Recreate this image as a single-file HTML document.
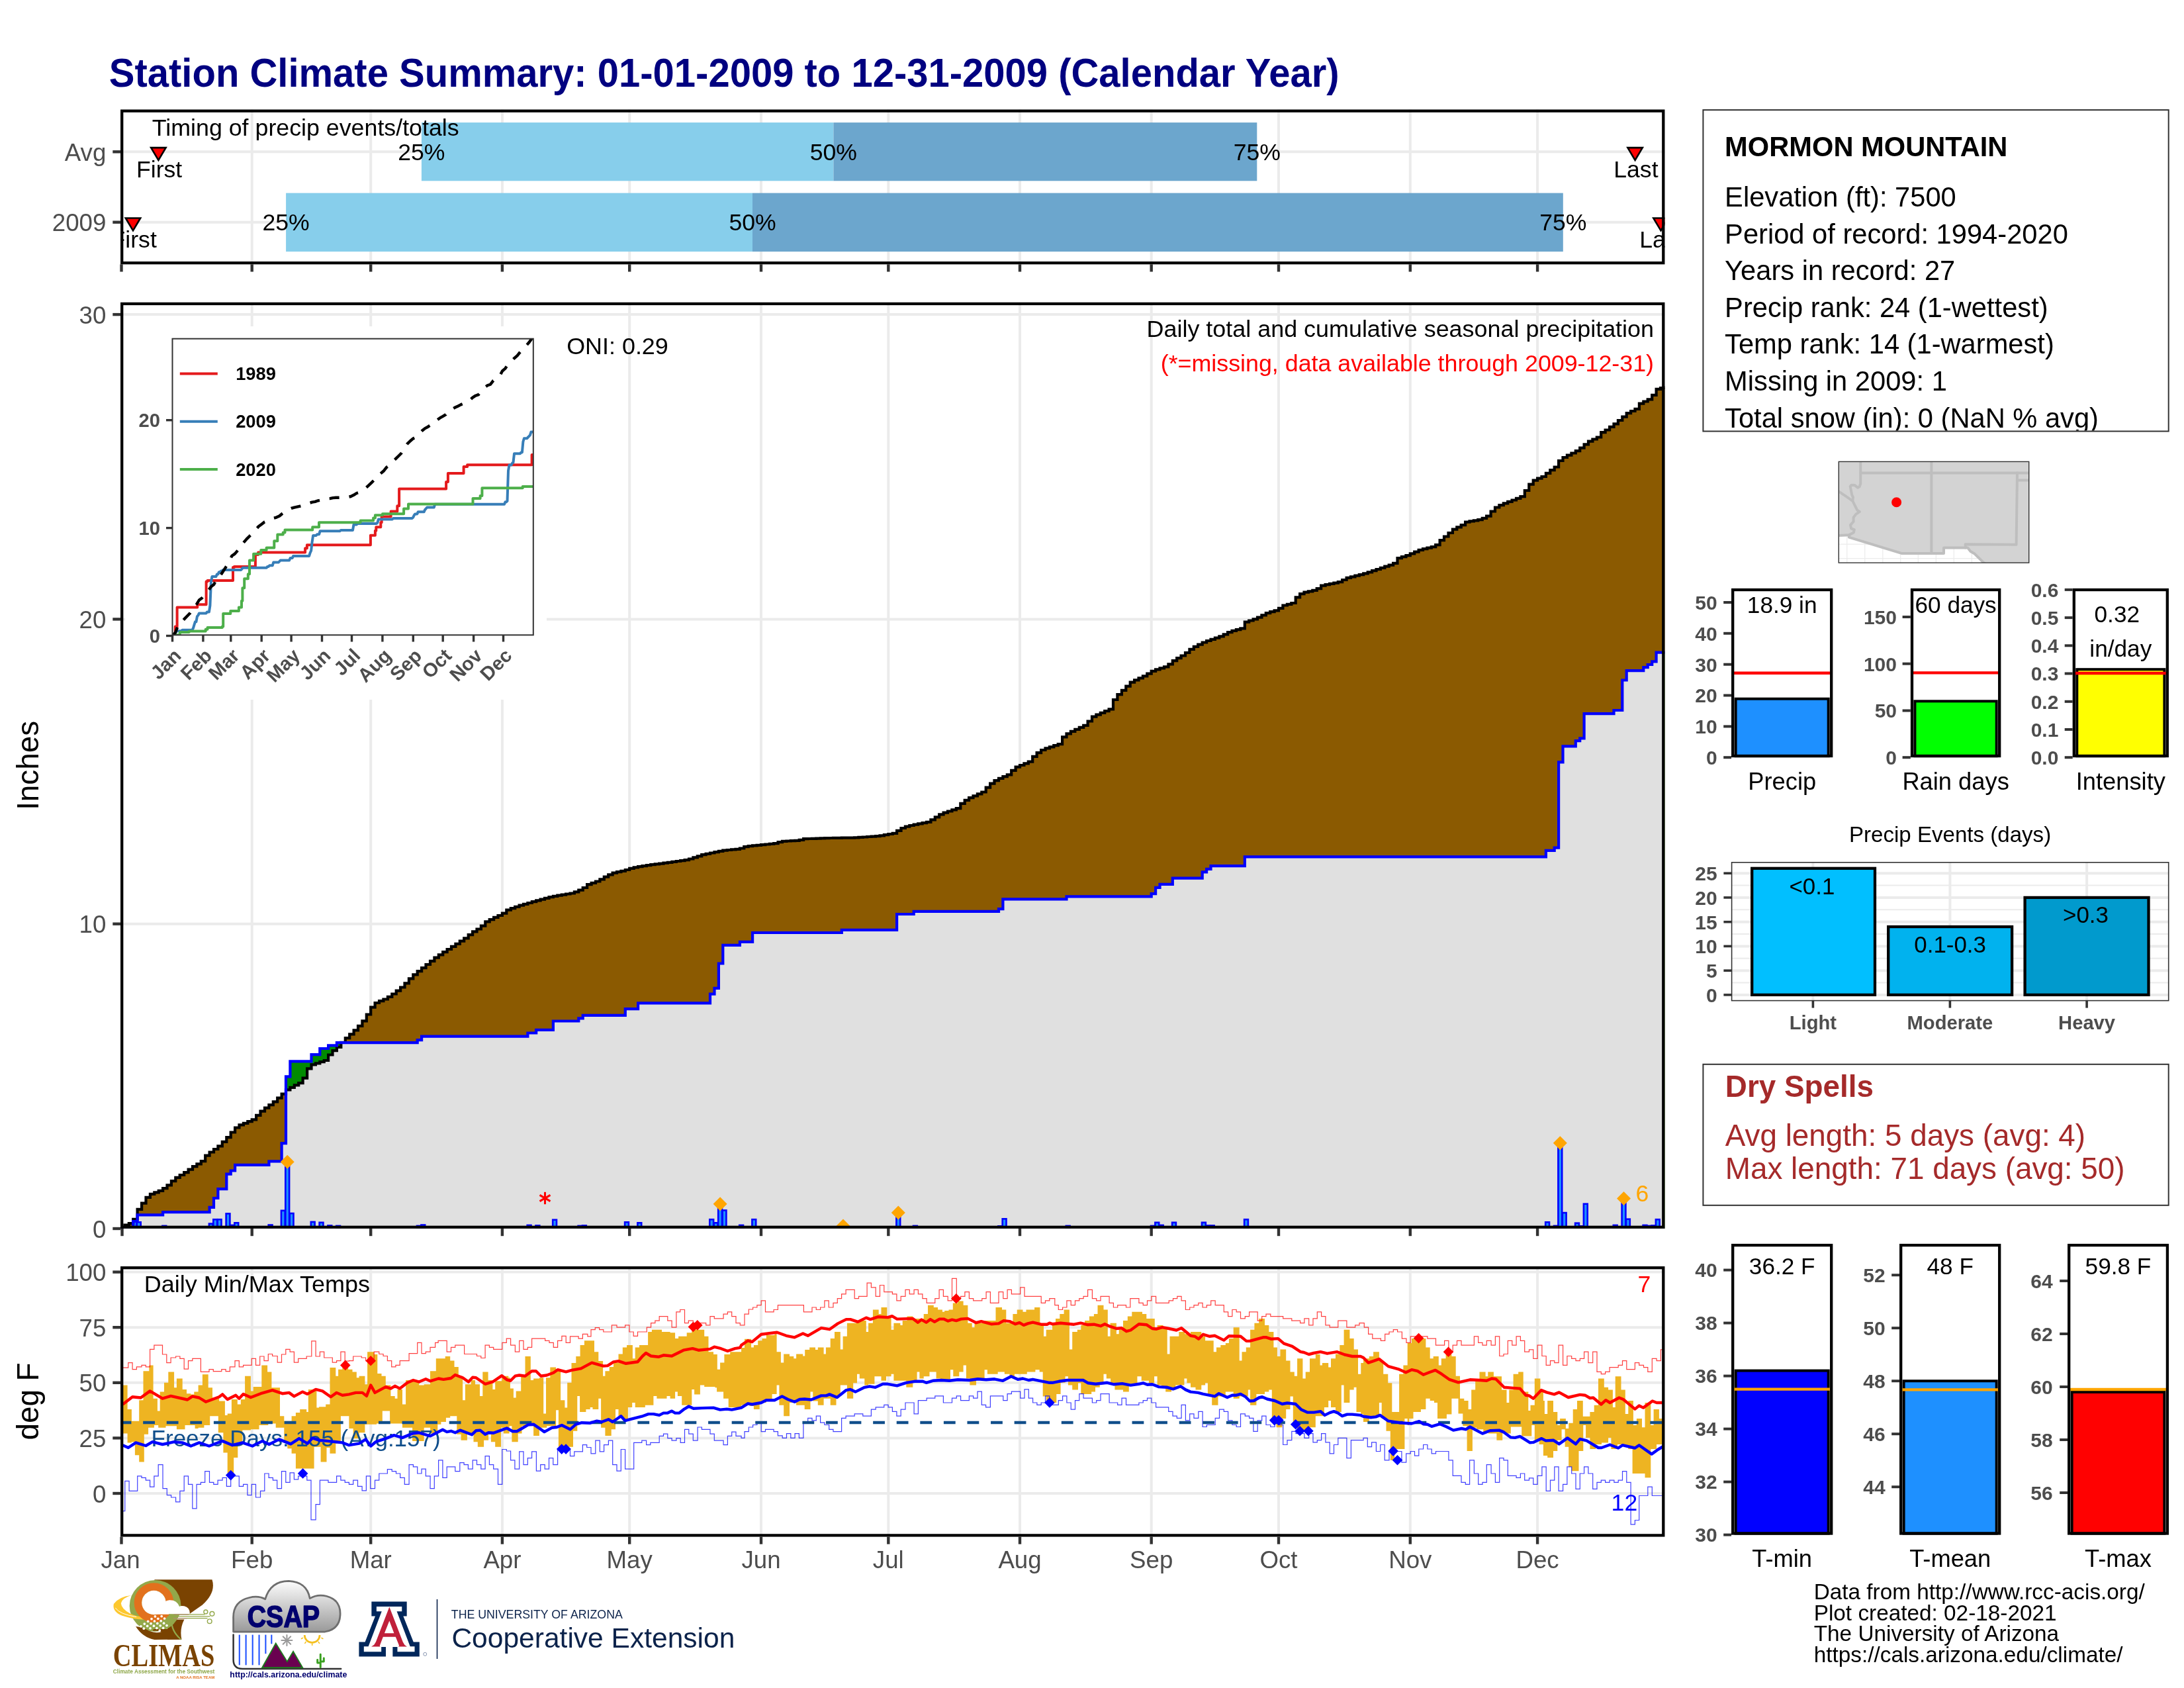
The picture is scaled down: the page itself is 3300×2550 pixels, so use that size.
<!DOCTYPE html><html><head><meta charset="utf-8"><title>Station Climate Summary</title>
<style>html,body{margin:0;padding:0;background:#fff}svg{display:block;will-change:transform;opacity:.999}text{font-family:"Liberation Sans",sans-serif}</style></head><body>
<svg width="3300" height="2550" viewBox="0 0 3300 2550">
<rect width="3300" height="2550" fill="#fff"/>
<text transform="translate(164.8 131.3) scale(1.0035 1.065)" x="0" y="0" font-size="57.8" font-weight="bold" fill="#000080">Station Climate Summary: 01-01-2009 to 12-31-2009 (Calendar Year)</text>
<g>
<line x1="380.7" y1="165.4" x2="380.7" y2="399.3" stroke="#EBEBEB" stroke-width="4" />
<line x1="560.2" y1="165.4" x2="560.2" y2="399.3" stroke="#EBEBEB" stroke-width="4" />
<line x1="758.9" y1="165.4" x2="758.9" y2="399.3" stroke="#EBEBEB" stroke-width="4" />
<line x1="951.2" y1="165.4" x2="951.2" y2="399.3" stroke="#EBEBEB" stroke-width="4" />
<line x1="1150" y1="165.4" x2="1150" y2="399.3" stroke="#EBEBEB" stroke-width="4" />
<line x1="1342.3" y1="165.4" x2="1342.3" y2="399.3" stroke="#EBEBEB" stroke-width="4" />
<line x1="1541" y1="165.4" x2="1541" y2="399.3" stroke="#EBEBEB" stroke-width="4" />
<line x1="1739.7" y1="165.4" x2="1739.7" y2="399.3" stroke="#EBEBEB" stroke-width="4" />
<line x1="1932" y1="165.4" x2="1932" y2="399.3" stroke="#EBEBEB" stroke-width="4" />
<line x1="2130.8" y1="165.4" x2="2130.8" y2="399.3" stroke="#EBEBEB" stroke-width="4" />
<line x1="2323.1" y1="165.4" x2="2323.1" y2="399.3" stroke="#EBEBEB" stroke-width="4" />
<line x1="182" y1="229.3" x2="2515.4" y2="229.3" stroke="#EBEBEB" stroke-width="4" />
<line x1="182" y1="335.7" x2="2515.4" y2="335.7" stroke="#EBEBEB" stroke-width="4" />
<rect x="636.9" y="185.1" width="622.5" height="88.2" fill="#87CEEB" stroke="none" stroke-width="0" />
<rect x="1259.4" y="185.1" width="639.9" height="88.2" fill="#6CA6CD" stroke="none" stroke-width="0" />
<rect x="432.1" y="291.6" width="704.9" height="88.5" fill="#87CEEB" stroke="none" stroke-width="0" />
<rect x="1137" y="291.6" width="1224.8" height="88.5" fill="#6CA6CD" stroke="none" stroke-width="0" />
</g>
<defs>
<clipPath id="cTop"><rect x="182" y="165.4" width="2333.4" height="233.9"/></clipPath>
<clipPath id="cMain"><rect x="182" y="456.8" width="2333.4" height="1399.2"/></clipPath>
<clipPath id="cTemp"><rect x="182" y="1913" width="2333.4" height="408.5"/></clipPath>
<clipPath id="cIns"><rect x="260.5" y="511.7" width="545.3" height="447.6"/></clipPath>
<linearGradient id="gCloud" x1="0" y1="0" x2="0" y2="1"><stop offset="0" stop-color="#fdfdfd"/><stop offset="1" stop-color="#9a9a9a"/></linearGradient>
</defs>
<g clip-path="url(#cTop)">
<text x="229.8" y="204.6" font-size="35.77" text-anchor="start" fill="#000" >Timing of precip events/totals</text>
<text x="636.9" y="241.8" font-size="35.6" text-anchor="middle" fill="#000" >25%</text>
<text x="1259.4" y="241.8" font-size="35.6" text-anchor="middle" fill="#000" >50%</text>
<text x="1899.3" y="241.8" font-size="35.6" text-anchor="middle" fill="#000" >75%</text>
<text x="432.1" y="348.4" font-size="35.6" text-anchor="middle" fill="#000" >25%</text>
<text x="1137" y="348.4" font-size="35.6" text-anchor="middle" fill="#000" >50%</text>
<text x="2361.8" y="348.4" font-size="35.6" text-anchor="middle" fill="#000" >75%</text>
<text x="240.6" y="267.7" font-size="35.6" text-anchor="middle" fill="#000" >First</text>
<text x="2471.9" y="267.7" font-size="35.6" text-anchor="middle" fill="#000" >Last</text>
<text x="202.2" y="374.1" font-size="35.6" text-anchor="middle" fill="#000" >First</text>
<text x="2510.8" y="374.1" font-size="35.6" text-anchor="middle" fill="#000" >Last</text>
<path d="M228.2 223.1 L250.6 223.1 L239.4 241.9 Z" fill="#FF0000" stroke="#000" stroke-width="2.6" stroke-linejoin="miter"/>
<path d="M2459.4 223.1 L2481.8 223.1 L2470.6 241.9 Z" fill="#FF0000" stroke="#000" stroke-width="2.6" stroke-linejoin="miter"/>
<path d="M189.8 329.5 L212.2 329.5 L201 348.3 Z" fill="#FF0000" stroke="#000" stroke-width="2.6" stroke-linejoin="miter"/>
<path d="M2498.3 329.5 L2520.7 329.5 L2509.5 348.3 Z" fill="#FF0000" stroke="#000" stroke-width="2.6" stroke-linejoin="miter"/>
</g>
<rect x="184.2" y="167.6" width="2329.1" height="229.6" fill="none" stroke="#000" stroke-width="4.3" />
<line x1="170.3" y1="229.3" x2="182" y2="229.3" stroke="#333333" stroke-width="4.4" />
<text x="160.3" y="242.7" font-size="36.67" text-anchor="end" fill="#4D4D4D" >Avg</text>
<line x1="170.3" y1="335.7" x2="182" y2="335.7" stroke="#333333" stroke-width="4.4" />
<text x="160.3" y="349.1" font-size="36.67" text-anchor="end" fill="#4D4D4D" >2009</text>
<line x1="183.5" y1="399.3" x2="183.5" y2="410.5" stroke="#333333" stroke-width="4.4" />
<line x1="380.7" y1="399.3" x2="380.7" y2="410.5" stroke="#333333" stroke-width="4.4" />
<line x1="560.2" y1="399.3" x2="560.2" y2="410.5" stroke="#333333" stroke-width="4.4" />
<line x1="758.9" y1="399.3" x2="758.9" y2="410.5" stroke="#333333" stroke-width="4.4" />
<line x1="951.2" y1="399.3" x2="951.2" y2="410.5" stroke="#333333" stroke-width="4.4" />
<line x1="1150" y1="399.3" x2="1150" y2="410.5" stroke="#333333" stroke-width="4.4" />
<line x1="1342.3" y1="399.3" x2="1342.3" y2="410.5" stroke="#333333" stroke-width="4.4" />
<line x1="1541" y1="399.3" x2="1541" y2="410.5" stroke="#333333" stroke-width="4.4" />
<line x1="1739.7" y1="399.3" x2="1739.7" y2="410.5" stroke="#333333" stroke-width="4.4" />
<line x1="1932" y1="399.3" x2="1932" y2="410.5" stroke="#333333" stroke-width="4.4" />
<line x1="2130.8" y1="399.3" x2="2130.8" y2="410.5" stroke="#333333" stroke-width="4.4" />
<line x1="2323.1" y1="399.3" x2="2323.1" y2="410.5" stroke="#333333" stroke-width="4.4" />
<g clip-path="url(#cMain)">
<line x1="380.7" y1="456.8" x2="380.7" y2="1856" stroke="#EBEBEB" stroke-width="4" />
<line x1="560.2" y1="456.8" x2="560.2" y2="1856" stroke="#EBEBEB" stroke-width="4" />
<line x1="758.9" y1="456.8" x2="758.9" y2="1856" stroke="#EBEBEB" stroke-width="4" />
<line x1="951.2" y1="456.8" x2="951.2" y2="1856" stroke="#EBEBEB" stroke-width="4" />
<line x1="1150" y1="456.8" x2="1150" y2="1856" stroke="#EBEBEB" stroke-width="4" />
<line x1="1342.3" y1="456.8" x2="1342.3" y2="1856" stroke="#EBEBEB" stroke-width="4" />
<line x1="1541" y1="456.8" x2="1541" y2="1856" stroke="#EBEBEB" stroke-width="4" />
<line x1="1739.7" y1="456.8" x2="1739.7" y2="1856" stroke="#EBEBEB" stroke-width="4" />
<line x1="1932" y1="456.8" x2="1932" y2="1856" stroke="#EBEBEB" stroke-width="4" />
<line x1="2130.8" y1="456.8" x2="2130.8" y2="1856" stroke="#EBEBEB" stroke-width="4" />
<line x1="2323.1" y1="456.8" x2="2323.1" y2="1856" stroke="#EBEBEB" stroke-width="4" />
<line x1="182" y1="1395.7" x2="2515.4" y2="1395.7" stroke="#EBEBEB" stroke-width="4" />
<line x1="182" y1="935.4" x2="2515.4" y2="935.4" stroke="#EBEBEB" stroke-width="4" />
<line x1="182" y1="475.1" x2="2515.4" y2="475.1" stroke="#EBEBEB" stroke-width="4" />
<path d="M182 1856 L182 1856 L188.4 1856 L188.4 1850.5 L194.8 1850.5 L194.8 1848.1 L201.2 1848.1 L201.2 1841.8 L207.6 1841.8 L207.6 1826.8 L214.1 1826.8 L214.1 1817.7 L220.5 1817.7 L220.5 1808.8 L226.9 1808.8 L226.9 1803.8 L233.3 1803.8 L233.3 1801.3 L239.7 1801.3 L239.7 1798.9 L246.1 1798.9 L246.1 1795.2 L252.5 1795.2 L252.5 1790.4 L258.9 1790.4 L258.9 1784.2 L265.3 1784.2 L265.3 1778.9 L271.7 1778.9 L271.7 1775 L278.2 1775 L278.2 1771.2 L284.6 1771.2 L284.6 1766.7 L291 1766.7 L291 1762.2 L297.4 1762.2 L297.4 1758.4 L303.8 1758.4 L303.8 1754.2 L310.2 1754.2 L310.2 1745.6 L316.6 1745.6 L316.6 1740.5 L323 1740.5 L323 1736 L329.4 1736 L329.4 1731.3 L335.8 1731.3 L335.8 1724.9 L342.3 1724.9 L342.3 1718.2 L348.7 1718.2 L348.7 1710.5 L355.1 1710.5 L355.1 1703.5 L361.5 1703.5 L361.5 1699.3 L367.9 1699.3 L367.9 1696.8 L374.3 1696.8 L374.3 1694.2 L380.7 1694.2 L380.7 1691.3 L387.1 1691.3 L387.1 1684.9 L393.5 1684.9 L393.5 1678.6 L400 1678.6 L400 1673.6 L406.4 1673.6 L406.4 1669.1 L412.8 1669.1 L412.8 1664.4 L419.2 1664.4 L419.2 1658.6 L425.6 1658.6 L425.6 1652.7 L432 1652.7 L432 1646.4 L438.4 1646.4 L438.4 1642.8 L444.8 1642.8 L444.8 1639.4 L451.2 1639.4 L451.2 1636.2 L457.6 1636.2 L457.6 1628.6 L464.1 1628.6 L464.1 1614.3 L470.5 1614.3 L470.5 1608.4 L476.9 1608.4 L476.9 1606.3 L483.3 1606.3 L483.3 1604.2 L489.7 1604.2 L489.7 1602 L496.1 1602 L496.1 1593.5 L502.5 1593.5 L502.5 1587.2 L508.9 1587.2 L508.9 1581.8 L515.3 1581.8 L515.3 1574.8 L521.8 1574.8 L521.8 1568.1 L528.2 1568.1 L528.2 1562.3 L534.6 1562.3 L534.6 1556.4 L541 1556.4 L541 1549.9 L547.4 1549.9 L547.4 1542.4 L553.8 1542.4 L553.8 1532.5 L560.2 1532.5 L560.2 1521.7 L566.6 1521.7 L566.6 1515 L573 1515 L573 1512.2 L579.4 1512.2 L579.4 1509.5 L585.9 1509.5 L585.9 1505.9 L592.3 1505.9 L592.3 1501.5 L598.7 1501.5 L598.7 1496.7 L605.1 1496.7 L605.1 1491.5 L611.5 1491.5 L611.5 1485.4 L617.9 1485.4 L617.9 1478.3 L624.3 1478.3 L624.3 1472.4 L630.7 1472.4 L630.7 1467.2 L637.1 1467.2 L637.1 1462.1 L643.5 1462.1 L643.5 1457 L650 1457 L650 1451.9 L656.4 1451.9 L656.4 1446.7 L662.8 1446.7 L662.8 1442.3 L669.2 1442.3 L669.2 1438.2 L675.6 1438.2 L675.6 1434 L682 1434 L682 1429.9 L688.4 1429.9 L688.4 1425.8 L694.8 1425.8 L694.8 1421.7 L701.2 1421.7 L701.2 1417.4 L707.7 1417.4 L707.7 1412.2 L714.1 1412.2 L714.1 1407.4 L720.5 1407.4 L720.5 1403.5 L726.9 1403.5 L726.9 1398.7 L733.3 1398.7 L733.3 1392.3 L739.7 1392.3 L739.7 1389.1 L746.1 1389.1 L746.1 1385.9 L752.5 1385.9 L752.5 1383 L758.9 1383 L758.9 1379.6 L765.3 1379.6 L765.3 1374.6 L771.8 1374.6 L771.8 1372.2 L778.2 1372.2 L778.2 1369.8 L784.6 1369.8 L784.6 1367.6 L791 1367.6 L791 1365.8 L797.4 1365.8 L797.4 1364 L803.8 1364 L803.8 1362.2 L810.2 1362.2 L810.2 1360.4 L816.6 1360.4 L816.6 1358.7 L823 1358.7 L823 1356.9 L829.5 1356.9 L829.5 1355.2 L835.9 1355.2 L835.9 1353.9 L842.3 1353.9 L842.3 1352.7 L848.7 1352.7 L848.7 1351.6 L855.1 1351.6 L855.1 1350.5 L861.5 1350.5 L861.5 1349.5 L867.9 1349.5 L867.9 1347.3 L874.3 1347.3 L874.3 1344.7 L880.7 1344.7 L880.7 1341 L887.1 1341 L887.1 1336.2 L893.6 1336.2 L893.6 1333.9 L900 1333.9 L900 1331.5 L906.4 1331.5 L906.4 1328.3 L912.8 1328.3 L912.8 1324.7 L919.2 1324.7 L919.2 1321.3 L925.6 1321.3 L925.6 1318.6 L932 1318.6 L932 1317.2 L938.4 1317.2 L938.4 1315.8 L944.8 1315.8 L944.8 1314 L951.2 1314 L951.2 1311.9 L957.7 1311.9 L957.7 1310.3 L964.1 1310.3 L964.1 1309.2 L970.5 1309.2 L970.5 1308.1 L976.9 1308.1 L976.9 1307.1 L983.3 1307.1 L983.3 1306.2 L989.7 1306.2 L989.7 1305.4 L996.1 1305.4 L996.1 1304.6 L1002.5 1304.6 L1002.5 1303.7 L1008.9 1303.7 L1008.9 1302.8 L1015.4 1302.8 L1015.4 1301.9 L1021.8 1301.9 L1021.8 1301 L1028.2 1301 L1028.2 1300.1 L1034.6 1300.1 L1034.6 1299.1 L1041 1299.1 L1041 1297.5 L1047.4 1297.5 L1047.4 1295.4 L1053.8 1295.4 L1053.8 1293.3 L1060.2 1293.3 L1060.2 1291.2 L1066.6 1291.2 L1066.6 1289.8 L1073 1289.8 L1073 1288.5 L1079.5 1288.5 L1079.5 1287.1 L1085.9 1287.1 L1085.9 1285.8 L1092.3 1285.8 L1092.3 1284.7 L1098.7 1284.7 L1098.7 1284 L1105.1 1284 L1105.1 1283.4 L1111.5 1283.4 L1111.5 1282.8 L1117.9 1282.8 L1117.9 1281.5 L1124.3 1281.5 L1124.3 1279.1 L1130.7 1279.1 L1130.7 1278.1 L1137.1 1278.1 L1137.1 1277.4 L1143.6 1277.4 L1143.6 1276.8 L1150 1276.8 L1150 1276.1 L1156.4 1276.1 L1156.4 1275.5 L1162.8 1275.5 L1162.8 1274.9 L1169.2 1274.9 L1169.2 1274.2 L1175.6 1274.2 L1175.6 1272.2 L1182 1272.2 L1182 1270.8 L1188.4 1270.8 L1188.4 1270.5 L1194.8 1270.5 L1194.8 1270.2 L1201.3 1270.2 L1201.3 1269.9 L1207.7 1269.9 L1207.7 1268.8 L1214.1 1268.8 L1214.1 1267.2 L1220.5 1267.2 L1220.5 1267 L1226.9 1267 L1226.9 1266.8 L1233.3 1266.8 L1233.3 1266.6 L1239.7 1266.6 L1239.7 1266.3 L1246.1 1266.3 L1246.1 1266.1 L1252.5 1266.1 L1252.5 1266 L1258.9 1266 L1258.9 1265.9 L1265.4 1265.9 L1265.4 1265.8 L1271.8 1265.8 L1271.8 1265.7 L1278.2 1265.7 L1278.2 1265.7 L1284.6 1265.7 L1284.6 1265.6 L1291 1265.6 L1291 1265.3 L1297.4 1265.3 L1297.4 1264.9 L1303.8 1264.9 L1303.8 1264.5 L1310.2 1264.5 L1310.2 1264 L1316.6 1264 L1316.6 1263.6 L1323.1 1263.6 L1323.1 1263.2 L1329.5 1263.2 L1329.5 1262.3 L1335.9 1262.3 L1335.9 1261.2 L1342.3 1261.2 L1342.3 1260 L1348.7 1260 L1348.7 1258.9 L1355.1 1258.9 L1355.1 1254.9 L1361.5 1254.9 L1361.5 1251 L1367.9 1251 L1367.9 1248.7 L1374.3 1248.7 L1374.3 1247 L1380.7 1247 L1380.7 1245.7 L1387.2 1245.7 L1387.2 1244.4 L1393.6 1244.4 L1393.6 1243.1 L1400 1243.1 L1400 1241.8 L1406.4 1241.8 L1406.4 1238.3 L1412.8 1238.3 L1412.8 1234.3 L1419.2 1234.3 L1419.2 1230.3 L1425.6 1230.3 L1425.6 1227.6 L1432 1227.6 L1432 1225.5 L1438.4 1225.5 L1438.4 1223.4 L1444.8 1223.4 L1444.8 1221.2 L1451.3 1221.2 L1451.3 1213.9 L1457.7 1213.9 L1457.7 1208.9 L1464.1 1208.9 L1464.1 1205.2 L1470.5 1205.2 L1470.5 1202.3 L1476.9 1202.3 L1476.9 1199.4 L1483.3 1199.4 L1483.3 1196.5 L1489.7 1196.5 L1489.7 1189.6 L1496.1 1189.6 L1496.1 1183.7 L1502.5 1183.7 L1502.5 1179.2 L1509 1179.2 L1509 1175.9 L1515.4 1175.9 L1515.4 1173.1 L1521.8 1173.1 L1521.8 1170.3 L1528.2 1170.3 L1528.2 1163.9 L1534.6 1163.9 L1534.6 1158.7 L1541 1158.7 L1541 1156 L1547.4 1156 L1547.4 1153.3 L1553.8 1153.3 L1553.8 1150.6 L1560.2 1150.6 L1560.2 1142.8 L1566.6 1142.8 L1566.6 1137.2 L1573.1 1137.2 L1573.1 1133 L1579.5 1133 L1579.5 1130.3 L1585.9 1130.3 L1585.9 1128.3 L1592.3 1128.3 L1592.3 1126.2 L1598.7 1126.2 L1598.7 1124.2 L1605.1 1124.2 L1605.1 1113.3 L1611.5 1113.3 L1611.5 1108.3 L1617.9 1108.3 L1617.9 1104.9 L1624.3 1104.9 L1624.3 1101.9 L1630.8 1101.9 L1630.8 1098.9 L1637.2 1098.9 L1637.2 1095.9 L1643.6 1095.9 L1643.6 1089.5 L1650 1089.5 L1650 1082.7 L1656.4 1082.7 L1656.4 1079.6 L1662.8 1079.6 L1662.8 1076.9 L1669.2 1076.9 L1669.2 1074.1 L1675.6 1074.1 L1675.6 1071.3 L1682 1071.3 L1682 1057 L1688.4 1057 L1688.4 1049.2 L1694.9 1049.2 L1694.9 1042.8 L1701.3 1042.8 L1701.3 1036.7 L1707.7 1036.7 L1707.7 1030.7 L1714.1 1030.7 L1714.1 1027.4 L1720.5 1027.4 L1720.5 1024.3 L1726.9 1024.3 L1726.9 1021.3 L1733.3 1021.3 L1733.3 1017.6 L1739.7 1017.6 L1739.7 1013.8 L1746.1 1013.8 L1746.1 1011.4 L1752.5 1011.4 L1752.5 1009.4 L1759 1009.4 L1759 1007.4 L1765.4 1007.4 L1765.4 1003.3 L1771.8 1003.3 L1771.8 998.2 L1778.2 998.2 L1778.2 994.1 L1784.6 994.1 L1784.6 990.5 L1791 990.5 L1791 986 L1797.4 986 L1797.4 980.9 L1803.8 980.9 L1803.8 976.9 L1810.2 976.9 L1810.2 973.7 L1816.7 973.7 L1816.7 970.5 L1823.1 970.5 L1823.1 968 L1829.5 968 L1829.5 965.8 L1835.9 965.8 L1835.9 963.6 L1842.3 963.6 L1842.3 961.3 L1848.7 961.3 L1848.7 958.3 L1855.1 958.3 L1855.1 955.1 L1861.5 955.1 L1861.5 952.9 L1867.9 952.9 L1867.9 951.1 L1874.3 951.1 L1874.3 949.3 L1880.8 949.3 L1880.8 939.7 L1887.2 939.7 L1887.2 937.5 L1893.6 937.5 L1893.6 935.4 L1900 935.4 L1900 932.6 L1906.4 932.6 L1906.4 929.4 L1912.8 929.4 L1912.8 926.2 L1919.2 926.2 L1919.2 924.2 L1925.6 924.2 L1925.6 922.4 L1932 922.4 L1932 918.9 L1938.4 918.9 L1938.4 914.5 L1944.9 914.5 L1944.9 912.8 L1951.3 912.8 L1951.3 911 L1957.7 911 L1957.7 902.4 L1964.1 902.4 L1964.1 897.1 L1970.5 897.1 L1970.5 894.7 L1976.9 894.7 L1976.9 893.3 L1983.3 893.3 L1983.3 891.8 L1989.7 891.8 L1989.7 889.1 L1996.1 889.1 L1996.1 884.6 L2002.6 884.6 L2002.6 883.2 L2009 883.2 L2009 881.9 L2015.4 881.9 L2015.4 880.6 L2021.8 880.6 L2021.8 879.2 L2028.2 879.2 L2028.2 876 L2034.6 876 L2034.6 872.9 L2041 872.9 L2041 871.3 L2047.4 871.3 L2047.4 869.7 L2053.8 869.7 L2053.8 868.1 L2060.2 868.1 L2060.2 866.4 L2066.7 866.4 L2066.7 864.3 L2073.1 864.3 L2073.1 862.1 L2079.5 862.1 L2079.5 860 L2085.9 860 L2085.9 857.9 L2092.3 857.9 L2092.3 855.7 L2098.7 855.7 L2098.7 853.6 L2105.1 853.6 L2105.1 850.8 L2111.5 850.8 L2111.5 843.2 L2117.9 843.2 L2117.9 841.2 L2124.4 841.2 L2124.4 839.2 L2130.8 839.2 L2130.8 836.4 L2137.2 836.4 L2137.2 833.6 L2143.6 833.6 L2143.6 830.8 L2150 830.8 L2150 829.1 L2156.4 829.1 L2156.4 827.6 L2162.8 827.6 L2162.8 826.2 L2169.2 826.2 L2169.2 823.2 L2175.6 823.2 L2175.6 816.1 L2182 816.1 L2182 810.5 L2188.5 810.5 L2188.5 805 L2194.9 805 L2194.9 799.6 L2201.3 799.6 L2201.3 796.3 L2207.7 796.3 L2207.7 793.1 L2214.1 793.1 L2214.1 788.7 L2220.5 788.7 L2220.5 787.3 L2226.9 787.3 L2226.9 786.3 L2233.3 786.3 L2233.3 785.1 L2239.7 785.1 L2239.7 782.8 L2246.1 782.8 L2246.1 779.7 L2252.6 779.7 L2252.6 772.5 L2259 772.5 L2259 766.5 L2265.4 766.5 L2265.4 763.1 L2271.8 763.1 L2271.8 760.3 L2278.2 760.3 L2278.2 757.9 L2284.6 757.9 L2284.6 755.5 L2291 755.5 L2291 752.8 L2297.4 752.8 L2297.4 750.1 L2303.8 750.1 L2303.8 741 L2310.3 741 L2310.3 731.7 L2316.7 731.7 L2316.7 725.7 L2323.1 725.7 L2323.1 722.7 L2329.5 722.7 L2329.5 720 L2335.9 720 L2335.9 714.8 L2342.3 714.8 L2342.3 710.1 L2348.7 710.1 L2348.7 705.5 L2355.1 705.5 L2355.1 696 L2361.5 696 L2361.5 691 L2367.9 691 L2367.9 687.7 L2374.4 687.7 L2374.4 684.5 L2380.8 684.5 L2380.8 681.2 L2387.2 681.2 L2387.2 676.7 L2393.6 676.7 L2393.6 671.3 L2400 671.3 L2400 666.6 L2406.4 666.6 L2406.4 663.5 L2412.8 663.5 L2412.8 660.5 L2419.2 660.5 L2419.2 653.2 L2425.6 653.2 L2425.6 649.5 L2432.1 649.5 L2432.1 644.9 L2438.5 644.9 L2438.5 640.3 L2444.9 640.3 L2444.9 635 L2451.3 635 L2451.3 629.6 L2457.7 629.6 L2457.7 624.1 L2464.1 624.1 L2464.1 621 L2470.5 621 L2470.5 617.8 L2476.9 617.8 L2476.9 609.7 L2483.3 609.7 L2483.3 606.5 L2489.7 606.5 L2489.7 603.3 L2496.2 603.3 L2496.2 596.9 L2502.6 596.9 L2502.6 587.9 L2509 587.9 L2509 586 L2515.4 586 L2515.4 585.4 L2521.8 585.4 L2521.8 1856Z" fill="#8B5A00"/>
<path d="M182 1856 L182 1856 L188.4 1856 L188.4 1856 L194.8 1856 L194.8 1856 L201.2 1856 L201.2 1845 L207.6 1845 L207.6 1835.3 L214.1 1835.3 L214.1 1835.3 L220.5 1835.3 L220.5 1835.3 L226.9 1835.3 L226.9 1835.3 L233.3 1835.3 L233.3 1835.3 L239.7 1835.3 L239.7 1835.3 L246.1 1835.3 L246.1 1831.1 L252.5 1831.1 L252.5 1831.1 L258.9 1831.1 L258.9 1831.1 L265.3 1831.1 L265.3 1831.1 L271.7 1831.1 L271.7 1831.1 L278.2 1831.1 L278.2 1831.1 L284.6 1831.1 L284.6 1831.1 L291 1831.1 L291 1831.1 L297.4 1831.1 L297.4 1831.1 L303.8 1831.1 L303.8 1831.1 L310.2 1831.1 L310.2 1831.1 L316.6 1831.1 L316.6 1823.8 L323 1823.8 L323 1810 L329.4 1810 L329.4 1796.2 L335.8 1796.2 L335.8 1796.2 L342.3 1796.2 L342.3 1773.6 L348.7 1773.6 L348.7 1768.5 L355.1 1768.5 L355.1 1759.8 L361.5 1759.8 L361.5 1759.8 L367.9 1759.8 L367.9 1759.8 L374.3 1759.8 L374.3 1759.8 L380.7 1759.8 L380.7 1759.8 L387.1 1759.8 L387.1 1759.8 L393.5 1759.8 L393.5 1759.8 L400 1759.8 L400 1759.8 L406.4 1759.8 L406.4 1754.3 L412.8 1754.3 L412.8 1754.3 L419.2 1754.3 L419.2 1754.3 L425.6 1754.3 L425.6 1727.1 L432 1727.1 L432 1626.3 L438.4 1626.3 L438.4 1603.3 L444.8 1603.3 L444.8 1603.3 L451.2 1603.3 L451.2 1603.3 L457.6 1603.3 L457.6 1603.3 L464.1 1603.3 L464.1 1603.3 L470.5 1603.3 L470.5 1593.2 L476.9 1593.2 L476.9 1593.2 L483.3 1593.2 L483.3 1584 L489.7 1584 L489.7 1584 L496.1 1584 L496.1 1579.4 L502.5 1579.4 L502.5 1579.4 L508.9 1579.4 L508.9 1575.2 L515.3 1575.2 L515.3 1575.2 L521.8 1575.2 L521.8 1575.2 L528.2 1575.2 L528.2 1575.2 L534.6 1575.2 L534.6 1575.2 L541 1575.2 L541 1575.2 L547.4 1575.2 L547.4 1575.2 L553.8 1575.2 L553.8 1575.2 L560.2 1575.2 L560.2 1575.2 L566.6 1575.2 L566.6 1575.2 L573 1575.2 L573 1575.2 L579.4 1575.2 L579.4 1575.2 L585.9 1575.2 L585.9 1575.2 L592.3 1575.2 L592.3 1575.2 L598.7 1575.2 L598.7 1575.2 L605.1 1575.2 L605.1 1575.2 L611.5 1575.2 L611.5 1575.2 L617.9 1575.2 L617.9 1575.2 L624.3 1575.2 L624.3 1575.2 L630.7 1575.2 L630.7 1571.1 L637.1 1571.1 L637.1 1565.6 L643.5 1565.6 L643.5 1565.6 L650 1565.6 L650 1565.6 L656.4 1565.6 L656.4 1565.6 L662.8 1565.6 L662.8 1565.6 L669.2 1565.6 L669.2 1565.6 L675.6 1565.6 L675.6 1565.6 L682 1565.6 L682 1565.6 L688.4 1565.6 L688.4 1565.6 L694.8 1565.6 L694.8 1565.6 L701.2 1565.6 L701.2 1565.6 L707.7 1565.6 L707.7 1565.6 L714.1 1565.6 L714.1 1565.6 L720.5 1565.6 L720.5 1565.6 L726.9 1565.6 L726.9 1565.6 L733.3 1565.6 L733.3 1565.6 L739.7 1565.6 L739.7 1565.6 L746.1 1565.6 L746.1 1565.6 L752.5 1565.6 L752.5 1565.6 L758.9 1565.6 L758.9 1565.6 L765.3 1565.6 L765.3 1565.6 L771.8 1565.6 L771.8 1565.6 L778.2 1565.6 L778.2 1565.6 L784.6 1565.6 L784.6 1565.6 L791 1565.6 L791 1565.6 L797.4 1565.6 L797.4 1560.5 L803.8 1560.5 L803.8 1560.5 L810.2 1560.5 L810.2 1555.9 L816.6 1555.9 L816.6 1555.9 L823 1555.9 L823 1555.9 L829.5 1555.9 L829.5 1555.9 L835.9 1555.9 L835.9 1542.5 L842.3 1542.5 L842.3 1542.5 L848.7 1542.5 L848.7 1542.5 L855.1 1542.5 L855.1 1542.5 L861.5 1542.5 L861.5 1542.5 L867.9 1542.5 L867.9 1542.5 L874.3 1542.5 L874.3 1538.4 L880.7 1538.4 L880.7 1533.8 L887.1 1533.8 L887.1 1533.8 L893.6 1533.8 L893.6 1533.8 L900 1533.8 L900 1533.8 L906.4 1533.8 L906.4 1533.8 L912.8 1533.8 L912.8 1533.8 L919.2 1533.8 L919.2 1533.8 L925.6 1533.8 L925.6 1533.8 L932 1533.8 L932 1533.8 L938.4 1533.8 L938.4 1533.8 L944.8 1533.8 L944.8 1524.1 L951.2 1524.1 L951.2 1524.1 L957.7 1524.1 L957.7 1524.1 L964.1 1524.1 L964.1 1515.4 L970.5 1515.4 L970.5 1515.4 L976.9 1515.4 L976.9 1515.4 L983.3 1515.4 L983.3 1515.4 L989.7 1515.4 L989.7 1515.4 L996.1 1515.4 L996.1 1515.4 L1002.5 1515.4 L1002.5 1515.4 L1008.9 1515.4 L1008.9 1515.4 L1015.4 1515.4 L1015.4 1515.4 L1021.8 1515.4 L1021.8 1515.4 L1028.2 1515.4 L1028.2 1515.4 L1034.6 1515.4 L1034.6 1515.4 L1041 1515.4 L1041 1515.4 L1047.4 1515.4 L1047.4 1515.4 L1053.8 1515.4 L1053.8 1515.4 L1060.2 1515.4 L1060.2 1515.4 L1066.6 1515.4 L1066.6 1515.4 L1073 1515.4 L1073 1501.6 L1079.5 1501.6 L1079.5 1492.8 L1085.9 1492.8 L1085.9 1455.5 L1092.3 1455.5 L1092.3 1427.9 L1098.7 1427.9 L1098.7 1427.9 L1105.1 1427.9 L1105.1 1427.9 L1111.5 1427.9 L1111.5 1427.9 L1117.9 1427.9 L1117.9 1422.9 L1124.3 1422.9 L1124.3 1422.9 L1130.7 1422.9 L1130.7 1422.9 L1137.1 1422.9 L1137.1 1409 L1143.6 1409 L1143.6 1409 L1150 1409 L1150 1409 L1156.4 1409 L1156.4 1409 L1162.8 1409 L1162.8 1409 L1169.2 1409 L1169.2 1409 L1175.6 1409 L1175.6 1409 L1182 1409 L1182 1409 L1188.4 1409 L1188.4 1409 L1194.8 1409 L1194.8 1409 L1201.3 1409 L1201.3 1409 L1207.7 1409 L1207.7 1409 L1214.1 1409 L1214.1 1409 L1220.5 1409 L1220.5 1409 L1226.9 1409 L1226.9 1409 L1233.3 1409 L1233.3 1409 L1239.7 1409 L1239.7 1409 L1246.1 1409 L1246.1 1409 L1252.5 1409 L1252.5 1409 L1258.9 1409 L1258.9 1409 L1265.4 1409 L1265.4 1409 L1271.8 1409 L1271.8 1404.9 L1278.2 1404.9 L1278.2 1404.9 L1284.6 1404.9 L1284.6 1404.9 L1291 1404.9 L1291 1404.9 L1297.4 1404.9 L1297.4 1404.9 L1303.8 1404.9 L1303.8 1404.9 L1310.2 1404.9 L1310.2 1404.9 L1316.6 1404.9 L1316.6 1404.9 L1323.1 1404.9 L1323.1 1404.9 L1329.5 1404.9 L1329.5 1404.9 L1335.9 1404.9 L1335.9 1404.9 L1342.3 1404.9 L1342.3 1404.9 L1348.7 1404.9 L1348.7 1404.9 L1355.1 1404.9 L1355.1 1381 L1361.5 1381 L1361.5 1381 L1367.9 1381 L1367.9 1381 L1374.3 1381 L1374.3 1381 L1380.7 1381 L1380.7 1376.8 L1387.2 1376.8 L1387.2 1376.8 L1393.6 1376.8 L1393.6 1376.8 L1400 1376.8 L1400 1376.8 L1406.4 1376.8 L1406.4 1376.8 L1412.8 1376.8 L1412.8 1376.8 L1419.2 1376.8 L1419.2 1376.8 L1425.6 1376.8 L1425.6 1376.8 L1432 1376.8 L1432 1376.8 L1438.4 1376.8 L1438.4 1376.8 L1444.8 1376.8 L1444.8 1376.8 L1451.3 1376.8 L1451.3 1376.8 L1457.7 1376.8 L1457.7 1376.8 L1464.1 1376.8 L1464.1 1376.8 L1470.5 1376.8 L1470.5 1376.8 L1476.9 1376.8 L1476.9 1376.8 L1483.3 1376.8 L1483.3 1376.8 L1489.7 1376.8 L1489.7 1376.8 L1496.1 1376.8 L1496.1 1376.8 L1502.5 1376.8 L1502.5 1376.8 L1509 1376.8 L1509 1373.1 L1515.4 1373.1 L1515.4 1358.4 L1521.8 1358.4 L1521.8 1358.4 L1528.2 1358.4 L1528.2 1358.4 L1534.6 1358.4 L1534.6 1358.4 L1541 1358.4 L1541 1358.4 L1547.4 1358.4 L1547.4 1358.4 L1553.8 1358.4 L1553.8 1358.4 L1560.2 1358.4 L1560.2 1358.4 L1566.6 1358.4 L1566.6 1358.4 L1573.1 1358.4 L1573.1 1358.4 L1579.5 1358.4 L1579.5 1358.4 L1585.9 1358.4 L1585.9 1358.4 L1592.3 1358.4 L1592.3 1358.4 L1598.7 1358.4 L1598.7 1358.4 L1605.1 1358.4 L1605.1 1358.4 L1611.5 1358.4 L1611.5 1354.3 L1617.9 1354.3 L1617.9 1354.3 L1624.3 1354.3 L1624.3 1354.3 L1630.8 1354.3 L1630.8 1354.3 L1637.2 1354.3 L1637.2 1354.3 L1643.6 1354.3 L1643.6 1354.3 L1650 1354.3 L1650 1354.3 L1656.4 1354.3 L1656.4 1354.3 L1662.8 1354.3 L1662.8 1354.3 L1669.2 1354.3 L1669.2 1354.3 L1675.6 1354.3 L1675.6 1354.3 L1682 1354.3 L1682 1354.3 L1688.4 1354.3 L1688.4 1354.3 L1694.9 1354.3 L1694.9 1354.3 L1701.3 1354.3 L1701.3 1354.3 L1707.7 1354.3 L1707.7 1354.3 L1714.1 1354.3 L1714.1 1354.3 L1720.5 1354.3 L1720.5 1354.3 L1726.9 1354.3 L1726.9 1354.3 L1733.3 1354.3 L1733.3 1354.3 L1739.7 1354.3 L1739.7 1350.1 L1746.1 1350.1 L1746.1 1340.9 L1752.5 1340.9 L1752.5 1335.9 L1759 1335.9 L1759 1335.9 L1765.4 1335.9 L1765.4 1335.9 L1771.8 1335.9 L1771.8 1326.7 L1778.2 1326.7 L1778.2 1326.7 L1784.6 1326.7 L1784.6 1326.7 L1791 1326.7 L1791 1326.7 L1797.4 1326.7 L1797.4 1326.7 L1803.8 1326.7 L1803.8 1326.7 L1810.2 1326.7 L1810.2 1326.7 L1816.7 1326.7 L1816.7 1317.4 L1823.1 1317.4 L1823.1 1312.8 L1829.5 1312.8 L1829.5 1308.2 L1835.9 1308.2 L1835.9 1308.2 L1842.3 1308.2 L1842.3 1308.2 L1848.7 1308.2 L1848.7 1308.2 L1855.1 1308.2 L1855.1 1308.2 L1861.5 1308.2 L1861.5 1308.2 L1867.9 1308.2 L1867.9 1308.2 L1874.3 1308.2 L1874.3 1308.2 L1880.8 1308.2 L1880.8 1294.4 L1887.2 1294.4 L1887.2 1294.4 L1893.6 1294.4 L1893.6 1294.4 L1900 1294.4 L1900 1294.4 L1906.4 1294.4 L1906.4 1294.4 L1912.8 1294.4 L1912.8 1294.4 L1919.2 1294.4 L1919.2 1294.4 L1925.6 1294.4 L1925.6 1294.4 L1932 1294.4 L1932 1294.4 L1938.4 1294.4 L1938.4 1294.4 L1944.9 1294.4 L1944.9 1294.4 L1951.3 1294.4 L1951.3 1294.4 L1957.7 1294.4 L1957.7 1294.4 L1964.1 1294.4 L1964.1 1294.4 L1970.5 1294.4 L1970.5 1294.4 L1976.9 1294.4 L1976.9 1294.4 L1983.3 1294.4 L1983.3 1294.4 L1989.7 1294.4 L1989.7 1294.4 L1996.1 1294.4 L1996.1 1294.4 L2002.6 1294.4 L2002.6 1294.4 L2009 1294.4 L2009 1294.4 L2015.4 1294.4 L2015.4 1294.4 L2021.8 1294.4 L2021.8 1294.4 L2028.2 1294.4 L2028.2 1294.4 L2034.6 1294.4 L2034.6 1294.4 L2041 1294.4 L2041 1294.4 L2047.4 1294.4 L2047.4 1294.4 L2053.8 1294.4 L2053.8 1294.4 L2060.2 1294.4 L2060.2 1294.4 L2066.7 1294.4 L2066.7 1294.4 L2073.1 1294.4 L2073.1 1294.4 L2079.5 1294.4 L2079.5 1294.4 L2085.9 1294.4 L2085.9 1294.4 L2092.3 1294.4 L2092.3 1294.4 L2098.7 1294.4 L2098.7 1294.4 L2105.1 1294.4 L2105.1 1294.4 L2111.5 1294.4 L2111.5 1294.4 L2117.9 1294.4 L2117.9 1294.4 L2124.4 1294.4 L2124.4 1294.4 L2130.8 1294.4 L2130.8 1294.4 L2137.2 1294.4 L2137.2 1294.4 L2143.6 1294.4 L2143.6 1294.4 L2150 1294.4 L2150 1294.4 L2156.4 1294.4 L2156.4 1294.4 L2162.8 1294.4 L2162.8 1294.4 L2169.2 1294.4 L2169.2 1294.4 L2175.6 1294.4 L2175.6 1294.4 L2182 1294.4 L2182 1294.4 L2188.5 1294.4 L2188.5 1294.4 L2194.9 1294.4 L2194.9 1294.4 L2201.3 1294.4 L2201.3 1294.4 L2207.7 1294.4 L2207.7 1294.4 L2214.1 1294.4 L2214.1 1294.4 L2220.5 1294.4 L2220.5 1294.4 L2226.9 1294.4 L2226.9 1294.4 L2233.3 1294.4 L2233.3 1294.4 L2239.7 1294.4 L2239.7 1294.4 L2246.1 1294.4 L2246.1 1294.4 L2252.6 1294.4 L2252.6 1294.4 L2259 1294.4 L2259 1294.4 L2265.4 1294.4 L2265.4 1294.4 L2271.8 1294.4 L2271.8 1294.4 L2278.2 1294.4 L2278.2 1294.4 L2284.6 1294.4 L2284.6 1294.4 L2291 1294.4 L2291 1294.4 L2297.4 1294.4 L2297.4 1294.4 L2303.8 1294.4 L2303.8 1294.4 L2310.3 1294.4 L2310.3 1294.4 L2316.7 1294.4 L2316.7 1294.4 L2323.1 1294.4 L2323.1 1294.4 L2329.5 1294.4 L2329.5 1294.4 L2335.9 1294.4 L2335.9 1284.8 L2342.3 1284.8 L2342.3 1284.8 L2348.7 1284.8 L2348.7 1280.6 L2355.1 1280.6 L2355.1 1151.3 L2361.5 1151.3 L2361.5 1127.3 L2367.9 1127.3 L2367.9 1127.3 L2374.4 1127.3 L2374.4 1127.3 L2380.8 1127.3 L2380.8 1119.1 L2387.2 1119.1 L2387.2 1115.4 L2393.6 1115.4 L2393.6 1078.1 L2400 1078.1 L2400 1078.1 L2406.4 1078.1 L2406.4 1078.1 L2412.8 1078.1 L2412.8 1078.1 L2419.2 1078.1 L2419.2 1078.1 L2425.6 1078.1 L2425.6 1078.1 L2432.1 1078.1 L2432.1 1078.1 L2438.5 1078.1 L2438.5 1073 L2444.9 1073 L2444.9 1073 L2451.3 1073 L2451.3 1027.5 L2457.7 1027.5 L2457.7 1013.2 L2464.1 1013.2 L2464.1 1013.2 L2470.5 1013.2 L2470.5 1013.2 L2476.9 1013.2 L2476.9 1013.2 L2483.3 1013.2 L2483.3 1008.1 L2489.7 1008.1 L2489.7 1004 L2496.2 1004 L2496.2 999.4 L2502.6 999.4 L2502.6 985.6 L2509 985.6 L2509 985.6 L2515.4 985.6 L2515.4 985.6 L2521.8 985.6 L2521.8 1856Z" fill="#008B00"/>
<path d="M182 1856 L182 1856 L188.4 1856 L188.4 1856 L194.8 1856 L194.8 1856 L201.2 1856 L201.2 1845 L207.6 1845 L207.6 1835.3 L214.1 1835.3 L214.1 1835.3 L220.5 1835.3 L220.5 1835.3 L226.9 1835.3 L226.9 1835.3 L233.3 1835.3 L233.3 1835.3 L239.7 1835.3 L239.7 1835.3 L246.1 1835.3 L246.1 1831.1 L252.5 1831.1 L252.5 1831.1 L258.9 1831.1 L258.9 1831.1 L265.3 1831.1 L265.3 1831.1 L271.7 1831.1 L271.7 1831.1 L278.2 1831.1 L278.2 1831.1 L284.6 1831.1 L284.6 1831.1 L291 1831.1 L291 1831.1 L297.4 1831.1 L297.4 1831.1 L303.8 1831.1 L303.8 1831.1 L310.2 1831.1 L310.2 1831.1 L316.6 1831.1 L316.6 1823.8 L323 1823.8 L323 1810 L329.4 1810 L329.4 1796.2 L335.8 1796.2 L335.8 1796.2 L342.3 1796.2 L342.3 1773.6 L348.7 1773.6 L348.7 1768.5 L355.1 1768.5 L355.1 1759.8 L361.5 1759.8 L361.5 1759.8 L367.9 1759.8 L367.9 1759.8 L374.3 1759.8 L374.3 1759.8 L380.7 1759.8 L380.7 1759.8 L387.1 1759.8 L387.1 1759.8 L393.5 1759.8 L393.5 1759.8 L400 1759.8 L400 1759.8 L406.4 1759.8 L406.4 1754.3 L412.8 1754.3 L412.8 1754.3 L419.2 1754.3 L419.2 1754.3 L425.6 1754.3 L425.6 1727.1 L432 1727.1 L432 1646.4 L438.4 1646.4 L438.4 1642.8 L444.8 1642.8 L444.8 1639.4 L451.2 1639.4 L451.2 1636.2 L457.6 1636.2 L457.6 1628.6 L464.1 1628.6 L464.1 1614.3 L470.5 1614.3 L470.5 1608.4 L476.9 1608.4 L476.9 1606.3 L483.3 1606.3 L483.3 1604.2 L489.7 1604.2 L489.7 1602 L496.1 1602 L496.1 1593.5 L502.5 1593.5 L502.5 1587.2 L508.9 1587.2 L508.9 1581.8 L515.3 1581.8 L515.3 1575.2 L521.8 1575.2 L521.8 1575.2 L528.2 1575.2 L528.2 1575.2 L534.6 1575.2 L534.6 1575.2 L541 1575.2 L541 1575.2 L547.4 1575.2 L547.4 1575.2 L553.8 1575.2 L553.8 1575.2 L560.2 1575.2 L560.2 1575.2 L566.6 1575.2 L566.6 1575.2 L573 1575.2 L573 1575.2 L579.4 1575.2 L579.4 1575.2 L585.9 1575.2 L585.9 1575.2 L592.3 1575.2 L592.3 1575.2 L598.7 1575.2 L598.7 1575.2 L605.1 1575.2 L605.1 1575.2 L611.5 1575.2 L611.5 1575.2 L617.9 1575.2 L617.9 1575.2 L624.3 1575.2 L624.3 1575.2 L630.7 1575.2 L630.7 1571.1 L637.1 1571.1 L637.1 1565.6 L643.5 1565.6 L643.5 1565.6 L650 1565.6 L650 1565.6 L656.4 1565.6 L656.4 1565.6 L662.8 1565.6 L662.8 1565.6 L669.2 1565.6 L669.2 1565.6 L675.6 1565.6 L675.6 1565.6 L682 1565.6 L682 1565.6 L688.4 1565.6 L688.4 1565.6 L694.8 1565.6 L694.8 1565.6 L701.2 1565.6 L701.2 1565.6 L707.7 1565.6 L707.7 1565.6 L714.1 1565.6 L714.1 1565.6 L720.5 1565.6 L720.5 1565.6 L726.9 1565.6 L726.9 1565.6 L733.3 1565.6 L733.3 1565.6 L739.7 1565.6 L739.7 1565.6 L746.1 1565.6 L746.1 1565.6 L752.5 1565.6 L752.5 1565.6 L758.9 1565.6 L758.9 1565.6 L765.3 1565.6 L765.3 1565.6 L771.8 1565.6 L771.8 1565.6 L778.2 1565.6 L778.2 1565.6 L784.6 1565.6 L784.6 1565.6 L791 1565.6 L791 1565.6 L797.4 1565.6 L797.4 1560.5 L803.8 1560.5 L803.8 1560.5 L810.2 1560.5 L810.2 1555.9 L816.6 1555.9 L816.6 1555.9 L823 1555.9 L823 1555.9 L829.5 1555.9 L829.5 1555.9 L835.9 1555.9 L835.9 1542.5 L842.3 1542.5 L842.3 1542.5 L848.7 1542.5 L848.7 1542.5 L855.1 1542.5 L855.1 1542.5 L861.5 1542.5 L861.5 1542.5 L867.9 1542.5 L867.9 1542.5 L874.3 1542.5 L874.3 1538.4 L880.7 1538.4 L880.7 1533.8 L887.1 1533.8 L887.1 1533.8 L893.6 1533.8 L893.6 1533.8 L900 1533.8 L900 1533.8 L906.4 1533.8 L906.4 1533.8 L912.8 1533.8 L912.8 1533.8 L919.2 1533.8 L919.2 1533.8 L925.6 1533.8 L925.6 1533.8 L932 1533.8 L932 1533.8 L938.4 1533.8 L938.4 1533.8 L944.8 1533.8 L944.8 1524.1 L951.2 1524.1 L951.2 1524.1 L957.7 1524.1 L957.7 1524.1 L964.1 1524.1 L964.1 1515.4 L970.5 1515.4 L970.5 1515.4 L976.9 1515.4 L976.9 1515.4 L983.3 1515.4 L983.3 1515.4 L989.7 1515.4 L989.7 1515.4 L996.1 1515.4 L996.1 1515.4 L1002.5 1515.4 L1002.5 1515.4 L1008.9 1515.4 L1008.9 1515.4 L1015.4 1515.4 L1015.4 1515.4 L1021.8 1515.4 L1021.8 1515.4 L1028.2 1515.4 L1028.2 1515.4 L1034.6 1515.4 L1034.6 1515.4 L1041 1515.4 L1041 1515.4 L1047.4 1515.4 L1047.4 1515.4 L1053.8 1515.4 L1053.8 1515.4 L1060.2 1515.4 L1060.2 1515.4 L1066.6 1515.4 L1066.6 1515.4 L1073 1515.4 L1073 1501.6 L1079.5 1501.6 L1079.5 1492.8 L1085.9 1492.8 L1085.9 1455.5 L1092.3 1455.5 L1092.3 1427.9 L1098.7 1427.9 L1098.7 1427.9 L1105.1 1427.9 L1105.1 1427.9 L1111.5 1427.9 L1111.5 1427.9 L1117.9 1427.9 L1117.9 1422.9 L1124.3 1422.9 L1124.3 1422.9 L1130.7 1422.9 L1130.7 1422.9 L1137.1 1422.9 L1137.1 1409 L1143.6 1409 L1143.6 1409 L1150 1409 L1150 1409 L1156.4 1409 L1156.4 1409 L1162.8 1409 L1162.8 1409 L1169.2 1409 L1169.2 1409 L1175.6 1409 L1175.6 1409 L1182 1409 L1182 1409 L1188.4 1409 L1188.4 1409 L1194.8 1409 L1194.8 1409 L1201.3 1409 L1201.3 1409 L1207.7 1409 L1207.7 1409 L1214.1 1409 L1214.1 1409 L1220.5 1409 L1220.5 1409 L1226.9 1409 L1226.9 1409 L1233.3 1409 L1233.3 1409 L1239.7 1409 L1239.7 1409 L1246.1 1409 L1246.1 1409 L1252.5 1409 L1252.5 1409 L1258.9 1409 L1258.9 1409 L1265.4 1409 L1265.4 1409 L1271.8 1409 L1271.8 1404.9 L1278.2 1404.9 L1278.2 1404.9 L1284.6 1404.9 L1284.6 1404.9 L1291 1404.9 L1291 1404.9 L1297.4 1404.9 L1297.4 1404.9 L1303.8 1404.9 L1303.8 1404.9 L1310.2 1404.9 L1310.2 1404.9 L1316.6 1404.9 L1316.6 1404.9 L1323.1 1404.9 L1323.1 1404.9 L1329.5 1404.9 L1329.5 1404.9 L1335.9 1404.9 L1335.9 1404.9 L1342.3 1404.9 L1342.3 1404.9 L1348.7 1404.9 L1348.7 1404.9 L1355.1 1404.9 L1355.1 1381 L1361.5 1381 L1361.5 1381 L1367.9 1381 L1367.9 1381 L1374.3 1381 L1374.3 1381 L1380.7 1381 L1380.7 1376.8 L1387.2 1376.8 L1387.2 1376.8 L1393.6 1376.8 L1393.6 1376.8 L1400 1376.8 L1400 1376.8 L1406.4 1376.8 L1406.4 1376.8 L1412.8 1376.8 L1412.8 1376.8 L1419.2 1376.8 L1419.2 1376.8 L1425.6 1376.8 L1425.6 1376.8 L1432 1376.8 L1432 1376.8 L1438.4 1376.8 L1438.4 1376.8 L1444.8 1376.8 L1444.8 1376.8 L1451.3 1376.8 L1451.3 1376.8 L1457.7 1376.8 L1457.7 1376.8 L1464.1 1376.8 L1464.1 1376.8 L1470.5 1376.8 L1470.5 1376.8 L1476.9 1376.8 L1476.9 1376.8 L1483.3 1376.8 L1483.3 1376.8 L1489.7 1376.8 L1489.7 1376.8 L1496.1 1376.8 L1496.1 1376.8 L1502.5 1376.8 L1502.5 1376.8 L1509 1376.8 L1509 1373.1 L1515.4 1373.1 L1515.4 1358.4 L1521.8 1358.4 L1521.8 1358.4 L1528.2 1358.4 L1528.2 1358.4 L1534.6 1358.4 L1534.6 1358.4 L1541 1358.4 L1541 1358.4 L1547.4 1358.4 L1547.4 1358.4 L1553.8 1358.4 L1553.8 1358.4 L1560.2 1358.4 L1560.2 1358.4 L1566.6 1358.4 L1566.6 1358.4 L1573.1 1358.4 L1573.1 1358.4 L1579.5 1358.4 L1579.5 1358.4 L1585.9 1358.4 L1585.9 1358.4 L1592.3 1358.4 L1592.3 1358.4 L1598.7 1358.4 L1598.7 1358.4 L1605.1 1358.4 L1605.1 1358.4 L1611.5 1358.4 L1611.5 1354.3 L1617.9 1354.3 L1617.9 1354.3 L1624.3 1354.3 L1624.3 1354.3 L1630.8 1354.3 L1630.8 1354.3 L1637.2 1354.3 L1637.2 1354.3 L1643.6 1354.3 L1643.6 1354.3 L1650 1354.3 L1650 1354.3 L1656.4 1354.3 L1656.4 1354.3 L1662.8 1354.3 L1662.8 1354.3 L1669.2 1354.3 L1669.2 1354.3 L1675.6 1354.3 L1675.6 1354.3 L1682 1354.3 L1682 1354.3 L1688.4 1354.3 L1688.4 1354.3 L1694.9 1354.3 L1694.9 1354.3 L1701.3 1354.3 L1701.3 1354.3 L1707.7 1354.3 L1707.7 1354.3 L1714.1 1354.3 L1714.1 1354.3 L1720.5 1354.3 L1720.5 1354.3 L1726.9 1354.3 L1726.9 1354.3 L1733.3 1354.3 L1733.3 1354.3 L1739.7 1354.3 L1739.7 1350.1 L1746.1 1350.1 L1746.1 1340.9 L1752.5 1340.9 L1752.5 1335.9 L1759 1335.9 L1759 1335.9 L1765.4 1335.9 L1765.4 1335.9 L1771.8 1335.9 L1771.8 1326.7 L1778.2 1326.7 L1778.2 1326.7 L1784.6 1326.7 L1784.6 1326.7 L1791 1326.7 L1791 1326.7 L1797.4 1326.7 L1797.4 1326.7 L1803.8 1326.7 L1803.8 1326.7 L1810.2 1326.7 L1810.2 1326.7 L1816.7 1326.7 L1816.7 1317.4 L1823.1 1317.4 L1823.1 1312.8 L1829.5 1312.8 L1829.5 1308.2 L1835.9 1308.2 L1835.9 1308.2 L1842.3 1308.2 L1842.3 1308.2 L1848.7 1308.2 L1848.7 1308.2 L1855.1 1308.2 L1855.1 1308.2 L1861.5 1308.2 L1861.5 1308.2 L1867.9 1308.2 L1867.9 1308.2 L1874.3 1308.2 L1874.3 1308.2 L1880.8 1308.2 L1880.8 1294.4 L1887.2 1294.4 L1887.2 1294.4 L1893.6 1294.4 L1893.6 1294.4 L1900 1294.4 L1900 1294.4 L1906.4 1294.4 L1906.4 1294.4 L1912.8 1294.4 L1912.8 1294.4 L1919.2 1294.4 L1919.2 1294.4 L1925.6 1294.4 L1925.6 1294.4 L1932 1294.4 L1932 1294.4 L1938.4 1294.4 L1938.4 1294.4 L1944.9 1294.4 L1944.9 1294.4 L1951.3 1294.4 L1951.3 1294.4 L1957.7 1294.4 L1957.7 1294.4 L1964.1 1294.4 L1964.1 1294.4 L1970.5 1294.4 L1970.5 1294.4 L1976.9 1294.4 L1976.9 1294.4 L1983.3 1294.4 L1983.3 1294.4 L1989.7 1294.4 L1989.7 1294.4 L1996.1 1294.4 L1996.1 1294.4 L2002.6 1294.4 L2002.6 1294.4 L2009 1294.4 L2009 1294.4 L2015.4 1294.4 L2015.4 1294.4 L2021.8 1294.4 L2021.8 1294.4 L2028.2 1294.4 L2028.2 1294.4 L2034.6 1294.4 L2034.6 1294.4 L2041 1294.4 L2041 1294.4 L2047.4 1294.4 L2047.4 1294.4 L2053.8 1294.4 L2053.8 1294.4 L2060.2 1294.4 L2060.2 1294.4 L2066.7 1294.4 L2066.7 1294.4 L2073.1 1294.4 L2073.1 1294.4 L2079.5 1294.4 L2079.5 1294.4 L2085.9 1294.4 L2085.9 1294.4 L2092.3 1294.4 L2092.3 1294.4 L2098.7 1294.4 L2098.7 1294.4 L2105.1 1294.4 L2105.1 1294.4 L2111.5 1294.4 L2111.5 1294.4 L2117.9 1294.4 L2117.9 1294.4 L2124.4 1294.4 L2124.4 1294.4 L2130.8 1294.4 L2130.8 1294.4 L2137.2 1294.4 L2137.2 1294.4 L2143.6 1294.4 L2143.6 1294.4 L2150 1294.4 L2150 1294.4 L2156.4 1294.4 L2156.4 1294.4 L2162.8 1294.4 L2162.8 1294.4 L2169.2 1294.4 L2169.2 1294.4 L2175.6 1294.4 L2175.6 1294.4 L2182 1294.4 L2182 1294.4 L2188.5 1294.4 L2188.5 1294.4 L2194.9 1294.4 L2194.9 1294.4 L2201.3 1294.4 L2201.3 1294.4 L2207.7 1294.4 L2207.7 1294.4 L2214.1 1294.4 L2214.1 1294.4 L2220.5 1294.4 L2220.5 1294.4 L2226.9 1294.4 L2226.9 1294.4 L2233.3 1294.4 L2233.3 1294.4 L2239.7 1294.4 L2239.7 1294.4 L2246.1 1294.4 L2246.1 1294.4 L2252.6 1294.4 L2252.6 1294.4 L2259 1294.4 L2259 1294.4 L2265.4 1294.4 L2265.4 1294.4 L2271.8 1294.4 L2271.8 1294.4 L2278.2 1294.4 L2278.2 1294.4 L2284.6 1294.4 L2284.6 1294.4 L2291 1294.4 L2291 1294.4 L2297.4 1294.4 L2297.4 1294.4 L2303.8 1294.4 L2303.8 1294.4 L2310.3 1294.4 L2310.3 1294.4 L2316.7 1294.4 L2316.7 1294.4 L2323.1 1294.4 L2323.1 1294.4 L2329.5 1294.4 L2329.5 1294.4 L2335.9 1294.4 L2335.9 1284.8 L2342.3 1284.8 L2342.3 1284.8 L2348.7 1284.8 L2348.7 1280.6 L2355.1 1280.6 L2355.1 1151.3 L2361.5 1151.3 L2361.5 1127.3 L2367.9 1127.3 L2367.9 1127.3 L2374.4 1127.3 L2374.4 1127.3 L2380.8 1127.3 L2380.8 1119.1 L2387.2 1119.1 L2387.2 1115.4 L2393.6 1115.4 L2393.6 1078.1 L2400 1078.1 L2400 1078.1 L2406.4 1078.1 L2406.4 1078.1 L2412.8 1078.1 L2412.8 1078.1 L2419.2 1078.1 L2419.2 1078.1 L2425.6 1078.1 L2425.6 1078.1 L2432.1 1078.1 L2432.1 1078.1 L2438.5 1078.1 L2438.5 1073 L2444.9 1073 L2444.9 1073 L2451.3 1073 L2451.3 1027.5 L2457.7 1027.5 L2457.7 1013.2 L2464.1 1013.2 L2464.1 1013.2 L2470.5 1013.2 L2470.5 1013.2 L2476.9 1013.2 L2476.9 1013.2 L2483.3 1013.2 L2483.3 1008.1 L2489.7 1008.1 L2489.7 1004 L2496.2 1004 L2496.2 999.4 L2502.6 999.4 L2502.6 985.6 L2509 985.6 L2509 985.6 L2515.4 985.6 L2515.4 985.6 L2521.8 985.6 L2521.8 1856Z" fill="#E0E0E0"/>
<rect x="200.5" y="1845" width="5.8" height="11" fill="#1E90FF" stroke="#0000FF" stroke-width="2.6" />
<rect x="206.9" y="1846.3" width="5.8" height="9.7" fill="#1E90FF" stroke="#0000FF" stroke-width="2.6" />
<rect x="245.4" y="1851.9" width="5.8" height="4.1" fill="#1E90FF" stroke="#0000FF" stroke-width="2.6" />
<rect x="315.9" y="1848.6" width="5.8" height="7.4" fill="#1E90FF" stroke="#0000FF" stroke-width="2.6" />
<rect x="322.3" y="1842.2" width="5.8" height="13.8" fill="#1E90FF" stroke="#0000FF" stroke-width="2.6" />
<rect x="328.7" y="1842.2" width="5.8" height="13.8" fill="#1E90FF" stroke="#0000FF" stroke-width="2.6" />
<rect x="341.6" y="1833.4" width="5.8" height="22.6" fill="#1E90FF" stroke="#0000FF" stroke-width="2.6" />
<rect x="348" y="1850.9" width="5.8" height="5.1" fill="#1E90FF" stroke="#0000FF" stroke-width="2.6" />
<rect x="354.4" y="1847.3" width="5.8" height="8.7" fill="#1E90FF" stroke="#0000FF" stroke-width="2.6" />
<rect x="405.7" y="1850.5" width="5.8" height="5.5" fill="#1E90FF" stroke="#0000FF" stroke-width="2.6" />
<rect x="424.9" y="1828.8" width="5.8" height="27.2" fill="#1E90FF" stroke="#0000FF" stroke-width="2.6" />
<rect x="431.3" y="1755.2" width="5.8" height="100.8" fill="#1E90FF" stroke="#0000FF" stroke-width="2.6" />
<rect x="437.7" y="1833" width="5.8" height="23" fill="#1E90FF" stroke="#0000FF" stroke-width="2.6" />
<rect x="469.8" y="1845.9" width="5.8" height="10.1" fill="#1E90FF" stroke="#0000FF" stroke-width="2.6" />
<rect x="482.6" y="1846.8" width="5.8" height="9.2" fill="#1E90FF" stroke="#0000FF" stroke-width="2.6" />
<rect x="495.4" y="1851.4" width="5.8" height="4.6" fill="#1E90FF" stroke="#0000FF" stroke-width="2.6" />
<rect x="508.2" y="1851.9" width="5.8" height="4.1" fill="#1E90FF" stroke="#0000FF" stroke-width="2.6" />
<rect x="630" y="1851.9" width="5.8" height="4.1" fill="#1E90FF" stroke="#0000FF" stroke-width="2.6" />
<rect x="636.4" y="1850.5" width="5.8" height="5.5" fill="#1E90FF" stroke="#0000FF" stroke-width="2.6" />
<rect x="796.7" y="1850.9" width="5.8" height="5.1" fill="#1E90FF" stroke="#0000FF" stroke-width="2.6" />
<rect x="809.5" y="1851.4" width="5.8" height="4.6" fill="#1E90FF" stroke="#0000FF" stroke-width="2.6" />
<rect x="835.2" y="1842.7" width="5.8" height="13.3" fill="#1E90FF" stroke="#0000FF" stroke-width="2.6" />
<rect x="873.6" y="1851.9" width="5.8" height="4.1" fill="#1E90FF" stroke="#0000FF" stroke-width="2.6" />
<rect x="880" y="1851.4" width="5.8" height="4.6" fill="#1E90FF" stroke="#0000FF" stroke-width="2.6" />
<rect x="944.1" y="1846.3" width="5.8" height="9.7" fill="#1E90FF" stroke="#0000FF" stroke-width="2.6" />
<rect x="963.4" y="1847.3" width="5.8" height="8.7" fill="#1E90FF" stroke="#0000FF" stroke-width="2.6" />
<rect x="1072.3" y="1842.2" width="5.8" height="13.8" fill="#1E90FF" stroke="#0000FF" stroke-width="2.6" />
<rect x="1078.8" y="1847.3" width="5.8" height="8.7" fill="#1E90FF" stroke="#0000FF" stroke-width="2.6" />
<rect x="1085.2" y="1818.7" width="5.8" height="37.3" fill="#1E90FF" stroke="#0000FF" stroke-width="2.6" />
<rect x="1091.6" y="1828.4" width="5.8" height="27.6" fill="#1E90FF" stroke="#0000FF" stroke-width="2.6" />
<rect x="1117.2" y="1850.9" width="5.8" height="5.1" fill="#1E90FF" stroke="#0000FF" stroke-width="2.6" />
<rect x="1136.4" y="1842.2" width="5.8" height="13.8" fill="#1E90FF" stroke="#0000FF" stroke-width="2.6" />
<rect x="1271.1" y="1851.9" width="5.8" height="4.1" fill="#1E90FF" stroke="#0000FF" stroke-width="2.6" />
<rect x="1354.4" y="1832.1" width="5.8" height="23.9" fill="#1E90FF" stroke="#0000FF" stroke-width="2.6" />
<rect x="1380" y="1851.9" width="5.8" height="4.1" fill="#1E90FF" stroke="#0000FF" stroke-width="2.6" />
<rect x="1508.3" y="1852.3" width="5.8" height="3.7" fill="#1E90FF" stroke="#0000FF" stroke-width="2.6" />
<rect x="1514.7" y="1841.3" width="5.8" height="14.7" fill="#1E90FF" stroke="#0000FF" stroke-width="2.6" />
<rect x="1610.8" y="1851.9" width="5.8" height="4.1" fill="#1E90FF" stroke="#0000FF" stroke-width="2.6" />
<rect x="1739" y="1851.9" width="5.8" height="4.1" fill="#1E90FF" stroke="#0000FF" stroke-width="2.6" />
<rect x="1745.4" y="1846.8" width="5.8" height="9.2" fill="#1E90FF" stroke="#0000FF" stroke-width="2.6" />
<rect x="1751.8" y="1850.9" width="5.8" height="5.1" fill="#1E90FF" stroke="#0000FF" stroke-width="2.6" />
<rect x="1771.1" y="1846.8" width="5.8" height="9.2" fill="#1E90FF" stroke="#0000FF" stroke-width="2.6" />
<rect x="1816" y="1846.8" width="5.8" height="9.2" fill="#1E90FF" stroke="#0000FF" stroke-width="2.6" />
<rect x="1822.4" y="1851.4" width="5.8" height="4.6" fill="#1E90FF" stroke="#0000FF" stroke-width="2.6" />
<rect x="1828.8" y="1851.4" width="5.8" height="4.6" fill="#1E90FF" stroke="#0000FF" stroke-width="2.6" />
<rect x="1880.1" y="1842.2" width="5.8" height="13.8" fill="#1E90FF" stroke="#0000FF" stroke-width="2.6" />
<rect x="2335.2" y="1846.3" width="5.8" height="9.7" fill="#1E90FF" stroke="#0000FF" stroke-width="2.6" />
<rect x="2348" y="1851.9" width="5.8" height="4.1" fill="#1E90FF" stroke="#0000FF" stroke-width="2.6" />
<rect x="2354.4" y="1726.7" width="5.8" height="129.3" fill="#1E90FF" stroke="#0000FF" stroke-width="2.6" />
<rect x="2360.8" y="1832.1" width="5.8" height="23.9" fill="#1E90FF" stroke="#0000FF" stroke-width="2.6" />
<rect x="2380.1" y="1847.7" width="5.8" height="8.3" fill="#1E90FF" stroke="#0000FF" stroke-width="2.6" />
<rect x="2386.5" y="1852.3" width="5.8" height="3.7" fill="#1E90FF" stroke="#0000FF" stroke-width="2.6" />
<rect x="2392.9" y="1818.7" width="5.8" height="37.3" fill="#1E90FF" stroke="#0000FF" stroke-width="2.6" />
<rect x="2437.8" y="1850.9" width="5.8" height="5.1" fill="#1E90FF" stroke="#0000FF" stroke-width="2.6" />
<rect x="2450.6" y="1810.4" width="5.8" height="45.6" fill="#1E90FF" stroke="#0000FF" stroke-width="2.6" />
<rect x="2457" y="1841.7" width="5.8" height="14.3" fill="#1E90FF" stroke="#0000FF" stroke-width="2.6" />
<rect x="2482.6" y="1850.9" width="5.8" height="5.1" fill="#1E90FF" stroke="#0000FF" stroke-width="2.6" />
<rect x="2489" y="1851.9" width="5.8" height="4.1" fill="#1E90FF" stroke="#0000FF" stroke-width="2.6" />
<rect x="2495.5" y="1851.4" width="5.8" height="4.6" fill="#1E90FF" stroke="#0000FF" stroke-width="2.6" />
<rect x="2501.9" y="1842.2" width="5.8" height="13.8" fill="#1E90FF" stroke="#0000FF" stroke-width="2.6" />
<path d="M182 1856 L188.4 1856 L188.4 1850.5 L194.8 1850.5 L194.8 1848.1 L201.2 1848.1 L201.2 1841.8 L207.6 1841.8 L207.6 1826.8 L214.1 1826.8 L214.1 1817.7 L220.5 1817.7 L220.5 1808.8 L226.9 1808.8 L226.9 1803.8 L233.3 1803.8 L233.3 1801.3 L239.7 1801.3 L239.7 1798.9 L246.1 1798.9 L246.1 1795.2 L252.5 1795.2 L252.5 1790.4 L258.9 1790.4 L258.9 1784.2 L265.3 1784.2 L265.3 1778.9 L271.7 1778.9 L271.7 1775 L278.2 1775 L278.2 1771.2 L284.6 1771.2 L284.6 1766.7 L291 1766.7 L291 1762.2 L297.4 1762.2 L297.4 1758.4 L303.8 1758.4 L303.8 1754.2 L310.2 1754.2 L310.2 1745.6 L316.6 1745.6 L316.6 1740.5 L323 1740.5 L323 1736 L329.4 1736 L329.4 1731.3 L335.8 1731.3 L335.8 1724.9 L342.3 1724.9 L342.3 1718.2 L348.7 1718.2 L348.7 1710.5 L355.1 1710.5 L355.1 1703.5 L361.5 1703.5 L361.5 1699.3 L367.9 1699.3 L367.9 1696.8 L374.3 1696.8 L374.3 1694.2 L380.7 1694.2 L380.7 1691.3 L387.1 1691.3 L387.1 1684.9 L393.5 1684.9 L393.5 1678.6 L400 1678.6 L400 1673.6 L406.4 1673.6 L406.4 1669.1 L412.8 1669.1 L412.8 1664.4 L419.2 1664.4 L419.2 1658.6 L425.6 1658.6 L425.6 1652.7 L432 1652.7 L432 1646.4 L438.4 1646.4 L438.4 1642.8 L444.8 1642.8 L444.8 1639.4 L451.2 1639.4 L451.2 1636.2 L457.6 1636.2 L457.6 1628.6 L464.1 1628.6 L464.1 1614.3 L470.5 1614.3 L470.5 1608.4 L476.9 1608.4 L476.9 1606.3 L483.3 1606.3 L483.3 1604.2 L489.7 1604.2 L489.7 1602 L496.1 1602 L496.1 1593.5 L502.5 1593.5 L502.5 1587.2 L508.9 1587.2 L508.9 1581.8 L515.3 1581.8 L515.3 1574.8 L521.8 1574.8 L521.8 1568.1 L528.2 1568.1 L528.2 1562.3 L534.6 1562.3 L534.6 1556.4 L541 1556.4 L541 1549.9 L547.4 1549.9 L547.4 1542.4 L553.8 1542.4 L553.8 1532.5 L560.2 1532.5 L560.2 1521.7 L566.6 1521.7 L566.6 1515 L573 1515 L573 1512.2 L579.4 1512.2 L579.4 1509.5 L585.9 1509.5 L585.9 1505.9 L592.3 1505.9 L592.3 1501.5 L598.7 1501.5 L598.7 1496.7 L605.1 1496.7 L605.1 1491.5 L611.5 1491.5 L611.5 1485.4 L617.9 1485.4 L617.9 1478.3 L624.3 1478.3 L624.3 1472.4 L630.7 1472.4 L630.7 1467.2 L637.1 1467.2 L637.1 1462.1 L643.5 1462.1 L643.5 1457 L650 1457 L650 1451.9 L656.4 1451.9 L656.4 1446.7 L662.8 1446.7 L662.8 1442.3 L669.2 1442.3 L669.2 1438.2 L675.6 1438.2 L675.6 1434 L682 1434 L682 1429.9 L688.4 1429.9 L688.4 1425.8 L694.8 1425.8 L694.8 1421.7 L701.2 1421.7 L701.2 1417.4 L707.7 1417.4 L707.7 1412.2 L714.1 1412.2 L714.1 1407.4 L720.5 1407.4 L720.5 1403.5 L726.9 1403.5 L726.9 1398.7 L733.3 1398.7 L733.3 1392.3 L739.7 1392.3 L739.7 1389.1 L746.1 1389.1 L746.1 1385.9 L752.5 1385.9 L752.5 1383 L758.9 1383 L758.9 1379.6 L765.3 1379.6 L765.3 1374.6 L771.8 1374.6 L771.8 1372.2 L778.2 1372.2 L778.2 1369.8 L784.6 1369.8 L784.6 1367.6 L791 1367.6 L791 1365.8 L797.4 1365.8 L797.4 1364 L803.8 1364 L803.8 1362.2 L810.2 1362.2 L810.2 1360.4 L816.6 1360.4 L816.6 1358.7 L823 1358.7 L823 1356.9 L829.5 1356.9 L829.5 1355.2 L835.9 1355.2 L835.9 1353.9 L842.3 1353.9 L842.3 1352.7 L848.7 1352.7 L848.7 1351.6 L855.1 1351.6 L855.1 1350.5 L861.5 1350.5 L861.5 1349.5 L867.9 1349.5 L867.9 1347.3 L874.3 1347.3 L874.3 1344.7 L880.7 1344.7 L880.7 1341 L887.1 1341 L887.1 1336.2 L893.6 1336.2 L893.6 1333.9 L900 1333.9 L900 1331.5 L906.4 1331.5 L906.4 1328.3 L912.8 1328.3 L912.8 1324.7 L919.2 1324.7 L919.2 1321.3 L925.6 1321.3 L925.6 1318.6 L932 1318.6 L932 1317.2 L938.4 1317.2 L938.4 1315.8 L944.8 1315.8 L944.8 1314 L951.2 1314 L951.2 1311.9 L957.7 1311.9 L957.7 1310.3 L964.1 1310.3 L964.1 1309.2 L970.5 1309.2 L970.5 1308.1 L976.9 1308.1 L976.9 1307.1 L983.3 1307.1 L983.3 1306.2 L989.7 1306.2 L989.7 1305.4 L996.1 1305.4 L996.1 1304.6 L1002.5 1304.6 L1002.5 1303.7 L1008.9 1303.7 L1008.9 1302.8 L1015.4 1302.8 L1015.4 1301.9 L1021.8 1301.9 L1021.8 1301 L1028.2 1301 L1028.2 1300.1 L1034.6 1300.1 L1034.6 1299.1 L1041 1299.1 L1041 1297.5 L1047.4 1297.5 L1047.4 1295.4 L1053.8 1295.4 L1053.8 1293.3 L1060.2 1293.3 L1060.2 1291.2 L1066.6 1291.2 L1066.6 1289.8 L1073 1289.8 L1073 1288.5 L1079.5 1288.5 L1079.5 1287.1 L1085.9 1287.1 L1085.9 1285.8 L1092.3 1285.8 L1092.3 1284.7 L1098.7 1284.7 L1098.7 1284 L1105.1 1284 L1105.1 1283.4 L1111.5 1283.4 L1111.5 1282.8 L1117.9 1282.8 L1117.9 1281.5 L1124.3 1281.5 L1124.3 1279.1 L1130.7 1279.1 L1130.7 1278.1 L1137.1 1278.1 L1137.1 1277.4 L1143.6 1277.4 L1143.6 1276.8 L1150 1276.8 L1150 1276.1 L1156.4 1276.1 L1156.4 1275.5 L1162.8 1275.5 L1162.8 1274.9 L1169.2 1274.9 L1169.2 1274.2 L1175.6 1274.2 L1175.6 1272.2 L1182 1272.2 L1182 1270.8 L1188.4 1270.8 L1188.4 1270.5 L1194.8 1270.5 L1194.8 1270.2 L1201.3 1270.2 L1201.3 1269.9 L1207.7 1269.9 L1207.7 1268.8 L1214.1 1268.8 L1214.1 1267.2 L1220.5 1267.2 L1220.5 1267 L1226.9 1267 L1226.9 1266.8 L1233.3 1266.8 L1233.3 1266.6 L1239.7 1266.6 L1239.7 1266.3 L1246.1 1266.3 L1246.1 1266.1 L1252.5 1266.1 L1252.5 1266 L1258.9 1266 L1258.9 1265.9 L1265.4 1265.9 L1265.4 1265.8 L1271.8 1265.8 L1271.8 1265.7 L1278.2 1265.7 L1278.2 1265.7 L1284.6 1265.7 L1284.6 1265.6 L1291 1265.6 L1291 1265.3 L1297.4 1265.3 L1297.4 1264.9 L1303.8 1264.9 L1303.8 1264.5 L1310.2 1264.5 L1310.2 1264 L1316.6 1264 L1316.6 1263.6 L1323.1 1263.6 L1323.1 1263.2 L1329.5 1263.2 L1329.5 1262.3 L1335.9 1262.3 L1335.9 1261.2 L1342.3 1261.2 L1342.3 1260 L1348.7 1260 L1348.7 1258.9 L1355.1 1258.9 L1355.1 1254.9 L1361.5 1254.9 L1361.5 1251 L1367.9 1251 L1367.9 1248.7 L1374.3 1248.7 L1374.3 1247 L1380.7 1247 L1380.7 1245.7 L1387.2 1245.7 L1387.2 1244.4 L1393.6 1244.4 L1393.6 1243.1 L1400 1243.1 L1400 1241.8 L1406.4 1241.8 L1406.4 1238.3 L1412.8 1238.3 L1412.8 1234.3 L1419.2 1234.3 L1419.2 1230.3 L1425.6 1230.3 L1425.6 1227.6 L1432 1227.6 L1432 1225.5 L1438.4 1225.5 L1438.4 1223.4 L1444.8 1223.4 L1444.8 1221.2 L1451.3 1221.2 L1451.3 1213.9 L1457.7 1213.9 L1457.7 1208.9 L1464.1 1208.9 L1464.1 1205.2 L1470.5 1205.2 L1470.5 1202.3 L1476.9 1202.3 L1476.9 1199.4 L1483.3 1199.4 L1483.3 1196.5 L1489.7 1196.5 L1489.7 1189.6 L1496.1 1189.6 L1496.1 1183.7 L1502.5 1183.7 L1502.5 1179.2 L1509 1179.2 L1509 1175.9 L1515.4 1175.9 L1515.4 1173.1 L1521.8 1173.1 L1521.8 1170.3 L1528.2 1170.3 L1528.2 1163.9 L1534.6 1163.9 L1534.6 1158.7 L1541 1158.7 L1541 1156 L1547.4 1156 L1547.4 1153.3 L1553.8 1153.3 L1553.8 1150.6 L1560.2 1150.6 L1560.2 1142.8 L1566.6 1142.8 L1566.6 1137.2 L1573.1 1137.2 L1573.1 1133 L1579.5 1133 L1579.5 1130.3 L1585.9 1130.3 L1585.9 1128.3 L1592.3 1128.3 L1592.3 1126.2 L1598.7 1126.2 L1598.7 1124.2 L1605.1 1124.2 L1605.1 1113.3 L1611.5 1113.3 L1611.5 1108.3 L1617.9 1108.3 L1617.9 1104.9 L1624.3 1104.9 L1624.3 1101.9 L1630.8 1101.9 L1630.8 1098.9 L1637.2 1098.9 L1637.2 1095.9 L1643.6 1095.9 L1643.6 1089.5 L1650 1089.5 L1650 1082.7 L1656.4 1082.7 L1656.4 1079.6 L1662.8 1079.6 L1662.8 1076.9 L1669.2 1076.9 L1669.2 1074.1 L1675.6 1074.1 L1675.6 1071.3 L1682 1071.3 L1682 1057 L1688.4 1057 L1688.4 1049.2 L1694.9 1049.2 L1694.9 1042.8 L1701.3 1042.8 L1701.3 1036.7 L1707.7 1036.7 L1707.7 1030.7 L1714.1 1030.7 L1714.1 1027.4 L1720.5 1027.4 L1720.5 1024.3 L1726.9 1024.3 L1726.9 1021.3 L1733.3 1021.3 L1733.3 1017.6 L1739.7 1017.6 L1739.7 1013.8 L1746.1 1013.8 L1746.1 1011.4 L1752.5 1011.4 L1752.5 1009.4 L1759 1009.4 L1759 1007.4 L1765.4 1007.4 L1765.4 1003.3 L1771.8 1003.3 L1771.8 998.2 L1778.2 998.2 L1778.2 994.1 L1784.6 994.1 L1784.6 990.5 L1791 990.5 L1791 986 L1797.4 986 L1797.4 980.9 L1803.8 980.9 L1803.8 976.9 L1810.2 976.9 L1810.2 973.7 L1816.7 973.7 L1816.7 970.5 L1823.1 970.5 L1823.1 968 L1829.5 968 L1829.5 965.8 L1835.9 965.8 L1835.9 963.6 L1842.3 963.6 L1842.3 961.3 L1848.7 961.3 L1848.7 958.3 L1855.1 958.3 L1855.1 955.1 L1861.5 955.1 L1861.5 952.9 L1867.9 952.9 L1867.9 951.1 L1874.3 951.1 L1874.3 949.3 L1880.8 949.3 L1880.8 939.7 L1887.2 939.7 L1887.2 937.5 L1893.6 937.5 L1893.6 935.4 L1900 935.4 L1900 932.6 L1906.4 932.6 L1906.4 929.4 L1912.8 929.4 L1912.8 926.2 L1919.2 926.2 L1919.2 924.2 L1925.6 924.2 L1925.6 922.4 L1932 922.4 L1932 918.9 L1938.4 918.9 L1938.4 914.5 L1944.9 914.5 L1944.9 912.8 L1951.3 912.8 L1951.3 911 L1957.7 911 L1957.7 902.4 L1964.1 902.4 L1964.1 897.1 L1970.5 897.1 L1970.5 894.7 L1976.9 894.7 L1976.9 893.3 L1983.3 893.3 L1983.3 891.8 L1989.7 891.8 L1989.7 889.1 L1996.1 889.1 L1996.1 884.6 L2002.6 884.6 L2002.6 883.2 L2009 883.2 L2009 881.9 L2015.4 881.9 L2015.4 880.6 L2021.8 880.6 L2021.8 879.2 L2028.2 879.2 L2028.2 876 L2034.6 876 L2034.6 872.9 L2041 872.9 L2041 871.3 L2047.4 871.3 L2047.4 869.7 L2053.8 869.7 L2053.8 868.1 L2060.2 868.1 L2060.2 866.4 L2066.7 866.4 L2066.7 864.3 L2073.1 864.3 L2073.1 862.1 L2079.5 862.1 L2079.5 860 L2085.9 860 L2085.9 857.9 L2092.3 857.9 L2092.3 855.7 L2098.7 855.7 L2098.7 853.6 L2105.1 853.6 L2105.1 850.8 L2111.5 850.8 L2111.5 843.2 L2117.9 843.2 L2117.9 841.2 L2124.4 841.2 L2124.4 839.2 L2130.8 839.2 L2130.8 836.4 L2137.2 836.4 L2137.2 833.6 L2143.6 833.6 L2143.6 830.8 L2150 830.8 L2150 829.1 L2156.4 829.1 L2156.4 827.6 L2162.8 827.6 L2162.8 826.2 L2169.2 826.2 L2169.2 823.2 L2175.6 823.2 L2175.6 816.1 L2182 816.1 L2182 810.5 L2188.5 810.5 L2188.5 805 L2194.9 805 L2194.9 799.6 L2201.3 799.6 L2201.3 796.3 L2207.7 796.3 L2207.7 793.1 L2214.1 793.1 L2214.1 788.7 L2220.5 788.7 L2220.5 787.3 L2226.9 787.3 L2226.9 786.3 L2233.3 786.3 L2233.3 785.1 L2239.7 785.1 L2239.7 782.8 L2246.1 782.8 L2246.1 779.7 L2252.6 779.7 L2252.6 772.5 L2259 772.5 L2259 766.5 L2265.4 766.5 L2265.4 763.1 L2271.8 763.1 L2271.8 760.3 L2278.2 760.3 L2278.2 757.9 L2284.6 757.9 L2284.6 755.5 L2291 755.5 L2291 752.8 L2297.4 752.8 L2297.4 750.1 L2303.8 750.1 L2303.8 741 L2310.3 741 L2310.3 731.7 L2316.7 731.7 L2316.7 725.7 L2323.1 725.7 L2323.1 722.7 L2329.5 722.7 L2329.5 720 L2335.9 720 L2335.9 714.8 L2342.3 714.8 L2342.3 710.1 L2348.7 710.1 L2348.7 705.5 L2355.1 705.5 L2355.1 696 L2361.5 696 L2361.5 691 L2367.9 691 L2367.9 687.7 L2374.4 687.7 L2374.4 684.5 L2380.8 684.5 L2380.8 681.2 L2387.2 681.2 L2387.2 676.7 L2393.6 676.7 L2393.6 671.3 L2400 671.3 L2400 666.6 L2406.4 666.6 L2406.4 663.5 L2412.8 663.5 L2412.8 660.5 L2419.2 660.5 L2419.2 653.2 L2425.6 653.2 L2425.6 649.5 L2432.1 649.5 L2432.1 644.9 L2438.5 644.9 L2438.5 640.3 L2444.9 640.3 L2444.9 635 L2451.3 635 L2451.3 629.6 L2457.7 629.6 L2457.7 624.1 L2464.1 624.1 L2464.1 621 L2470.5 621 L2470.5 617.8 L2476.9 617.8 L2476.9 609.7 L2483.3 609.7 L2483.3 606.5 L2489.7 606.5 L2489.7 603.3 L2496.2 603.3 L2496.2 596.9 L2502.6 596.9 L2502.6 587.9 L2509 587.9 L2509 586 L2515.4 586 L2515.4 585.4 L2521.8 585.4" fill="none" stroke="#000" stroke-width="4.2" stroke-linejoin="miter"/>
<path d="M182 1856 L188.4 1856 L188.4 1856 L194.8 1856 L194.8 1856 L201.2 1856 L201.2 1845 L207.6 1845 L207.6 1835.3 L214.1 1835.3 L214.1 1835.3 L220.5 1835.3 L220.5 1835.3 L226.9 1835.3 L226.9 1835.3 L233.3 1835.3 L233.3 1835.3 L239.7 1835.3 L239.7 1835.3 L246.1 1835.3 L246.1 1831.1 L252.5 1831.1 L252.5 1831.1 L258.9 1831.1 L258.9 1831.1 L265.3 1831.1 L265.3 1831.1 L271.7 1831.1 L271.7 1831.1 L278.2 1831.1 L278.2 1831.1 L284.6 1831.1 L284.6 1831.1 L291 1831.1 L291 1831.1 L297.4 1831.1 L297.4 1831.1 L303.8 1831.1 L303.8 1831.1 L310.2 1831.1 L310.2 1831.1 L316.6 1831.1 L316.6 1823.8 L323 1823.8 L323 1810 L329.4 1810 L329.4 1796.2 L335.8 1796.2 L335.8 1796.2 L342.3 1796.2 L342.3 1773.6 L348.7 1773.6 L348.7 1768.5 L355.1 1768.5 L355.1 1759.8 L361.5 1759.8 L361.5 1759.8 L367.9 1759.8 L367.9 1759.8 L374.3 1759.8 L374.3 1759.8 L380.7 1759.8 L380.7 1759.8 L387.1 1759.8 L387.1 1759.8 L393.5 1759.8 L393.5 1759.8 L400 1759.8 L400 1759.8 L406.4 1759.8 L406.4 1754.3 L412.8 1754.3 L412.8 1754.3 L419.2 1754.3 L419.2 1754.3 L425.6 1754.3 L425.6 1727.1 L432 1727.1 L432 1626.3 L438.4 1626.3 L438.4 1603.3 L444.8 1603.3 L444.8 1603.3 L451.2 1603.3 L451.2 1603.3 L457.6 1603.3 L457.6 1603.3 L464.1 1603.3 L464.1 1603.3 L470.5 1603.3 L470.5 1593.2 L476.9 1593.2 L476.9 1593.2 L483.3 1593.2 L483.3 1584 L489.7 1584 L489.7 1584 L496.1 1584 L496.1 1579.4 L502.5 1579.4 L502.5 1579.4 L508.9 1579.4 L508.9 1575.2 L515.3 1575.2 L515.3 1575.2 L521.8 1575.2 L521.8 1575.2 L528.2 1575.2 L528.2 1575.2 L534.6 1575.2 L534.6 1575.2 L541 1575.2 L541 1575.2 L547.4 1575.2 L547.4 1575.2 L553.8 1575.2 L553.8 1575.2 L560.2 1575.2 L560.2 1575.2 L566.6 1575.2 L566.6 1575.2 L573 1575.2 L573 1575.2 L579.4 1575.2 L579.4 1575.2 L585.9 1575.2 L585.9 1575.2 L592.3 1575.2 L592.3 1575.2 L598.7 1575.2 L598.7 1575.2 L605.1 1575.2 L605.1 1575.2 L611.5 1575.2 L611.5 1575.2 L617.9 1575.2 L617.9 1575.2 L624.3 1575.2 L624.3 1575.2 L630.7 1575.2 L630.7 1571.1 L637.1 1571.1 L637.1 1565.6 L643.5 1565.6 L643.5 1565.6 L650 1565.6 L650 1565.6 L656.4 1565.6 L656.4 1565.6 L662.8 1565.6 L662.8 1565.6 L669.2 1565.6 L669.2 1565.6 L675.6 1565.6 L675.6 1565.6 L682 1565.6 L682 1565.6 L688.4 1565.6 L688.4 1565.6 L694.8 1565.6 L694.8 1565.6 L701.2 1565.6 L701.2 1565.6 L707.7 1565.6 L707.7 1565.6 L714.1 1565.6 L714.1 1565.6 L720.5 1565.6 L720.5 1565.6 L726.9 1565.6 L726.9 1565.6 L733.3 1565.6 L733.3 1565.6 L739.7 1565.6 L739.7 1565.6 L746.1 1565.6 L746.1 1565.6 L752.5 1565.6 L752.5 1565.6 L758.9 1565.6 L758.9 1565.6 L765.3 1565.6 L765.3 1565.6 L771.8 1565.6 L771.8 1565.6 L778.2 1565.6 L778.2 1565.6 L784.6 1565.6 L784.6 1565.6 L791 1565.6 L791 1565.6 L797.4 1565.6 L797.4 1560.5 L803.8 1560.5 L803.8 1560.5 L810.2 1560.5 L810.2 1555.9 L816.6 1555.9 L816.6 1555.9 L823 1555.9 L823 1555.9 L829.5 1555.9 L829.5 1555.9 L835.9 1555.9 L835.9 1542.5 L842.3 1542.5 L842.3 1542.5 L848.7 1542.5 L848.7 1542.5 L855.1 1542.5 L855.1 1542.5 L861.5 1542.5 L861.5 1542.5 L867.9 1542.5 L867.9 1542.5 L874.3 1542.5 L874.3 1538.4 L880.7 1538.4 L880.7 1533.8 L887.1 1533.8 L887.1 1533.8 L893.6 1533.8 L893.6 1533.8 L900 1533.8 L900 1533.8 L906.4 1533.8 L906.4 1533.8 L912.8 1533.8 L912.8 1533.8 L919.2 1533.8 L919.2 1533.8 L925.6 1533.8 L925.6 1533.8 L932 1533.8 L932 1533.8 L938.4 1533.8 L938.4 1533.8 L944.8 1533.8 L944.8 1524.1 L951.2 1524.1 L951.2 1524.1 L957.7 1524.1 L957.7 1524.1 L964.1 1524.1 L964.1 1515.4 L970.5 1515.4 L970.5 1515.4 L976.9 1515.4 L976.9 1515.4 L983.3 1515.4 L983.3 1515.4 L989.7 1515.4 L989.7 1515.4 L996.1 1515.4 L996.1 1515.4 L1002.5 1515.4 L1002.5 1515.4 L1008.9 1515.4 L1008.9 1515.4 L1015.4 1515.4 L1015.4 1515.4 L1021.8 1515.4 L1021.8 1515.4 L1028.2 1515.4 L1028.2 1515.4 L1034.6 1515.4 L1034.6 1515.4 L1041 1515.4 L1041 1515.4 L1047.4 1515.4 L1047.4 1515.4 L1053.8 1515.4 L1053.8 1515.4 L1060.2 1515.4 L1060.2 1515.4 L1066.6 1515.4 L1066.6 1515.4 L1073 1515.4 L1073 1501.6 L1079.5 1501.6 L1079.5 1492.8 L1085.9 1492.8 L1085.9 1455.5 L1092.3 1455.5 L1092.3 1427.9 L1098.7 1427.9 L1098.7 1427.9 L1105.1 1427.9 L1105.1 1427.9 L1111.5 1427.9 L1111.5 1427.9 L1117.9 1427.9 L1117.9 1422.9 L1124.3 1422.9 L1124.3 1422.9 L1130.7 1422.9 L1130.7 1422.9 L1137.1 1422.9 L1137.1 1409 L1143.6 1409 L1143.6 1409 L1150 1409 L1150 1409 L1156.4 1409 L1156.4 1409 L1162.8 1409 L1162.8 1409 L1169.2 1409 L1169.2 1409 L1175.6 1409 L1175.6 1409 L1182 1409 L1182 1409 L1188.4 1409 L1188.4 1409 L1194.8 1409 L1194.8 1409 L1201.3 1409 L1201.3 1409 L1207.7 1409 L1207.7 1409 L1214.1 1409 L1214.1 1409 L1220.5 1409 L1220.5 1409 L1226.9 1409 L1226.9 1409 L1233.3 1409 L1233.3 1409 L1239.7 1409 L1239.7 1409 L1246.1 1409 L1246.1 1409 L1252.5 1409 L1252.5 1409 L1258.9 1409 L1258.9 1409 L1265.4 1409 L1265.4 1409 L1271.8 1409 L1271.8 1404.9 L1278.2 1404.9 L1278.2 1404.9 L1284.6 1404.9 L1284.6 1404.9 L1291 1404.9 L1291 1404.9 L1297.4 1404.9 L1297.4 1404.9 L1303.8 1404.9 L1303.8 1404.9 L1310.2 1404.9 L1310.2 1404.9 L1316.6 1404.9 L1316.6 1404.9 L1323.1 1404.9 L1323.1 1404.9 L1329.5 1404.9 L1329.5 1404.9 L1335.9 1404.9 L1335.9 1404.9 L1342.3 1404.9 L1342.3 1404.9 L1348.7 1404.9 L1348.7 1404.9 L1355.1 1404.9 L1355.1 1381 L1361.5 1381 L1361.5 1381 L1367.9 1381 L1367.9 1381 L1374.3 1381 L1374.3 1381 L1380.7 1381 L1380.7 1376.8 L1387.2 1376.8 L1387.2 1376.8 L1393.6 1376.8 L1393.6 1376.8 L1400 1376.8 L1400 1376.8 L1406.4 1376.8 L1406.4 1376.8 L1412.8 1376.8 L1412.8 1376.8 L1419.2 1376.8 L1419.2 1376.8 L1425.6 1376.8 L1425.6 1376.8 L1432 1376.8 L1432 1376.8 L1438.4 1376.8 L1438.4 1376.8 L1444.8 1376.8 L1444.8 1376.8 L1451.3 1376.8 L1451.3 1376.8 L1457.7 1376.8 L1457.7 1376.8 L1464.1 1376.8 L1464.1 1376.8 L1470.5 1376.8 L1470.5 1376.8 L1476.9 1376.8 L1476.9 1376.8 L1483.3 1376.8 L1483.3 1376.8 L1489.7 1376.8 L1489.7 1376.8 L1496.1 1376.8 L1496.1 1376.8 L1502.5 1376.8 L1502.5 1376.8 L1509 1376.8 L1509 1373.1 L1515.4 1373.1 L1515.4 1358.4 L1521.8 1358.4 L1521.8 1358.4 L1528.2 1358.4 L1528.2 1358.4 L1534.6 1358.4 L1534.6 1358.4 L1541 1358.4 L1541 1358.4 L1547.4 1358.4 L1547.4 1358.4 L1553.8 1358.4 L1553.8 1358.4 L1560.2 1358.4 L1560.2 1358.4 L1566.6 1358.4 L1566.6 1358.4 L1573.1 1358.4 L1573.1 1358.4 L1579.5 1358.4 L1579.5 1358.4 L1585.9 1358.4 L1585.9 1358.4 L1592.3 1358.4 L1592.3 1358.4 L1598.7 1358.4 L1598.7 1358.4 L1605.1 1358.4 L1605.1 1358.4 L1611.5 1358.4 L1611.5 1354.3 L1617.9 1354.3 L1617.9 1354.3 L1624.3 1354.3 L1624.3 1354.3 L1630.8 1354.3 L1630.8 1354.3 L1637.2 1354.3 L1637.2 1354.3 L1643.6 1354.3 L1643.6 1354.3 L1650 1354.3 L1650 1354.3 L1656.4 1354.3 L1656.4 1354.3 L1662.8 1354.3 L1662.8 1354.3 L1669.2 1354.3 L1669.2 1354.3 L1675.6 1354.3 L1675.6 1354.3 L1682 1354.3 L1682 1354.3 L1688.4 1354.3 L1688.4 1354.3 L1694.9 1354.3 L1694.9 1354.3 L1701.3 1354.3 L1701.3 1354.3 L1707.7 1354.3 L1707.7 1354.3 L1714.1 1354.3 L1714.1 1354.3 L1720.5 1354.3 L1720.5 1354.3 L1726.9 1354.3 L1726.9 1354.3 L1733.3 1354.3 L1733.3 1354.3 L1739.7 1354.3 L1739.7 1350.1 L1746.1 1350.1 L1746.1 1340.9 L1752.5 1340.9 L1752.5 1335.9 L1759 1335.9 L1759 1335.9 L1765.4 1335.9 L1765.4 1335.9 L1771.8 1335.9 L1771.8 1326.7 L1778.2 1326.7 L1778.2 1326.7 L1784.6 1326.7 L1784.6 1326.7 L1791 1326.7 L1791 1326.7 L1797.4 1326.7 L1797.4 1326.7 L1803.8 1326.7 L1803.8 1326.7 L1810.2 1326.7 L1810.2 1326.7 L1816.7 1326.7 L1816.7 1317.4 L1823.1 1317.4 L1823.1 1312.8 L1829.5 1312.8 L1829.5 1308.2 L1835.9 1308.2 L1835.9 1308.2 L1842.3 1308.2 L1842.3 1308.2 L1848.7 1308.2 L1848.7 1308.2 L1855.1 1308.2 L1855.1 1308.2 L1861.5 1308.2 L1861.5 1308.2 L1867.9 1308.2 L1867.9 1308.2 L1874.3 1308.2 L1874.3 1308.2 L1880.8 1308.2 L1880.8 1294.4 L1887.2 1294.4 L1887.2 1294.4 L1893.6 1294.4 L1893.6 1294.4 L1900 1294.4 L1900 1294.4 L1906.4 1294.4 L1906.4 1294.4 L1912.8 1294.4 L1912.8 1294.4 L1919.2 1294.4 L1919.2 1294.4 L1925.6 1294.4 L1925.6 1294.4 L1932 1294.4 L1932 1294.4 L1938.4 1294.4 L1938.4 1294.4 L1944.9 1294.4 L1944.9 1294.4 L1951.3 1294.4 L1951.3 1294.4 L1957.7 1294.4 L1957.7 1294.4 L1964.1 1294.4 L1964.1 1294.4 L1970.5 1294.4 L1970.5 1294.4 L1976.9 1294.4 L1976.9 1294.4 L1983.3 1294.4 L1983.3 1294.4 L1989.7 1294.4 L1989.7 1294.4 L1996.1 1294.4 L1996.1 1294.4 L2002.6 1294.4 L2002.6 1294.4 L2009 1294.4 L2009 1294.4 L2015.4 1294.4 L2015.4 1294.4 L2021.8 1294.4 L2021.8 1294.4 L2028.2 1294.4 L2028.2 1294.4 L2034.6 1294.4 L2034.6 1294.4 L2041 1294.4 L2041 1294.4 L2047.4 1294.4 L2047.4 1294.4 L2053.8 1294.4 L2053.8 1294.4 L2060.2 1294.4 L2060.2 1294.4 L2066.7 1294.4 L2066.7 1294.4 L2073.1 1294.4 L2073.1 1294.4 L2079.5 1294.4 L2079.5 1294.4 L2085.9 1294.4 L2085.9 1294.4 L2092.3 1294.4 L2092.3 1294.4 L2098.7 1294.4 L2098.7 1294.4 L2105.1 1294.4 L2105.1 1294.4 L2111.5 1294.4 L2111.5 1294.4 L2117.9 1294.4 L2117.9 1294.4 L2124.4 1294.4 L2124.4 1294.4 L2130.8 1294.4 L2130.8 1294.4 L2137.2 1294.4 L2137.2 1294.4 L2143.6 1294.4 L2143.6 1294.4 L2150 1294.4 L2150 1294.4 L2156.4 1294.4 L2156.4 1294.4 L2162.8 1294.4 L2162.8 1294.4 L2169.2 1294.4 L2169.2 1294.4 L2175.6 1294.4 L2175.6 1294.4 L2182 1294.4 L2182 1294.4 L2188.5 1294.4 L2188.5 1294.4 L2194.9 1294.4 L2194.9 1294.4 L2201.3 1294.4 L2201.3 1294.4 L2207.7 1294.4 L2207.7 1294.4 L2214.1 1294.4 L2214.1 1294.4 L2220.5 1294.4 L2220.5 1294.4 L2226.9 1294.4 L2226.9 1294.4 L2233.3 1294.4 L2233.3 1294.4 L2239.7 1294.4 L2239.7 1294.4 L2246.1 1294.4 L2246.1 1294.4 L2252.6 1294.4 L2252.6 1294.4 L2259 1294.4 L2259 1294.4 L2265.4 1294.4 L2265.4 1294.4 L2271.8 1294.4 L2271.8 1294.4 L2278.2 1294.4 L2278.2 1294.4 L2284.6 1294.4 L2284.6 1294.4 L2291 1294.4 L2291 1294.4 L2297.4 1294.4 L2297.4 1294.4 L2303.8 1294.4 L2303.8 1294.4 L2310.3 1294.4 L2310.3 1294.4 L2316.7 1294.4 L2316.7 1294.4 L2323.1 1294.4 L2323.1 1294.4 L2329.5 1294.4 L2329.5 1294.4 L2335.9 1294.4 L2335.9 1284.8 L2342.3 1284.8 L2342.3 1284.8 L2348.7 1284.8 L2348.7 1280.6 L2355.1 1280.6 L2355.1 1151.3 L2361.5 1151.3 L2361.5 1127.3 L2367.9 1127.3 L2367.9 1127.3 L2374.4 1127.3 L2374.4 1127.3 L2380.8 1127.3 L2380.8 1119.1 L2387.2 1119.1 L2387.2 1115.4 L2393.6 1115.4 L2393.6 1078.1 L2400 1078.1 L2400 1078.1 L2406.4 1078.1 L2406.4 1078.1 L2412.8 1078.1 L2412.8 1078.1 L2419.2 1078.1 L2419.2 1078.1 L2425.6 1078.1 L2425.6 1078.1 L2432.1 1078.1 L2432.1 1078.1 L2438.5 1078.1 L2438.5 1073 L2444.9 1073 L2444.9 1073 L2451.3 1073 L2451.3 1027.5 L2457.7 1027.5 L2457.7 1013.2 L2464.1 1013.2 L2464.1 1013.2 L2470.5 1013.2 L2470.5 1013.2 L2476.9 1013.2 L2476.9 1013.2 L2483.3 1013.2 L2483.3 1008.1 L2489.7 1008.1 L2489.7 1004 L2496.2 1004 L2496.2 999.4 L2502.6 999.4 L2502.6 985.6 L2509 985.6 L2509 985.6 L2515.4 985.6 L2515.4 985.6 L2521.8 985.6" fill="none" stroke="#0000FF" stroke-width="4.2" stroke-linejoin="miter"/>
<path d="M423.7 1755.2 L434.2 1744.7 L444.7 1755.2 L434.2 1765.7 Z" fill="#FFA500"/>
<path d="M1077.6 1818.7 L1088.1 1808.2 L1098.6 1818.7 L1088.1 1829.2 Z" fill="#FFA500"/>
<path d="M1263.5 1851.9 L1274 1841.4 L1284.5 1851.9 L1274 1862.4 Z" fill="#FFA500"/>
<path d="M1346.8 1832.1 L1357.3 1821.6 L1367.8 1832.1 L1357.3 1842.6 Z" fill="#FFA500"/>
<path d="M2346.8 1726.7 L2357.3 1716.2 L2367.8 1726.7 L2357.3 1737.2 Z" fill="#FFA500"/>
<path d="M2443 1810.4 L2453.5 1799.9 L2464 1810.4 L2453.5 1820.9 Z" fill="#FFA500"/>
<text x="2481.5" y="1815" font-size="35.6" text-anchor="middle" fill="#FFA500" >6</text>
<line x1="823.5" y1="1800.8" x2="823.5" y2="1819.2" stroke="#FF0000" stroke-width="3.0" />
<line x1="815.5" y1="1805.4" x2="831.5" y2="1814.6" stroke="#FF0000" stroke-width="3.0" />
<line x1="831.5" y1="1805.4" x2="815.5" y2="1814.6" stroke="#FF0000" stroke-width="3.0" />
<text x="856.2" y="535" font-size="35.9" text-anchor="start" fill="#000" >ONI: 0.29</text>
<text x="2499" y="509.2" font-size="35.92" text-anchor="end" fill="#000" >Daily total and cumulative seasonal precipitation</text>
<text x="2499" y="561.3" font-size="35.8" text-anchor="end" fill="#FF0000" >(*=missing, data available through 2009-12-31)</text>
<rect x="189" y="493" width="637" height="564" fill="#fff" stroke="none" stroke-width="0" />
</g>
<g clip-path="url(#cIns)" fill="none" stroke-linejoin="round">
<path d="M262 959.2 L264.8 959.2 L264.8 946.6 L267.6 946.6 L267.6 917.4 L298.2 917.4 L298.2 913.2 L311.6 913.2 L311.6 878.4 L313.5 878.4 L313.5 877 L352 877 L352 857 L353.9 857 L353.9 856.1 L385.9 856.1 L385.9 838 L390.1 838 L390.1 834.4 L454.1 834.4 L454.1 834.4 L461.1 834.4 L461.1 828.3 L463.9 828.3 L463.9 823.3 L559.9 823.3 L559.9 808.8 L566.9 808.8 L566.9 801.8 L568.3 801.8 L568.3 796.3 L575.3 796.3 L575.3 789.3 L576.7 789.3 L576.7 780.4 L590.6 780.4 L590.6 772.6 L600.3 772.6 L600.3 764.3 L603.1 764.3 L603.1 738.6 L674.1 738.6 L674.1 728.1 L676.9 728.1 L676.9 715 L700.6 715 L700.6 705 L706.1 705 L706.1 702.2 L803.6 702.2 L803.6 687.1 L805.8 687.1 L805.8 687.1" stroke="#E41A1C" stroke-width="4"/>
<path d="M260.5 960.5 L262 960.5 L263.5 960.5 L265 956.6 L266.5 953.2 L268 953.2 L269.5 953.2 L271 953.2 L272.5 953.2 L274 953.2 L275.5 951.7 L277 951.7 L278.5 951.7 L280 951.7 L281.5 951.7 L283 951.7 L284.5 951.7 L285.9 951.7 L287.4 951.7 L288.9 951.7 L290.4 951.7 L291.9 949.1 L293.4 944.2 L294.9 939.3 L296.4 939.3 L297.9 931.3 L299.4 929.5 L300.9 926.5 L302.4 926.5 L303.9 926.5 L305.4 926.5 L306.9 926.5 L308.4 926.5 L309.9 926.5 L311.4 926.5 L312.9 924.5 L314.4 924.5 L315.9 924.5 L317.4 914.9 L318.9 879.2 L320.4 871.1 L321.9 871.1 L323.4 871.1 L324.9 871.1 L326.4 871.1 L327.9 867.5 L329.4 867.5 L330.9 864.2 L332.4 864.2 L333.9 862.6 L335.4 862.6 L336.8 861.1 L338.3 861.1 L339.8 861.1 L341.3 861.1 L342.8 861.1 L344.3 861.1 L345.8 861.1 L347.3 861.1 L348.8 861.1 L350.3 861.1 L351.8 861.1 L353.3 861.1 L354.8 861.1 L356.3 861.1 L357.8 861.1 L359.3 861.1 L360.8 861.1 L362.3 861.1 L363.8 861.1 L365.3 859.7 L366.8 857.7 L368.3 857.7 L369.8 857.7 L371.3 857.7 L372.8 857.7 L374.3 857.7 L375.8 857.7 L377.3 857.7 L378.8 857.7 L380.3 857.7 L381.8 857.7 L383.3 857.7 L384.8 857.7 L386.2 857.7 L387.7 857.7 L389.2 857.7 L390.7 857.7 L392.2 857.7 L393.7 857.7 L395.2 857.7 L396.7 857.7 L398.2 857.7 L399.7 857.7 L401.2 857.7 L402.7 857.7 L404.2 855.9 L405.7 855.9 L407.2 854.3 L408.7 854.3 L410.2 854.3 L411.7 854.3 L413.2 849.6 L414.7 849.6 L416.2 849.6 L417.7 849.6 L419.2 849.6 L420.7 849.6 L422.2 848.1 L423.7 846.5 L425.2 846.5 L426.7 846.5 L428.2 846.5 L429.7 846.5 L431.2 846.5 L432.7 846.5 L434.2 846.5 L435.6 846.5 L437.1 846.5 L438.6 843 L440.1 843 L441.6 843 L443.1 840 L444.6 840 L446.1 840 L447.6 840 L449.1 840 L450.6 840 L452.1 840 L453.6 840 L455.1 840 L456.6 840 L458.1 840 L459.6 840 L461.1 840 L462.6 840 L464.1 840 L465.6 840 L467.1 840 L468.6 835.1 L470.1 832 L471.6 818.8 L473.1 809 L474.6 809 L476.1 809 L477.6 809 L479.1 807.2 L480.6 807.2 L482.1 807.2 L483.6 802.3 L485.1 802.3 L486.5 802.3 L488 802.3 L489.5 802.3 L491 802.3 L492.5 802.3 L494 802.3 L495.5 802.3 L497 802.3 L498.5 802.3 L500 802.3 L501.5 802.3 L503 802.3 L504.5 802.3 L506 802.3 L507.5 802.3 L509 802.3 L510.5 802.3 L512 802.3 L513.5 802.3 L515 800.9 L516.5 800.9 L518 800.9 L519.5 800.9 L521 800.9 L522.5 800.9 L524 800.9 L525.5 800.9 L527 800.9 L528.5 800.9 L530 800.9 L531.5 800.9 L533 800.9 L534.5 792.4 L535.9 792.4 L537.4 792.4 L538.9 792.4 L540.4 790.9 L541.9 790.9 L543.4 790.9 L544.9 790.9 L546.4 790.9 L547.9 790.9 L549.4 790.9 L550.9 790.9 L552.4 790.9 L553.9 790.9 L555.4 790.9 L556.9 790.9 L558.4 790.9 L559.9 790.9 L561.4 790.9 L562.9 790.9 L564.4 790.9 L565.9 790.9 L567.4 790.9 L568.9 790.9 L570.4 789.6 L571.9 784.4 L573.4 784.4 L574.9 784.4 L576.4 784.4 L577.9 784.4 L579.4 784.4 L580.9 784.4 L582.4 784.4 L583.9 784.4 L585.3 784.4 L586.8 784.4 L588.3 784.4 L589.8 784.4 L591.3 784.4 L592.8 784.4 L594.3 782.9 L595.8 782.9 L597.3 782.9 L598.8 782.9 L600.3 782.9 L601.8 782.9 L603.3 782.9 L604.8 782.9 L606.3 782.9 L607.8 782.9 L609.3 782.9 L610.8 782.9 L612.3 782.9 L613.8 782.9 L615.3 782.9 L616.8 782.9 L618.3 782.9 L619.8 782.9 L621.3 782.9 L622.8 782.9 L624.3 781.5 L625.8 778.2 L627.3 776.4 L628.8 776.4 L630.3 776.4 L631.8 773.2 L633.3 773.2 L634.8 773.2 L636.2 773.2 L637.7 773.2 L639.2 773.2 L640.7 773.2 L642.2 769.9 L643.7 768.3 L645.2 766.6 L646.7 766.6 L648.2 766.6 L649.7 766.6 L651.2 766.6 L652.7 766.6 L654.2 766.6 L655.7 766.6 L657.2 761.8 L658.7 761.8 L660.2 761.8 L661.7 761.8 L663.2 761.8 L664.7 761.8 L666.2 761.8 L667.7 761.8 L669.2 761.8 L670.7 761.8 L672.2 761.8 L673.7 761.8 L675.2 761.8 L676.7 761.8 L678.2 761.8 L679.7 761.8 L681.2 761.8 L682.7 761.8 L684.2 761.8 L685.6 761.8 L687.1 761.8 L688.6 761.8 L690.1 761.8 L691.6 761.8 L693.1 761.8 L694.6 761.8 L696.1 761.8 L697.6 761.8 L699.1 761.8 L700.6 761.8 L702.1 761.8 L703.6 761.8 L705.1 761.8 L706.6 761.8 L708.1 761.8 L709.6 761.8 L711.1 761.8 L712.6 761.8 L714.1 761.8 L715.6 761.8 L717.1 761.8 L718.6 761.8 L720.1 761.8 L721.6 761.8 L723.1 761.8 L724.6 761.8 L726.1 761.8 L727.6 761.8 L729.1 761.8 L730.6 761.8 L732.1 761.8 L733.6 761.8 L735 761.8 L736.5 761.8 L738 761.8 L739.5 761.8 L741 761.8 L742.5 761.8 L744 761.8 L745.5 761.8 L747 761.8 L748.5 761.8 L750 761.8 L751.5 761.8 L753 761.8 L754.5 761.8 L756 761.8 L757.5 761.8 L759 761.8 L760.5 761.8 L762 761.8 L763.5 758.3 L765 758.3 L766.5 756.9 L768 711.1 L769.5 702.6 L771 702.6 L772.5 702.6 L774 699.7 L775.5 698.4 L777 685.2 L778.5 685.2 L780 685.2 L781.5 685.2 L783 685.2 L784.5 685.2 L785.9 685.2 L787.4 683.4 L788.9 683.4 L790.4 667.3 L791.9 662.2 L793.4 662.2 L794.9 662.2 L796.4 662.2 L797.9 660.4 L799.4 659 L800.9 657.3 L802.4 652.5 L803.9 652.5 L805.4 652.5 L805.8 652.5" stroke="#377EB8" stroke-width="4"/>
<path d="M262 959.2 L271.8 959.2 L271.8 955 L285.7 955 L285.7 953.6 L310.7 953.6 L310.7 950.8 L313.5 950.8 L313.5 948 L335.8 948 L335.8 946.6 L337.2 946.6 L337.2 927.1 L348.3 927.1 L348.3 923 L360.9 923 L360.9 917.4 L365 917.4 L365 907.7 L366.4 907.7 L366.4 888.2 L369.2 888.2 L369.2 874.2 L374.8 874.2 L374.8 867.3 L377 867.3 L377 846.4 L383.1 846.4 L383.1 836.7 L394.3 836.7 L394.3 831.1 L402.6 831.1 L402.6 827.5 L414.3 827.5 L414.3 817.2 L419.3 817.2 L419.3 807.4 L427.7 807.4 L427.7 804.6 L430.5 804.6 L430.5 800.5 L463.9 800.5 L463.9 800.5 L472.2 800.5 L472.2 796.3 L482 796.3 L482 789.3 L533.5 789.3 L533.5 789.3 L544.6 789.3 L544.6 786.5 L564.1 786.5 L564.1 782.4 L566.9 782.4 L566.9 778.2 L578 778.2 L578 776.2 L605.9 776.2 L605.9 776.2 L610.1 776.2 L610.1 768.4 L617 768.4 L617 761.5 L708.9 761.5 L708.9 761.5 L714.5 761.5 L714.5 753.1 L725.6 753.1 L725.6 748.9 L728.4 748.9 L728.4 737.3 L759 737.3 L759 737.3 L789.7 737.3 L789.7 735 L805.8 735 L805.8 734.5" stroke="#4DAF4A" stroke-width="4"/>
<path d="M260.5 960.5 L265 955.5 L269.5 943.8 L274 940.3 L278.5 935.1 L283 930.5 L287.4 926 L291.9 919.6 L296.4 914.1 L300.9 906.5 L305.4 903.2 L309.9 897.7 L314.4 892.7 L318.9 886.3 L323.4 882.7 L327.9 872.9 L332.4 870.6 L336.8 863.5 L341.3 856.6 L345.8 849.5 L350.3 839.8 L354.8 836.6 L359.3 831.5 L363.8 824.7 L368.3 819.3 L372.8 814.1 L377.3 809.7 L381.8 805.3 L386.2 800.4 L390.7 795.2 L395.2 791.9 L399.7 788.4 L404.2 786.4 L408.7 784.5 L413.2 782.8 L417.7 781.6 L422.2 779.5 L426.7 775.7 L431.2 772.5 L435.6 769.8 L440.1 767.9 L444.6 766.6 L449.1 765.6 L453.6 764.7 L458.1 763.8 L462.6 762.1 L467.1 760.1 L471.6 758.7 L476.1 757.9 L480.6 756.3 L485.1 755.5 L489.5 754.8 L494 753.4 L498.5 753.1 L503 752.1 L507.5 751.8 L512 751.7 L516.5 751.6 L521 751.3 L525.5 750.9 L530 750 L534.5 747.8 L538.9 745 L543.4 743.6 L547.9 740.5 L552.4 737.4 L556.9 733.3 L561.4 729.1 L565.9 724.7 L570.4 719.8 L574.9 715.6 L579.4 711.8 L583.9 706.1 L588.3 703 L592.8 697.6 L597.3 693.6 L601.8 689.2 L606.3 684.8 L610.8 677.7 L615.3 670.6 L619.8 666.2 L624.3 662.4 L628.8 660.2 L633.3 655.5 L637.7 650.8 L642.2 647.1 L646.7 644.7 L651.2 641.7 L655.7 639.6 L660.2 634.7 L664.7 631.4 L669.2 628.9 L673.7 626.1 L678.2 620.3 L682.7 618.3 L687.1 615.8 L691.6 613.7 L696.1 611.4 L700.6 609.5 L705.1 607.3 L709.6 604.8 L714.1 600.6 L718.6 597.7 L723.1 596.1 L727.6 590.5 L732.1 585.5 L736.5 582.3 L741 580.7 L745.5 574.9 L750 571.9 L754.5 569.1 L759 560.5 L763.5 556.6 L768 550 L772.5 545.9 L777 541.2 L781.5 537.4 L785.9 531.9 L790.4 526.5 L794.9 522.3 L799.4 517.2 L803.9 511 L805.8 510.8" stroke="#000" stroke-width="4.4" stroke-dasharray="15 15"/>
</g>
<rect x="260.5" y="511.7" width="545.3" height="447.6" fill="none" stroke="#333333" stroke-width="2" />
<line x1="271.8" y1="564.6" x2="328.8" y2="564.6" stroke="#E41A1C" stroke-width="4" />
<text x="356.2" y="574.3" font-size="27.3" text-anchor="start" fill="#000" font-weight="bold" >1989</text>
<line x1="271.8" y1="636.7" x2="328.8" y2="636.7" stroke="#377EB8" stroke-width="4" />
<text x="356.2" y="646.4" font-size="27.3" text-anchor="start" fill="#000" font-weight="bold" >2009</text>
<line x1="271.8" y1="709.1" x2="328.8" y2="709.1" stroke="#4DAF4A" stroke-width="4" />
<text x="356.2" y="718.8" font-size="27.3" text-anchor="start" fill="#000" font-weight="bold" >2020</text>
<line x1="251" y1="960.5" x2="260.5" y2="960.5" stroke="#333333" stroke-width="3.4" />
<text x="242" y="970.9" font-size="29.2" text-anchor="end" fill="#4D4D4D" font-weight="bold" >0</text>
<line x1="251" y1="797.6" x2="260.5" y2="797.6" stroke="#333333" stroke-width="3.4" />
<text x="242" y="808" font-size="29.2" text-anchor="end" fill="#4D4D4D" font-weight="bold" >10</text>
<line x1="251" y1="634.7" x2="260.5" y2="634.7" stroke="#333333" stroke-width="3.4" />
<text x="242" y="645.1" font-size="29.2" text-anchor="end" fill="#4D4D4D" font-weight="bold" >20</text>
<line x1="260.5" y1="959.3" x2="260.5" y2="969.5" stroke="#333333" stroke-width="3.4" />
<text transform="translate(260.5 977.5) rotate(-45)" x="0" y="21" font-size="29.2" font-weight="bold" text-anchor="end" fill="#4D4D4D">Jan</text>
<line x1="306.9" y1="959.3" x2="306.9" y2="969.5" stroke="#333333" stroke-width="3.4" />
<text transform="translate(306.9 977.5) rotate(-45)" x="0" y="21" font-size="29.2" font-weight="bold" text-anchor="end" fill="#4D4D4D">Feb</text>
<line x1="348.8" y1="959.3" x2="348.8" y2="969.5" stroke="#333333" stroke-width="3.4" />
<text transform="translate(348.8 977.5) rotate(-45)" x="0" y="21" font-size="29.2" font-weight="bold" text-anchor="end" fill="#4D4D4D">Mar</text>
<line x1="395.2" y1="959.3" x2="395.2" y2="969.5" stroke="#333333" stroke-width="3.4" />
<text transform="translate(395.2 977.5) rotate(-45)" x="0" y="21" font-size="29.2" font-weight="bold" text-anchor="end" fill="#4D4D4D">Apr</text>
<line x1="440.1" y1="959.3" x2="440.1" y2="969.5" stroke="#333333" stroke-width="3.4" />
<text transform="translate(440.1 977.5) rotate(-45)" x="0" y="21" font-size="29.2" font-weight="bold" text-anchor="end" fill="#4D4D4D">May</text>
<line x1="486.5" y1="959.3" x2="486.5" y2="969.5" stroke="#333333" stroke-width="3.4" />
<text transform="translate(486.5 977.5) rotate(-45)" x="0" y="21" font-size="29.2" font-weight="bold" text-anchor="end" fill="#4D4D4D">Jun</text>
<line x1="531.5" y1="959.3" x2="531.5" y2="969.5" stroke="#333333" stroke-width="3.4" />
<text transform="translate(531.5 977.5) rotate(-45)" x="0" y="21" font-size="29.2" font-weight="bold" text-anchor="end" fill="#4D4D4D">Jul</text>
<line x1="577.9" y1="959.3" x2="577.9" y2="969.5" stroke="#333333" stroke-width="3.4" />
<text transform="translate(577.9 977.5) rotate(-45)" x="0" y="21" font-size="29.2" font-weight="bold" text-anchor="end" fill="#4D4D4D">Aug</text>
<line x1="624.3" y1="959.3" x2="624.3" y2="969.5" stroke="#333333" stroke-width="3.4" />
<text transform="translate(624.3 977.5) rotate(-45)" x="0" y="21" font-size="29.2" font-weight="bold" text-anchor="end" fill="#4D4D4D">Sep</text>
<line x1="669.2" y1="959.3" x2="669.2" y2="969.5" stroke="#333333" stroke-width="3.4" />
<text transform="translate(669.2 977.5) rotate(-45)" x="0" y="21" font-size="29.2" font-weight="bold" text-anchor="end" fill="#4D4D4D">Oct</text>
<line x1="715.6" y1="959.3" x2="715.6" y2="969.5" stroke="#333333" stroke-width="3.4" />
<text transform="translate(715.6 977.5) rotate(-45)" x="0" y="21" font-size="29.2" font-weight="bold" text-anchor="end" fill="#4D4D4D">Nov</text>
<line x1="760.5" y1="959.3" x2="760.5" y2="969.5" stroke="#333333" stroke-width="3.4" />
<text transform="translate(760.5 977.5) rotate(-45)" x="0" y="21" font-size="29.2" font-weight="bold" text-anchor="end" fill="#4D4D4D">Dec</text>
<rect x="184.2" y="458.9" width="2329.1" height="1394.9" fill="none" stroke="#000" stroke-width="4.3" />
<line x1="170.3" y1="1856" x2="182" y2="1856" stroke="#333333" stroke-width="4.4" />
<text x="160.3" y="1869.6" font-size="36.67" text-anchor="end" fill="#4D4D4D" >0</text>
<line x1="170.3" y1="1395.7" x2="182" y2="1395.7" stroke="#333333" stroke-width="4.4" />
<text x="160.3" y="1409.3" font-size="36.67" text-anchor="end" fill="#4D4D4D" >10</text>
<line x1="170.3" y1="935.4" x2="182" y2="935.4" stroke="#333333" stroke-width="4.4" />
<text x="160.3" y="949" font-size="36.67" text-anchor="end" fill="#4D4D4D" >20</text>
<line x1="170.3" y1="475.1" x2="182" y2="475.1" stroke="#333333" stroke-width="4.4" />
<text x="160.3" y="488.7" font-size="36.67" text-anchor="end" fill="#4D4D4D" >30</text>
<line x1="184.5" y1="1856" x2="184.5" y2="1867.2" stroke="#333333" stroke-width="4.4" />
<line x1="380.7" y1="1856" x2="380.7" y2="1867.2" stroke="#333333" stroke-width="4.4" />
<line x1="560.2" y1="1856" x2="560.2" y2="1867.2" stroke="#333333" stroke-width="4.4" />
<line x1="758.9" y1="1856" x2="758.9" y2="1867.2" stroke="#333333" stroke-width="4.4" />
<line x1="951.2" y1="1856" x2="951.2" y2="1867.2" stroke="#333333" stroke-width="4.4" />
<line x1="1150" y1="1856" x2="1150" y2="1867.2" stroke="#333333" stroke-width="4.4" />
<line x1="1342.3" y1="1856" x2="1342.3" y2="1867.2" stroke="#333333" stroke-width="4.4" />
<line x1="1541" y1="1856" x2="1541" y2="1867.2" stroke="#333333" stroke-width="4.4" />
<line x1="1739.7" y1="1856" x2="1739.7" y2="1867.2" stroke="#333333" stroke-width="4.4" />
<line x1="1932" y1="1856" x2="1932" y2="1867.2" stroke="#333333" stroke-width="4.4" />
<line x1="2130.8" y1="1856" x2="2130.8" y2="1867.2" stroke="#333333" stroke-width="4.4" />
<line x1="2323.1" y1="1856" x2="2323.1" y2="1867.2" stroke="#333333" stroke-width="4.4" />
<text transform="translate(57.9 1156.4) rotate(-90)" font-size="45.8" text-anchor="middle">Inches</text>
<g clip-path="url(#cTemp)">
<line x1="380.7" y1="1913" x2="380.7" y2="2321.5" stroke="#EBEBEB" stroke-width="4" />
<line x1="560.2" y1="1913" x2="560.2" y2="2321.5" stroke="#EBEBEB" stroke-width="4" />
<line x1="758.9" y1="1913" x2="758.9" y2="2321.5" stroke="#EBEBEB" stroke-width="4" />
<line x1="951.2" y1="1913" x2="951.2" y2="2321.5" stroke="#EBEBEB" stroke-width="4" />
<line x1="1150" y1="1913" x2="1150" y2="2321.5" stroke="#EBEBEB" stroke-width="4" />
<line x1="1342.3" y1="1913" x2="1342.3" y2="2321.5" stroke="#EBEBEB" stroke-width="4" />
<line x1="1541" y1="1913" x2="1541" y2="2321.5" stroke="#EBEBEB" stroke-width="4" />
<line x1="1739.7" y1="1913" x2="1739.7" y2="2321.5" stroke="#EBEBEB" stroke-width="4" />
<line x1="1932" y1="1913" x2="1932" y2="2321.5" stroke="#EBEBEB" stroke-width="4" />
<line x1="2130.8" y1="1913" x2="2130.8" y2="2321.5" stroke="#EBEBEB" stroke-width="4" />
<line x1="2323.1" y1="1913" x2="2323.1" y2="2321.5" stroke="#EBEBEB" stroke-width="4" />
<line x1="182" y1="2256" x2="2515.4" y2="2256" stroke="#EBEBEB" stroke-width="4" />
<line x1="182" y1="2172.4" x2="2515.4" y2="2172.4" stroke="#EBEBEB" stroke-width="4" />
<line x1="182" y1="2088.8" x2="2515.4" y2="2088.8" stroke="#EBEBEB" stroke-width="4" />
<line x1="182" y1="2005.2" x2="2515.4" y2="2005.2" stroke="#EBEBEB" stroke-width="4" />
<line x1="182" y1="1921.6" x2="2515.4" y2="1921.6" stroke="#EBEBEB" stroke-width="4" />
<path d="M185.5 2092.6 L192.6 2092.6 L192.6 2129.1 L198.9 2129.1 L198.9 2146.7 L210.2 2146.7 L210.2 2115.2 L216.5 2115.2 L216.5 2071.2 L225.3 2071.2 L225.3 2062.4 L231.6 2062.4 L231.6 2112.7 L237.9 2112.7 L237.9 2131.6 L241.7 2131.6 L241.7 2102.6 L248 2102.6 L248 2088.8 L254.3 2088.8 L254.3 2072.4 L263.1 2072.4 L263.1 2096.3 L266.9 2096.3 L266.9 2082.5 L275.7 2082.5 L275.7 2098.9 L282 2098.9 L282 2105.2 L288.3 2105.2 L288.3 2106.4 L293.3 2106.4 L293.3 2102.6 L299.6 2102.6 L299.6 2092.6 L305.9 2092.6 L305.9 2076.2 L314.7 2076.2 L314.7 2096.3 L321 2096.3 L321 2111.5 L331.1 2111.5 L331.1 2116.5 L339.9 2116.5 L339.9 2137.9 L343.7 2137.9 L343.7 2135.4 L349.9 2135.4 L349.9 2114 L358.8 2114 L358.8 2121.5 L363.8 2121.5 L363.8 2114 L370.1 2114 L370.1 2078.7 L378.9 2078.7 L378.9 2101.4 L382.7 2101.4 L382.7 2095.1 L395.3 2095.1 L395.3 2062.4 L404.1 2062.4 L404.1 2072.4 L410.4 2072.4 L410.4 2096.3 L423 2096.3 L423 2139.2 L429.3 2139.2 L429.3 2146.7 L440.6 2146.7 L440.6 2139.2 L446.9 2139.2 L446.9 2134.1 L453.2 2134.1 L453.2 2129.1 L463.2 2129.1 L463.2 2132.9 L465.8 2132.9 L465.8 2098.9 L478.4 2098.9 L478.4 2126.6 L482.1 2126.6 L482.1 2125.3 L492.2 2125.3 L492.2 2121.5 L498.5 2121.5 L498.5 2066.1 L507.3 2066.1 L507.3 2078.7 L511.1 2078.7 L511.1 2068.7 L517.4 2068.7 L517.4 2062.4 L526.2 2062.4 L526.2 2068.7 L532.5 2068.7 L532.5 2072.4 L538.8 2072.4 L538.8 2081.2 L542.6 2081.2 L542.6 2078.7 L551.4 2078.7 L551.4 2091.3 L555.1 2091.3 L555.1 2042.2 L565.2 2042.2 L565.2 2046 L570.3 2046 L570.3 2074.9 L576.5 2074.9 L576.5 2078.7 L582.8 2078.7 L582.8 2092.6 L590.4 2092.6 L590.4 2108.9 L596.7 2108.9 L596.7 2112.7 L600.5 2112.7 L600.5 2098.9 L608 2098.9 L608 2121.5 L613.1 2121.5 L613.1 2085 L619.3 2085 L619.3 2086.3 L633.2 2086.3 L633.2 2092.6 L640.7 2092.6 L640.7 2091.3 L650.1 2091.3 L650 2071.2 L658.8 2071.2 L658.8 2052.3 L672.7 2052.3 L672.7 2049 L680.2 2049 L680.2 2055.6 L686.5 2055.6 L686.5 2064.9 L692.8 2064.9 L692.8 2078.7 L699.1 2078.7 L699.1 2115.2 L702.9 2115.2 L702.9 2091.3 L711.7 2091.3 L711.7 2085 L718 2085 L718 2091.3 L725 2091.3 L725 2108.9 L729.3 2108.9 L729.3 2072.4 L737.6 2072.4 L737.6 2085 L744.4 2085 L744.4 2098.9 L748.2 2098.9 L748.2 2086.3 L758.3 2086.3 L758.3 2078.7 L768.3 2078.7 L768.3 2081.2 L770.9 2081.2 L770.9 2097.6 L775.9 2097.6 L775.9 2111.5 L779.7 2111.5 L779.7 2101.4 L787.2 2101.4 L787.2 2078.7 L793.5 2078.7 L793.5 2049 L801.8 2049 L801.8 2085 L806.1 2085 L806.1 2082.5 L814.9 2082.5 L814.9 2081.2 L821.2 2081.2 L821.2 2135.4 L825 2135.4 L825 2081.2 L831.3 2081.2 L831.3 2065.6 L840.1 2065.6 L840.1 2068.7 L847.1 2068.7 L847.1 2115.2 L853.4 2115.2 L853.4 2126.6 L857.2 2126.6 L857.2 2088.8 L863.5 2088.8 L863.5 2059.1 L870.3 2059.1 L870.3 2049 L876.6 2049 L876.6 2032.1 L882.9 2032.1 L882.9 2025.3 L898 2025.3 L898 2042.2 L904.3 2042.2 L904.3 2056.1 L911.1 2056.1 L911.1 2078.7 L914.4 2078.7 L914.4 2071.2 L920.7 2071.2 L920.7 2064.9 L927 2064.9 L927 2058.6 L934.5 2058.6 L934.5 2045.5 L940.8 2045.5 L940.8 2035.4 L947.1 2035.4 L947.1 2032.1 L955.9 2032.1 L955.9 2052.3 L959.7 2052.3 L959.7 2035.4 L966 2035.4 L966 2032.1 L979.1 2032.1 L979.1 2012 L984.9 2012 L984.9 2008.7 L1000 2008.7 L1000 2012 L1012.6 2012 L1012.6 2013.3 L1020.1 2013.3 L1020.1 2022.1 L1025.1 2022.1 L1025.1 2018.8 L1037.7 2018.8 L1037.7 2013.3 L1045.3 2013.3 L1045.3 2008.7 L1064.2 2008.7 L1064.2 2018.8 L1070.5 2018.8 L1070.5 2042.2 L1078 2042.2 L1078 2046 L1083.8 2046 L1083.8 2068.7 L1088.1 2068.7 L1088.1 2058.6 L1094.4 2058.6 L1094.4 2046 L1103.2 2046 L1103.2 2042.2 L1120.1 2042.2 L1120 2035.9 L1125 2035.9 L1125 2022.8 L1135.1 2022.8 L1135.1 2035.4 L1138.9 2035.4 L1138.9 2032.1 L1145.2 2032.1 L1145.2 2025.3 L1151.5 2025.3 L1151.5 2022.1 L1157.8 2022.1 L1157.8 2017 L1170.4 2017 L1170.4 2015.3 L1173.6 2015.3 L1173.6 2042.2 L1179.9 2042.2 L1179.9 2058.6 L1184.2 2058.6 L1184.2 2045.5 L1193 2045.5 L1193 2049 L1199.3 2049 L1199.3 2052.3 L1203.1 2052.3 L1203.1 2045.5 L1213.2 2045.5 L1213.2 2048.5 L1216.2 2048.5 L1216.2 2038.9 L1223.2 2038.9 L1223.2 2035.4 L1232 2035.4 L1232 2038.9 L1235.8 2038.9 L1235.8 2035.4 L1244.6 2035.4 L1244.6 2045.5 L1247.9 2045.5 L1247.9 2035.4 L1254.7 2035.4 L1254.7 2022.1 L1261 2022.1 L1261 2012 L1269.8 2012 L1269.8 2038.4 L1273.6 2038.4 L1273.6 2018.8 L1279.9 2018.8 L1279.9 1998.7 L1293.7 1998.7 L1293.7 1995.1 L1308.8 1995.1 L1308.8 2012 L1312.1 2012 L1312.1 1998.7 L1318.9 1998.7 L1318.9 1978.5 L1327.7 1978.5 L1327.7 1985.1 L1331.5 1985.1 L1331.5 1975 L1340.3 1975 L1340.3 1988.1 L1346.6 1988.1 L1346.6 2008.7 L1350.4 2008.7 L1350.4 1998.7 L1360.4 1998.7 L1360.4 2001.9 L1363.7 2001.9 L1363.7 1995.1 L1370.5 1995.1 L1370.5 1988.6 L1379.3 1988.6 L1379.3 1991.9 L1395.7 1991.9 L1395.7 1985.1 L1402 1985.1 L1402 1971.7 L1410.8 1971.7 L1410.8 1975 L1417.1 1975 L1417.1 1978.5 L1423.9 1978.5 L1423.9 1981.8 L1427.2 1981.8 L1427.2 1980 L1433.5 1980 L1433.5 1978.5 L1439.8 1978.5 L1439.8 1968.4 L1447.3 1968.4 L1447.3 1965.4 L1455.6 1965.4 L1455.6 1971.7 L1462.4 1971.7 L1462.4 1998.7 L1468.7 1998.7 L1468.7 2005.2 L1472.5 2005.2 L1472.5 1998.7 L1487.6 1998.7 L1487.6 1995.1 L1504.5 1995.1 L1504.5 1975 L1514 1975 L1514 1978.5 L1520.3 1978.5 L1520.3 1998.7 L1530.4 1998.7 L1530.4 1985.1 L1536.7 1985.1 L1536.7 1978.5 L1545.5 1978.5 L1545.5 1981.8 L1550.5 1981.8 L1550.5 1978.5 L1563.1 1978.5 L1563.1 1975 L1571.4 1975 L1571.4 2001.9 L1577 2001.9 L1577 2018.8 L1580.7 2018.8 L1580.7 2008.7 L1590.1 2008.7 L1590 2001.9 L1595 2001.9 L1595 1991.9 L1601.3 1991.9 L1601.3 1985.1 L1607.6 1985.1 L1607.6 1978.5 L1615.9 1978.5 L1615.9 2038.4 L1620.2 2038.4 L1620.2 2012 L1627.8 2012 L1627.8 2008.7 L1633.3 2008.7 L1633.3 2001.9 L1639.1 2001.9 L1639.1 1995.1 L1645.9 1995.1 L1645.9 1988.6 L1652.9 1988.6 L1652.9 1985.1 L1658.5 1985.1 L1658.5 1971.7 L1667.5 1971.7 L1667.5 1978.5 L1673.8 1978.5 L1673.8 2018.8 L1677.6 2018.8 L1677.6 1998.7 L1686.9 1998.7 L1686.9 2015.3 L1690.7 2015.3 L1690.7 2008.7 L1697 2008.7 L1697 1995.1 L1703.8 1995.1 L1703.8 1988.6 L1710.3 1988.6 L1710.3 1981.8 L1726 1981.8 L1726 1985.1 L1732.3 1985.1 L1732.3 1991.9 L1744.8 1991.9 L1744.8 2005.2 L1748.6 2005.2 L1748.6 2001.9 L1757.4 2001.9 L1757.4 2005.2 L1763.7 2005.2 L1763.7 2045.5 L1767.5 2045.5 L1767.5 2018.8 L1781.3 2018.8 L1781.3 2012 L1790.2 2012 L1790.2 2015.3 L1799 2015.3 L1799 2012 L1815.3 2012 L1815.3 2018.8 L1821.1 2018.8 L1821.1 2025.3 L1833.7 2025.3 L1833.7 2042.2 L1838 2042.2 L1838 2035.4 L1844.3 2035.4 L1844.3 2032.1 L1851.8 2032.1 L1851.8 2028.9 L1856.9 2028.9 L1856.9 2022.1 L1863.7 2022.1 L1863.7 2005.2 L1872.7 2005.2 L1872.7 2055.6 L1876.5 2055.6 L1876.5 2042.2 L1882.8 2042.2 L1882.8 2035.4 L1889.1 2035.4 L1889.1 2008.7 L1895.4 2008.7 L1895.4 1998.7 L1902.2 1998.7 L1902.2 1991.9 L1911 1991.9 L1911 2001.9 L1917.3 2001.9 L1917.3 2012 L1924.4 2012 L1924.4 2035.4 L1929.9 2035.4 L1929.9 2049 L1934.4 2049 L1934.4 2038.4 L1943.2 2038.4 L1943.2 2055.6 L1949.5 2055.6 L1949.5 2072.4 L1955.8 2072.4 L1955.8 2078.7 L1960.1 2078.7 L1960.1 2052.3 L1968.4 2052.3 L1968.4 2082.5 L1972.7 2082.5 L1972.7 2072.4 L1979 2072.4 L1979 2052.3 L1987.8 2052.3 L1987.8 2046 L1994.6 2046 L1994.6 2062.4 L1997.9 2062.4 L1997.9 2059.1 L2007.2 2059.1 L2007.2 2065.6 L2011 2065.6 L2011 2052.3 L2018 2052.3 L2018 2045.5 L2024.3 2045.5 L2024.3 2032.1 L2030.6 2032.1 L2030.6 2008.7 L2039.4 2008.7 L2039.4 2022.1 L2045.7 2022.1 L2045.7 2038.4 L2052 2038.4 L2052 2075.7 L2056.3 2075.7 L2056.3 2059.1 L2060.1 2059.1 L2060 2052.3 L2068.8 2052.3 L2068.8 2049 L2075.1 2049 L2075.1 2042.2 L2083.9 2042.2 L2083.9 2055.6 L2090.2 2055.6 L2090.2 2075.7 L2097.3 2075.7 L2097.3 2089.3 L2103.3 2089.3 L2103.3 2132.9 L2114.1 2132.9 L2114.1 2075.7 L2120.4 2075.7 L2120.4 2062.4 L2126.7 2062.4 L2126.7 2028.9 L2133 2028.9 L2133 2022.1 L2154.4 2022.1 L2154.4 2035.4 L2160.7 2035.4 L2160.7 2052.3 L2165.7 2052.3 L2165.7 2049 L2173.8 2049 L2173.8 2062.4 L2177.8 2062.4 L2177.8 2052.3 L2184.6 2052.3 L2184.6 2046 L2193.4 2046 L2193.4 2049 L2199.7 2049 L2199.7 2078.7 L2206 2078.7 L2206 2112.7 L2212.3 2112.7 L2212.3 2116 L2218.6 2116 L2218.6 2129.1 L2223.2 2129.1 L2223.2 2099.4 L2229.2 2099.4 L2229.2 2085.8 L2235.5 2085.8 L2235.5 2072.4 L2244.6 2072.4 L2244.6 2079.2 L2248.3 2079.2 L2248.3 2072.4 L2256.9 2072.4 L2256.9 2079.2 L2269 2079.2 L2269 2099.4 L2276.5 2099.4 L2276.5 2119 L2280.3 2119 L2280.3 2099.4 L2286.6 2099.4 L2286.6 2075.7 L2294.2 2075.7 L2294.2 2072.4 L2301.7 2072.4 L2301.7 2102.6 L2309.3 2102.6 L2309.3 2131.1 L2312.5 2131.1 L2312.5 2122.8 L2318.8 2122.8 L2318.8 2082.5 L2327.4 2082.5 L2327.4 2102.6 L2331.9 2102.6 L2331.9 2116 L2333.9 2116 L2333.9 2136.1 L2338.2 2136.1 L2338.2 2116 L2347 2116 L2347 2132.9 L2353.3 2132.9 L2353.3 2153 L2357.1 2153 L2357.1 2142.9 L2365.9 2142.9 L2365.9 2158 L2370.2 2158 L2370.2 2149.7 L2376.7 2149.7 L2376.7 2129.1 L2383 2129.1 L2383 2116 L2391.8 2116 L2391.8 2139.7 L2402.4 2139.7 L2402.4 2132.9 L2408.7 2132.9 L2408.7 2122.8 L2415 2122.8 L2415 2082.5 L2423.8 2082.5 L2423.8 2095.8 L2430.1 2095.8 L2430.1 2099.4 L2436.9 2099.4 L2436.9 2126.1 L2440.7 2126.1 L2440.7 2079.2 L2449.5 2079.2 L2449.5 2099.4 L2455.8 2099.4 L2455.8 2136.1 L2460.3 2136.1 L2460.3 2116 L2467.9 2116 L2467.9 2153 L2472.9 2153 L2472.9 2142.9 L2481 2142.9 L2481 2156.3 L2485.5 2156.3 L2485.5 2119 L2494.3 2119 L2494.3 2153 L2498.6 2153 L2498.6 2129.1 L2506.9 2129.1 L2506.9 2142.9 L2513.2 2142.9 L2513.2 2182 L2503.1 2182 L2503.1 2189 L2494.3 2189 L2494.3 2232.3 L2485.5 2232.3 L2485.5 2226 L2466.6 2226 L2466.6 2189 L2460.3 2189 L2460.3 2185.7 L2453.5 2185.7 L2453.5 2182 L2444 2182 L2444 2189 L2434.4 2189 L2434.4 2171.9 L2430.1 2171.9 L2430.1 2179.4 L2420 2179.4 L2420 2182 L2411.2 2182 L2411.2 2189 L2402.4 2189 L2402.4 2171.9 L2396.1 2171.9 L2396.1 2153 L2392.3 2153 L2392.3 2192 L2385.5 2192 L2385.5 2222.2 L2374.7 2222.2 L2374.7 2215.9 L2370.2 2215.9 L2370.2 2185.7 L2364.6 2185.7 L2364.6 2159.3 L2359.6 2159.3 L2359.6 2175.7 L2353.3 2175.7 L2353.3 2192 L2347 2192 L2347 2202.1 L2338.2 2202.1 L2338.2 2199.1 L2331.9 2199.1 L2331.9 2182 L2325.6 2182 L2325.6 2175.7 L2318.8 2175.7 L2318.8 2153 L2314.3 2153 L2314.3 2169.4 L2299.2 2169.4 L2299.2 2155.5 L2282.8 2155.5 L2282.8 2165.6 L2270.2 2165.6 L2270.2 2175.7 L2261.4 2175.7 L2261.4 2165.6 L2248.8 2165.6 L2248.8 2163.1 L2241.3 2163.1 L2241.3 2159.3 L2231.2 2159.3 L2231.2 2156.8 L2224.9 2156.8 L2224.9 2192 L2216.6 2192 L2216.6 2154.3 L2210.3 2154.3 L2210.3 2135.4 L2203.5 2135.4 L2203.5 2112.7 L2193.4 2112.7 L2193.4 2136.6 L2185.9 2136.6 L2185.9 2142.9 L2172 2142.9 L2172 2119 L2167 2119 L2167 2116 L2160.7 2116 L2160.7 2112.7 L2154.4 2112.7 L2154.4 2129.1 L2146.9 2129.1 L2146.9 2132.9 L2135.5 2132.9 L2135.5 2142.9 L2129.2 2142.9 L2129.2 2153 L2126.7 2153 L2126.7 2142.9 L2122.4 2142.9 L2122.4 2189 L2107.3 2189 L2107.3 2205.9 L2100.8 2205.9 L2100.8 2161.8 L2094.5 2161.8 L2094.5 2142.9 L2087.7 2142.9 L2087.7 2119 L2083.9 2119 L2083.9 2139.2 L2075.1 2139.2 L2075.1 2142.9 L2068.8 2142.9 L2068.8 2148 L2060 2148 L2060.1 2136.1 L2056.3 2136.1 L2056.3 2132.9 L2049.5 2132.9 L2049.5 2095.8 L2045.7 2095.8 L2045.7 2099.4 L2039.4 2099.4 L2039.4 2119 L2030.6 2119 L2030.6 2092.6 L2026.8 2092.6 L2026.8 2132.9 L2018 2132.9 L2018 2126.1 L2011 2126.1 L2011 2116 L2007.2 2116 L2007.2 2126.1 L2000.9 2126.1 L2000.9 2139.2 L1987.8 2139.2 L1987.8 2156.3 L1979 2156.3 L1979 2159.8 L1972.7 2159.8 L1972.7 2163.1 L1960.1 2163.1 L1960.1 2156.3 L1953.8 2156.3 L1953.8 2109.4 L1949.5 2109.4 L1949.5 2129.1 L1943.2 2129.1 L1943.2 2142.9 L1937.4 2142.9 L1937.4 2156.3 L1928.6 2156.3 L1928.6 2142.9 L1921.8 2142.9 L1921.8 2099.4 L1917.3 2099.4 L1917.3 2102.6 L1911 2102.6 L1911 2105.9 L1898.4 2105.9 L1898.4 2122.8 L1889.1 2122.8 L1889.1 2099.4 L1885.8 2099.4 L1885.8 2109.4 L1872.7 2109.4 L1872.7 2112.7 L1863.7 2112.7 L1863.7 2102.6 L1851.8 2102.6 L1851.8 2109.4 L1840.5 2109.4 L1840.5 2122.8 L1831.2 2122.8 L1831.2 2105.9 L1824.9 2105.9 L1824.9 2089.3 L1821.1 2089.3 L1821.1 2092.6 L1815.3 2092.6 L1815.3 2099.4 L1806.5 2099.4 L1806.5 2095.8 L1799 2095.8 L1799 2089.3 L1793.4 2089.3 L1793.4 2082.5 L1789.4 2082.5 L1789.4 2092.6 L1776.3 2092.6 L1776.3 2099.4 L1770 2099.4 L1770 2102.6 L1761.2 2102.6 L1761.2 2095.8 L1754.9 2095.8 L1754.9 2092.6 L1748.6 2092.6 L1748.6 2079.2 L1744.1 2079.2 L1744.1 2089.3 L1736 2089.3 L1736 2085.8 L1724.7 2085.8 L1724.7 2079.2 L1718.4 2079.2 L1718.4 2092.6 L1705.8 2092.6 L1705.8 2102.6 L1697 2102.6 L1697 2099.4 L1684.4 2099.4 L1684.4 2089.3 L1678.1 2089.3 L1678.1 2082.5 L1671.8 2082.5 L1671.8 2075.7 L1667.5 2075.7 L1667.5 2089.3 L1661.8 2089.3 L1661.8 2095.8 L1655 2095.8 L1655 2102.6 L1649.2 2102.6 L1649.2 2105.9 L1633.3 2105.9 L1633.3 2089.3 L1629 2089.3 L1629 2099.4 L1620.2 2099.4 L1620.2 2092.6 L1613.9 2092.6 L1613.9 2079.2 L1609.6 2079.2 L1609.6 2088.8 L1602.6 2088.8 L1602.6 2105.9 L1596.3 2105.9 L1596.3 2119 L1590 2119 L1590.1 2119 L1580.7 2119 L1580.7 2109.4 L1575.7 2109.4 L1575.7 2072.4 L1570.7 2072.4 L1570.7 2069.2 L1564.4 2069.2 L1564.4 2072.4 L1551.8 2072.4 L1551.8 2075.7 L1532.9 2075.7 L1532.9 2079.2 L1525.4 2079.2 L1525.4 2075.7 L1517.8 2075.7 L1517.8 2072.4 L1507.7 2072.4 L1507.7 2075.7 L1491.9 2075.7 L1491.9 2069.2 L1487.6 2069.2 L1487.6 2082.5 L1475 2082.5 L1475 2092.6 L1465.4 2092.6 L1465.4 2082.5 L1459.9 2082.5 L1459.9 2062.4 L1455.6 2062.4 L1455.6 2072.4 L1449.3 2072.4 L1449.3 2079.2 L1440.3 2079.2 L1440.3 2069.2 L1436 2069.2 L1436 2085.8 L1420.9 2085.8 L1420.9 2082.5 L1414.6 2082.5 L1414.6 2072.4 L1404.5 2072.4 L1404.5 2079.2 L1395.7 2079.2 L1395.7 2082.5 L1389.4 2082.5 L1389.4 2072.4 L1385.6 2072.4 L1385.6 2085.8 L1379.3 2085.8 L1379.3 2095.8 L1369.3 2095.8 L1369.3 2085.8 L1350.4 2085.8 L1350.4 2075.7 L1346.6 2075.7 L1346.6 2079.2 L1339 2079.2 L1339 2085.8 L1331.5 2085.8 L1331.5 2079.2 L1321.4 2079.2 L1321.4 2090.8 L1312.1 2090.8 L1312.1 2092.6 L1306.3 2092.6 L1306.3 2082.5 L1298.8 2082.5 L1298.8 2075.7 L1295 2075.7 L1295 2089.3 L1289.2 2089.3 L1289.2 2112.7 L1279.9 2112.7 L1279.9 2092.6 L1269.8 2092.6 L1269.8 2109.4 L1263.5 2109.4 L1263.5 2122.8 L1254.7 2122.8 L1254.7 2112.7 L1244.6 2112.7 L1244.6 2122.8 L1235.8 2122.8 L1235.8 2116.5 L1228.3 2116.5 L1228.3 2102.6 L1224.5 2102.6 L1224.5 2129.1 L1215.7 2129.1 L1215.7 2122.8 L1203.1 2122.8 L1203.1 2119 L1193 2119 L1193 2139.2 L1184.2 2139.2 L1184.2 2122.8 L1177.4 2122.8 L1177.4 2092.6 L1173.6 2092.6 L1173.6 2105.9 L1166.6 2105.9 L1166.6 2116 L1157.8 2116 L1157.8 2119 L1147.7 2119 L1147.7 2129.1 L1138.9 2129.1 L1138.9 2124 L1132.6 2124 L1132.6 2122.8 L1120 2122.8 L1120.1 2126.1 L1100.7 2126.1 L1100.7 2112.7 L1093.1 2112.7 L1093.1 2102.6 L1083.1 2102.6 L1083.1 2096.3 L1080.5 2096.3 L1080.5 2095.1 L1064.2 2095.1 L1064.2 2092.6 L1057.9 2092.6 L1057.9 2106.4 L1049.1 2106.4 L1049.1 2098.9 L1045.3 2098.9 L1045.3 2122.8 L1030.2 2122.8 L1030.2 2108.9 L1023.9 2108.9 L1023.9 2102.6 L1020.1 2102.6 L1020.1 2112.7 L1012.6 2112.7 L1012.6 2108.9 L1007.5 2108.9 L1007.5 2112.7 L992.4 2112.7 L992.4 2108.9 L987.4 2108.9 L987.4 2122.8 L974.8 2122.8 L974.8 2126.1 L959.7 2126.1 L959.7 2119 L955.2 2119 L955.2 2126.1 L948.9 2126.1 L948.9 2144.2 L939.5 2144.2 L939.5 2141.7 L934.5 2141.7 L934.5 2129.1 L930 2129.1 L930 2159.3 L923.7 2159.3 L923.7 2168.9 L914.4 2168.9 L914.4 2156.8 L908.1 2156.8 L908.1 2112.7 L904.3 2112.7 L904.3 2129.1 L895.5 2129.1 L895.5 2126.1 L891.7 2126.1 L891.7 2129.1 L885.4 2129.1 L885.4 2132.9 L876.1 2132.9 L876.1 2108.9 L872.3 2108.9 L872.3 2161.8 L866 2161.8 L866 2185.7 L843.9 2185.7 L843.9 2130.3 L840.1 2130.3 L840.1 2154.3 L826.2 2154.3 L826.2 2156.8 L814.9 2156.8 L814.9 2168.9 L806.1 2168.9 L806.1 2154.3 L788.5 2154.3 L788.5 2165.6 L782.7 2165.6 L782.7 2178.2 L773.4 2178.2 L773.4 2154.3 L769.6 2154.3 L769.6 2165.6 L760.8 2165.6 L760.8 2156.8 L757 2156.8 L757 2185.7 L748.2 2185.7 L748.2 2178.2 L741.9 2178.2 L741.9 2166.8 L738.1 2166.8 L738.1 2175.7 L731.1 2175.7 L731.1 2185.7 L721.8 2185.7 L721.8 2178.2 L715.5 2178.2 L715.5 2166.8 L705.9 2166.8 L705.9 2175.7 L696.6 2175.7 L696.6 2166.8 L690.3 2166.8 L690.3 2139.2 L680.2 2139.2 L680.2 2141.7 L673.9 2141.7 L673.9 2148 L666.4 2148 L666.4 2151.7 L661.3 2151.7 L661.3 2165.6 L650 2165.6 L650.1 2156.8 L640.7 2156.8 L640.7 2176.9 L623.1 2176.9 L623.1 2156.8 L608 2156.8 L608 2150.5 L589.1 2150.5 L589.1 2131.6 L577.8 2131.6 L577.8 2150.5 L569 2150.5 L569 2151.7 L551.4 2151.7 L551.4 2164.3 L542.6 2164.3 L542.6 2173.1 L533.7 2173.1 L533.7 2158 L527.4 2158 L527.4 2139.2 L514.9 2139.2 L514.9 2180.7 L507.3 2180.7 L507.3 2195.8 L498.5 2195.8 L498.5 2187 L493.5 2187 L493.5 2208.4 L484.6 2208.4 L484.6 2185.7 L474.6 2185.7 L474.6 2218.5 L446.9 2218.5 L446.9 2195.8 L440.6 2195.8 L440.6 2188.2 L434.3 2188.2 L434.3 2178.2 L429.3 2178.2 L429.3 2156.8 L416.7 2156.8 L416.7 2150.5 L405.3 2150.5 L405.3 2153 L391.5 2153 L391.5 2159.3 L378.9 2159.3 L378.9 2160.6 L366.3 2160.6 L366.3 2182 L359.3 2182 L359.3 2202.1 L353.2 2202.1 L353.2 2226 L343.7 2226 L343.7 2194.5 L337.4 2194.5 L337.4 2164.3 L329.8 2164.3 L329.8 2139.2 L317.2 2139.2 L317.2 2153 L308.4 2153 L308.4 2156.8 L299.6 2156.8 L299.6 2158 L294.6 2158 L294.6 2153 L279.5 2153 L279.5 2159.3 L266.9 2159.3 L266.9 2154.3 L250.5 2154.3 L250.5 2156.8 L239.2 2156.8 L239.2 2153 L232.9 2153 L232.9 2156.8 L224.1 2156.8 L224.1 2166.8 L217.8 2166.8 L217.8 2208.4 L210.2 2208.4 L210.2 2198.3 L203.9 2198.3 L203.9 2178.2 L198.9 2178.2 L198.9 2179.4 L192.6 2179.4 L192.6 2165.6 L185.5 2165.6Z" fill="#EEB422"/>
<path d="M182 2066.1 L193.8 2066.1 L193.8 2058.6 L200.1 2058.6 L200.1 2068.7 L206.4 2068.7 L206.4 2064.9 L214 2064.9 L214 2062.4 L220.3 2062.4 L220.3 2064.9 L226.6 2064.9 L226.6 2038.4 L232.9 2038.4 L232.9 2032.1 L245.5 2032.1 L245.5 2046 L251.8 2046 L251.8 2058.6 L258.1 2058.6 L258.1 2051 L265.6 2051 L265.6 2049 L271.9 2049 L271.9 2052.3 L278.2 2052.3 L278.2 2068.2 L284.5 2068.2 L284.5 2055.6 L290.8 2055.6 L290.8 2052.3 L303.4 2052.3 L303.4 2072.4 L316 2072.4 L316 2068.7 L322.3 2068.7 L322.3 2071.7 L334.8 2071.7 L334.8 2068.7 L341.1 2068.7 L341.1 2071.7 L347.4 2071.7 L347.4 2064.9 L355 2064.9 L355 2055.6 L361.3 2055.6 L361.3 2064.9 L367.6 2064.9 L367.6 2062.4 L380.2 2062.4 L380.2 2052.3 L386.5 2052.3 L386.5 2062.4 L392.7 2062.4 L392.7 2049 L399 2049 L399 2055.6 L405.3 2055.6 L405.3 2045.5 L411.6 2045.5 L411.6 2048.5 L419.2 2048.5 L419.2 2058.1 L425.5 2058.1 L425.5 2046 L431.8 2046 L431.8 2038.4 L438.1 2038.4 L438.1 2042.2 L444.4 2042.2 L444.4 2058.1 L450.7 2058.1 L450.7 2052.3 L463.2 2052.3 L463.2 2049 L470.8 2049 L470.8 2025.9 L477.1 2025.9 L477.1 2049 L483.4 2049 L483.4 2042.2 L489.7 2042.2 L489.7 2051 L502.3 2051 L502.3 2058.1 L508.6 2058.1 L508.6 2055.6 L514.9 2055.6 L514.9 2042.2 L521.2 2042.2 L521.2 2056.1 L527.4 2056.1 L527.4 2055.6 L533.7 2055.6 L533.7 2049 L546.3 2049 L546.3 2051 L552.6 2051 L552.6 2055.6 L565.2 2055.6 L565.2 2042.2 L572.8 2042.2 L572.8 2045.5 L579.1 2045.5 L579.1 2048.5 L585.4 2048.5 L585.4 2055.6 L591.7 2055.6 L591.7 2064.9 L597.9 2064.9 L597.9 2062.4 L604.2 2062.4 L604.2 2055.6 L618.1 2055.6 L618.1 2044.7 L630.7 2044.7 L630.7 2028.4 L637 2028.4 L637 2044.7 L643.3 2044.7 L643.3 2042.2 L650.1 2042.2 L650 2035.4 L657.6 2035.4 L657.6 2028.4 L662.1 2028.4 L662.1 2025.3 L675.2 2025.3 L675.2 2042.2 L681.5 2042.2 L681.5 2035.4 L687.8 2035.4 L687.8 2032.1 L701.6 2032.1 L701.6 2045.5 L720.5 2045.5 L720.5 2048.5 L726.8 2048.5 L726.8 2051.5 L733.1 2051.5 L733.1 2032.1 L739.4 2032.1 L739.4 2035.4 L745.7 2035.4 L745.7 2038.4 L758.8 2038.4 L758.8 2028.4 L765.3 2028.4 L765.3 2022.1 L771.6 2022.1 L771.6 2032.1 L778.4 2032.1 L778.4 2042.2 L784.7 2042.2 L784.7 2025.3 L791 2025.3 L791 2038.4 L797.3 2038.4 L797.3 2035.4 L803.6 2035.4 L803.6 2022.1 L823.7 2022.1 L823.7 2025.3 L830 2025.3 L830 2028.4 L836.3 2028.4 L836.3 2035.4 L842.6 2035.4 L842.6 2025.3 L848.9 2025.3 L848.9 2018.3 L855.2 2018.3 L855.2 2028.4 L861.5 2028.4 L861.5 2018.8 L874.1 2018.8 L874.1 2022.1 L880.4 2022.1 L880.4 2015.3 L887.9 2015.3 L887.9 2018.8 L893 2018.8 L893 2008.7 L899.3 2008.7 L899.3 2005.7 L905.6 2005.7 L905.6 2008.7 L911.8 2008.7 L911.8 2012 L924.4 2012 L924.4 2001.9 L932 2001.9 L932 2005.2 L944.6 2005.2 L944.6 2001.9 L950.9 2001.9 L950.9 2012 L957.2 2012 L957.2 2018.3 L963.5 2018.3 L963.5 2012 L977.3 2012 L977.3 2005.2 L983.6 2005.2 L983.6 1998.7 L989.9 1998.7 L989.9 1995.1 L996.2 1995.1 L996.2 1988.6 L1008.8 1988.6 L1008.8 1995.1 L1015.1 1995.1 L1015.1 2005.2 L1021.9 2005.2 L1021.9 1981.8 L1027.7 1981.8 L1027.7 1978.5 L1034.5 1978.5 L1034.5 1998.7 L1040.3 1998.7 L1040.3 1995.1 L1047.3 1995.1 L1047.3 1998.7 L1066.7 1998.7 L1066.7 2001.9 L1073 2001.9 L1073 1988.6 L1079.3 1988.6 L1079.3 1991.9 L1093.1 1991.9 L1093.1 1985.1 L1099.4 1985.1 L1099.4 1981.8 L1105.7 1981.8 L1105.7 1988.6 L1112 1988.6 L1112 1998.7 L1118.3 1998.7 L1118.3 2001.9 L1120.1 2001.9 L1120 2001.9 L1125 2001.9 L1125 1985.1 L1131.3 1985.1 L1131.3 1978 L1137.6 1978 L1137.6 1975 L1143.9 1975 L1143.9 1971.7 L1150.2 1971.7 L1150.2 1964.9 L1156.5 1964.9 L1156.5 1981.8 L1169.1 1981.8 L1169.1 1978.5 L1175.4 1978.5 L1175.4 1971.7 L1214.4 1971.7 L1214.4 1981.8 L1227 1981.8 L1227 1975 L1233.3 1975 L1233.3 1978.5 L1239.6 1978.5 L1239.6 1975 L1245.9 1975 L1245.9 1964.9 L1252.2 1964.9 L1252.2 1975 L1259 1975 L1259 1968.4 L1265.3 1968.4 L1265.3 1961.6 L1271.6 1961.6 L1271.6 1954.9 L1278.1 1954.9 L1278.1 1948.3 L1291.2 1948.3 L1291.2 1961.6 L1297.5 1961.6 L1297.5 1958.4 L1310.1 1958.4 L1310.1 1938.2 L1316.4 1938.2 L1316.4 1944.8 L1323.2 1944.8 L1323.2 1958.4 L1329.5 1958.4 L1329.5 1941.5 L1335.8 1941.5 L1335.8 1951.6 L1348.4 1951.6 L1348.4 1954.9 L1354.9 1954.9 L1354.9 1964.9 L1361.2 1964.9 L1361.2 1958.4 L1368 1958.4 L1368 1948.3 L1374.3 1948.3 L1374.3 1954.9 L1381.1 1954.9 L1381.1 1948.3 L1387.4 1948.3 L1387.4 1954.9 L1393.9 1954.9 L1393.9 1961.6 L1400.2 1961.6 L1400.2 1968.4 L1412.8 1968.4 L1412.8 1961.6 L1419.1 1961.6 L1419.1 1948.3 L1425.4 1948.3 L1425.4 1958.4 L1432.2 1958.4 L1432.2 1964.9 L1438.5 1964.9 L1438.5 1931.4 L1445.3 1931.4 L1445.3 1961.6 L1451.6 1961.6 L1451.6 1958.4 L1457.9 1958.4 L1457.9 1951.6 L1464.4 1951.6 L1464.4 1961.6 L1470.7 1961.6 L1470.7 1964.9 L1483.8 1964.9 L1483.8 1961.6 L1490.1 1961.6 L1490.1 1951.6 L1496.4 1951.6 L1496.4 1968.4 L1509 1968.4 L1509 1951.6 L1515.8 1951.6 L1515.8 1961.6 L1522.1 1961.6 L1522.1 1948.3 L1528.4 1948.3 L1528.4 1954.9 L1541.7 1954.9 L1541.7 1944.8 L1548 1944.8 L1548 1958.4 L1573.2 1958.4 L1573.2 1968.4 L1579.5 1968.4 L1579.5 1964.9 L1585.8 1964.9 L1585.8 1961.6 L1590.1 1961.6 L1590 1961.6 L1593.8 1961.6 L1593.8 1971.7 L1599.3 1971.7 L1599.3 1978.5 L1605.6 1978.5 L1605.6 1975 L1611.9 1975 L1611.9 1964.9 L1618.2 1964.9 L1618.2 1971.7 L1624.5 1971.7 L1624.5 1964.9 L1630.8 1964.9 L1630.8 1961.6 L1637.1 1961.6 L1637.1 1958.4 L1643.6 1958.4 L1643.6 1948.3 L1650.4 1948.3 L1650.4 1961.6 L1656.7 1961.6 L1656.7 1964.9 L1663 1964.9 L1663 1958.4 L1676.1 1958.4 L1676.1 1968.4 L1682.4 1968.4 L1682.4 1975 L1688.7 1975 L1688.7 1971.7 L1701.5 1971.7 L1701.5 1975 L1707.8 1975 L1707.8 1961.6 L1720.9 1961.6 L1720.9 1968.4 L1727.2 1968.4 L1727.2 1971.7 L1733.5 1971.7 L1733.5 1964.9 L1739.8 1964.9 L1739.8 1958.4 L1746.6 1958.4 L1746.6 1968.4 L1766.2 1968.4 L1766.2 1964.9 L1772.5 1964.9 L1772.5 1961.6 L1778.8 1961.6 L1778.8 1958.4 L1785.1 1958.4 L1785.1 1964.9 L1791.4 1964.9 L1791.4 1978.5 L1797.7 1978.5 L1797.7 1975 L1804 1975 L1804 1971.7 L1810.8 1971.7 L1810.8 1968.4 L1817.1 1968.4 L1817.1 1975 L1823.4 1975 L1823.4 1971.7 L1829.7 1971.7 L1829.7 1964.9 L1836.2 1964.9 L1836.2 1971.7 L1849.3 1971.7 L1849.3 1981.8 L1855.6 1981.8 L1855.6 1988.6 L1861.9 1988.6 L1861.9 1978.5 L1868.2 1978.5 L1868.2 1981.8 L1874.5 1981.8 L1874.5 1991.9 L1881.3 1991.9 L1881.3 1988.6 L1887.6 1988.6 L1887.6 1981.8 L1900.2 1981.8 L1900.2 1995.1 L1906.7 1995.1 L1906.7 1988.6 L1913 1988.6 L1913 1985.1 L1919.8 1985.1 L1919.8 1988.6 L1938.7 1988.6 L1938.7 1991.9 L1951.8 1991.9 L1951.8 1995.1 L1964.6 1995.1 L1964.6 1998.7 L1970.9 1998.7 L1970.9 1991.9 L1977.7 1991.9 L1977.7 2001.9 L1984 2001.9 L1984 1991.9 L1990.3 1991.9 L1990.3 1981.8 L1996.6 1981.8 L1996.6 1988.6 L2002.9 1988.6 L2002.9 2001.9 L2009.2 2001.9 L2009.2 2005.2 L2021.8 2005.2 L2021.8 1995.1 L2034.9 1995.1 L2034.9 2005.2 L2047.7 2005.2 L2047.7 2001.9 L2054 2001.9 L2054 1998.7 L2060.1 1998.7 L2060 1998.7 L2061.3 1998.7 L2061.3 2005.2 L2067.6 2005.2 L2067.6 2015.3 L2073.8 2015.3 L2073.8 2022.1 L2086.4 2022.1 L2086.4 2025.3 L2092.7 2025.3 L2092.7 2015.3 L2099 2015.3 L2099 2012 L2105.3 2012 L2105.3 2008.7 L2111.6 2008.7 L2111.6 2012 L2118.4 2012 L2118.4 2022.1 L2125 2022.1 L2125 2028.4 L2131.3 2028.4 L2131.3 2018.8 L2156.9 2018.8 L2156.9 2022.1 L2169.5 2022.1 L2169.5 2032.1 L2182.6 2032.1 L2182.6 2025.3 L2188.9 2025.3 L2188.9 2042.2 L2195.2 2042.2 L2195.2 2032.1 L2201.5 2032.1 L2201.5 2025.3 L2208 2025.3 L2208 2032.1 L2227.4 2032.1 L2227.4 2018.8 L2233.7 2018.8 L2233.7 2028.4 L2240 2028.4 L2240 2032.1 L2246.3 2032.1 L2246.3 2025.3 L2253.1 2025.3 L2253.1 2032.1 L2259.4 2032.1 L2259.4 2018.8 L2265.7 2018.8 L2265.7 2048.5 L2272 2048.5 L2272 2045.5 L2278.3 2045.5 L2278.3 2025.3 L2284.8 2025.3 L2284.8 2032.1 L2291.1 2032.1 L2291.1 2018.8 L2297.4 2018.8 L2297.4 2025.3 L2303.7 2025.3 L2303.7 2042.2 L2310.5 2042.2 L2310.5 2038.9 L2316.8 2038.9 L2316.8 2052.3 L2323.1 2052.3 L2323.1 2032.1 L2329.9 2032.1 L2329.9 2048.5 L2336.2 2048.5 L2336.2 2062.4 L2342.5 2062.4 L2342.5 2055.6 L2348.8 2055.6 L2348.8 2058.6 L2355.1 2058.6 L2355.1 2032.1 L2361.6 2032.1 L2361.6 2062.4 L2367.9 2062.4 L2367.9 2048.5 L2374.7 2048.5 L2374.7 2052.3 L2381 2052.3 L2381 2055.6 L2387.3 2055.6 L2387.3 2052.3 L2393.6 2052.3 L2393.6 2042.2 L2399.9 2042.2 L2399.9 2058.6 L2406.7 2058.6 L2406.7 2042.2 L2413 2042.2 L2413 2072.4 L2419.3 2072.4 L2419.3 2075.7 L2425.6 2075.7 L2425.6 2072.4 L2432.1 2072.4 L2432.1 2065.6 L2445.2 2065.6 L2445.2 2062.4 L2451.5 2062.4 L2451.5 2055.6 L2457.8 2055.6 L2457.8 2068.7 L2470.4 2068.7 L2470.4 2058.6 L2476.7 2058.6 L2476.7 2062.4 L2483.5 2062.4 L2483.5 2065.6 L2489.8 2065.6 L2489.8 2072.4 L2496.3 2072.4 L2496.3 2052.3 L2503.1 2052.3 L2503.1 2055.6 L2509.4 2055.6 L2509.4 2038.9 L2513.2 2038.9" fill="none" stroke="#FF0000" stroke-width="1.2" stroke-opacity="0.75"/>
<path d="M182 2282.7 L188.8 2282.7 L188.8 2237.3 L195.1 2237.3 L195.1 2252.4 L207.7 2252.4 L207.7 2229.8 L214 2229.8 L214 2232.3 L220.3 2232.3 L220.3 2236.1 L226.6 2236.1 L226.6 2246.2 L232.9 2246.2 L232.9 2229.8 L239.2 2229.8 L239.2 2212.7 L246 2212.7 L246 2248.7 L252.3 2248.7 L252.3 2258.7 L258.6 2258.7 L258.6 2262 L265.6 2262 L265.6 2268.8 L271.9 2268.8 L271.9 2252.4 L278.2 2252.4 L278.2 2229.8 L284.5 2229.8 L284.5 2242.4 L290.8 2242.4 L290.8 2278.9 L297.1 2278.9 L297.1 2242.4 L303.4 2242.4 L303.4 2239.4 L309.7 2239.4 L309.7 2222.7 L316.5 2222.7 L316.5 2239.4 L322.8 2239.4 L322.8 2242.4 L329.1 2242.4 L329.1 2236.1 L336.1 2236.1 L336.1 2232.3 L342.4 2232.3 L342.4 2245.4 L348.7 2245.4 L348.7 2229.8 L361.3 2229.8 L361.3 2245.4 L367.6 2245.4 L367.6 2242.4 L373.9 2242.4 L373.9 2258.7 L380.2 2258.7 L380.2 2242.4 L386.5 2242.4 L386.5 2262 L393.5 2262 L393.5 2252.4 L399.8 2252.4 L399.8 2226 L406.1 2226 L406.1 2232.3 L412.4 2232.3 L412.4 2236.1 L418.7 2236.1 L418.7 2248.7 L425.5 2248.7 L425.5 2222.7 L431.8 2222.7 L431.8 2239.4 L438.1 2239.4 L438.1 2224.8 L444.4 2224.8 L444.4 2234.8 L450.7 2234.8 L450.7 2229.8 L463.8 2229.8 L463.8 2236.1 L470 2236.1 L470 2295.8 L477.1 2295.8 L477.1 2272.6 L483.4 2272.6 L483.4 2236.1 L496 2236.1 L496 2239.4 L508.6 2239.4 L508.6 2229.8 L514.9 2229.8 L514.9 2236.1 L521.2 2236.1 L521.2 2239.4 L527.4 2239.4 L527.4 2242.4 L533.7 2242.4 L533.7 2236.1 L540.5 2236.1 L540.5 2245.4 L547.1 2245.4 L547.1 2251.9 L553.4 2251.9 L553.4 2229.8 L559.7 2229.8 L559.7 2248.7 L566.5 2248.7 L566.5 2236.1 L572.8 2236.1 L572.8 2226 L585.4 2226 L585.4 2219.7 L592.2 2219.7 L592.2 2222.7 L598.5 2222.7 L598.5 2226 L604.7 2226 L604.7 2232.3 L611.3 2232.3 L611.3 2242.4 L618.1 2242.4 L618.1 2212.7 L624.4 2212.7 L624.4 2215.9 L630.7 2215.9 L630.7 2226 L637 2226 L637 2219.2 L643.3 2219.2 L643.3 2229.8 L650.1 2229.8 L650 2248.7 L656.3 2248.7 L656.3 2229.8 L662.6 2229.8 L662.6 2205.9 L668.9 2205.9 L668.9 2232.3 L675.2 2232.3 L675.2 2215.9 L687.8 2215.9 L687.8 2222.7 L694.8 2222.7 L694.8 2209.6 L701.1 2209.6 L701.1 2212.7 L707.4 2212.7 L707.4 2219.2 L714.2 2219.2 L714.2 2205.9 L720.5 2205.9 L720.5 2212.7 L726.8 2212.7 L726.8 2219.2 L733.1 2219.2 L733.1 2199.6 L739.4 2199.6 L739.4 2212.7 L745.7 2212.7 L745.7 2219.2 L752.5 2219.2 L752.5 2242.4 L758.8 2242.4 L758.8 2189.5 L765.3 2189.5 L765.3 2192 L771.6 2192 L771.6 2205.9 L777.9 2205.9 L777.9 2219.2 L784.7 2219.2 L784.7 2192.8 L791 2192.8 L791 2212.7 L797.3 2212.7 L797.3 2202.6 L803.6 2202.6 L803.6 2192.8 L810.4 2192.8 L810.4 2222.2 L816.7 2222.2 L816.7 2212.7 L823.2 2212.7 L823.2 2219.2 L829.5 2219.2 L829.5 2202.6 L835.8 2202.6 L835.8 2212.7 L842.6 2212.7 L842.6 2189.5 L861.5 2189.5 L861.5 2199.6 L867.8 2199.6 L867.8 2192.8 L880.4 2192.8 L880.4 2182.7 L886.7 2182.7 L886.7 2186.5 L893 2186.5 L893 2195.8 L899.8 2195.8 L899.8 2176.2 L906.3 2176.2 L906.3 2192.8 L912.6 2192.8 L912.6 2182.7 L919.4 2182.7 L919.4 2176.2 L925.7 2176.2 L925.7 2212.7 L932 2212.7 L932 2222.2 L938.3 2222.2 L938.3 2189.5 L944.6 2189.5 L944.6 2219.2 L957.7 2219.2 L957.7 2179.4 L969.8 2179.4 L969.8 2176.2 L976.6 2176.2 L976.6 2182.7 L982.8 2182.7 L982.8 2179.4 L996.2 2179.4 L996.2 2169.4 L1002.5 2169.4 L1002.5 2166.1 L1008.8 2166.1 L1008.8 2172.6 L1015.1 2172.6 L1015.1 2176.2 L1021.9 2176.2 L1021.9 2172.6 L1028.2 2172.6 L1028.2 2179.4 L1034.5 2179.4 L1034.5 2159.3 L1040.8 2159.3 L1040.8 2166.1 L1047.3 2166.1 L1047.3 2176.2 L1054.1 2176.2 L1054.1 2156 L1060.4 2156 L1060.4 2159.3 L1073 2159.3 L1073 2166.1 L1079.3 2166.1 L1079.3 2176.2 L1093.1 2176.2 L1093.1 2182.7 L1099.4 2182.7 L1099.4 2169.4 L1105.7 2169.4 L1105.7 2163.1 L1112 2163.1 L1112 2169.4 L1120.1 2169.4 L1120 2172.4 L1125 2172.4 L1125 2162.6 L1131.3 2162.6 L1131.3 2156 L1137.6 2156 L1137.6 2152.5 L1143.9 2152.5 L1143.9 2149.2 L1150.2 2149.2 L1150.2 2162.6 L1156.5 2162.6 L1156.5 2159.3 L1169.1 2159.3 L1169.1 2162.6 L1175.4 2162.6 L1175.4 2168.9 L1182.2 2168.9 L1182.2 2172.4 L1188.5 2172.4 L1188.5 2165.6 L1194.8 2165.6 L1194.8 2172.4 L1201.1 2172.4 L1201.1 2165.6 L1207.4 2165.6 L1207.4 2172.4 L1213.9 2172.4 L1213.9 2149.2 L1220.7 2149.2 L1220.7 2142.4 L1227 2142.4 L1227 2145.9 L1233.3 2145.9 L1233.3 2139.2 L1239.6 2139.2 L1239.6 2149.2 L1245.9 2149.2 L1245.9 2152.5 L1252.7 2152.5 L1252.7 2159.3 L1259 2159.3 L1259 2162.6 L1271.6 2162.6 L1271.6 2142.4 L1278.1 2142.4 L1278.1 2139.2 L1291.2 2139.2 L1291.2 2135.9 L1303.8 2135.9 L1303.8 2139.2 L1316.4 2139.2 L1316.4 2129.1 L1323.2 2129.1 L1323.2 2125.8 L1335.8 2125.8 L1335.8 2122.3 L1342.1 2122.3 L1342.1 2125.8 L1348.4 2125.8 L1348.4 2132.4 L1354.9 2132.4 L1354.9 2139.2 L1361.2 2139.2 L1361.2 2129.1 L1368 2129.1 L1368 2119 L1381.1 2119 L1381.1 2135.9 L1387.4 2135.9 L1387.4 2115.7 L1400.2 2115.7 L1400.2 2112.2 L1412.8 2112.2 L1412.8 2108.9 L1425.4 2108.9 L1425.4 2119 L1438.5 2119 L1438.5 2112.2 L1445.3 2112.2 L1445.3 2108.9 L1451.6 2108.9 L1451.6 2115.7 L1464.4 2115.7 L1464.4 2108.9 L1470.7 2108.9 L1470.7 2112.2 L1477 2112.2 L1477 2102.1 L1483.3 2102.1 L1483.3 2122.3 L1489.6 2122.3 L1489.6 2125.8 L1496.4 2125.8 L1496.4 2108.9 L1515.8 2108.9 L1515.8 2115.7 L1522.1 2115.7 L1522.1 2105.7 L1528.4 2105.7 L1528.4 2102.1 L1541.7 2102.1 L1541.7 2112.2 L1548 2112.2 L1548 2098.9 L1554.3 2098.9 L1554.3 2112.2 L1560.6 2112.2 L1560.6 2119 L1566.9 2119 L1566.9 2122.3 L1573.2 2122.3 L1573.2 2119 L1579.5 2119 L1579.5 2108.9 L1585.8 2108.9 L1585.8 2119 L1590.1 2119 L1590 2122.3 L1599.3 2122.3 L1599.3 2115.7 L1605.6 2115.7 L1605.6 2108.9 L1611.9 2108.9 L1611.9 2119 L1618.2 2119 L1618.2 2129.1 L1624.5 2129.1 L1624.5 2115.7 L1630.8 2115.7 L1630.8 2105.7 L1637.1 2105.7 L1637.1 2112.2 L1650.4 2112.2 L1650.4 2119 L1656.7 2119 L1656.7 2115.7 L1663 2115.7 L1663 2105.7 L1676.1 2105.7 L1676.1 2119 L1688.7 2119 L1688.7 2122.3 L1695 2122.3 L1695 2112.2 L1701.5 2112.2 L1701.5 2122.3 L1720.9 2122.3 L1720.9 2119 L1727.2 2119 L1727.2 2115.7 L1733.5 2115.7 L1733.5 2112.2 L1739.8 2112.2 L1739.8 2119 L1746.6 2119 L1746.6 2125.8 L1765.7 2125.8 L1765.7 2132.4 L1772 2132.4 L1772 2139.2 L1778.3 2139.2 L1778.3 2142.4 L1785.1 2142.4 L1785.1 2122.3 L1791.4 2122.3 L1791.4 2145.9 L1797.7 2145.9 L1797.7 2135.9 L1804 2135.9 L1804 2142.4 L1810.8 2142.4 L1810.8 2132.4 L1817.1 2132.4 L1817.1 2155.5 L1823.4 2155.5 L1823.4 2152.5 L1836.2 2152.5 L1836.2 2142.4 L1842.5 2142.4 L1842.5 2129.1 L1849.3 2129.1 L1849.3 2132.4 L1855.6 2132.4 L1855.6 2145.9 L1861.9 2145.9 L1861.9 2152.5 L1868.2 2152.5 L1868.2 2155.5 L1874.5 2155.5 L1874.5 2135.9 L1881.3 2135.9 L1881.3 2139.2 L1887.6 2139.2 L1887.6 2142.4 L1893.9 2142.4 L1893.9 2162.3 L1900.2 2162.3 L1900.2 2145.9 L1906.7 2145.9 L1906.7 2139.2 L1913 2139.2 L1913 2152.5 L1919.8 2152.5 L1919.8 2155.5 L1926.1 2155.5 L1926.1 2149.2 L1932.4 2149.2 L1932.4 2152.5 L1938.7 2152.5 L1938.7 2182.5 L1945 2182.5 L1945 2175.7 L1951.8 2175.7 L1951.8 2162.3 L1958.1 2162.3 L1958.1 2165.6 L1970.9 2165.6 L1970.9 2172.4 L1977.7 2172.4 L1977.7 2165.6 L1984 2165.6 L1984 2178.9 L1990.3 2178.9 L1990.3 2175.7 L1996.6 2175.7 L1996.6 2165.6 L2002.9 2165.6 L2002.9 2178.9 L2009.2 2178.9 L2009.2 2195.8 L2015.5 2195.8 L2015.5 2182.5 L2021.8 2182.5 L2021.8 2172.4 L2034.9 2172.4 L2034.9 2202.6 L2041.4 2202.6 L2041.4 2175.7 L2060.1 2175.7 L2060 2172.4 L2066.3 2172.4 L2066.3 2185.7 L2072.6 2185.7 L2072.6 2178.9 L2079.4 2178.9 L2079.4 2192.5 L2085.7 2192.5 L2085.7 2182.5 L2092.2 2182.5 L2092.2 2205.9 L2099 2205.9 L2099 2192.5 L2117.9 2192.5 L2117.9 2209.1 L2124.7 2209.1 L2124.7 2195.8 L2131.3 2195.8 L2131.3 2192.5 L2137.5 2192.5 L2137.5 2199.1 L2143.8 2199.1 L2143.8 2189 L2150.6 2189 L2150.6 2182.5 L2156.9 2182.5 L2156.9 2189 L2163.2 2189 L2163.2 2195.8 L2169.5 2195.8 L2169.5 2192.5 L2188.9 2192.5 L2188.9 2205.9 L2195.2 2205.9 L2195.2 2229.3 L2208 2229.3 L2208 2239.4 L2214.3 2239.4 L2214.3 2242.4 L2220.6 2242.4 L2220.6 2205.9 L2227.4 2205.9 L2227.4 2226 L2233.7 2226 L2233.7 2242.4 L2240 2242.4 L2240 2239.4 L2246.3 2239.4 L2246.3 2212.7 L2253.1 2212.7 L2253.1 2226 L2259.4 2226 L2259.4 2239.4 L2265.7 2239.4 L2265.7 2202.6 L2272 2202.6 L2272 2205.9 L2278.3 2205.9 L2278.3 2229.3 L2291.1 2229.3 L2291.1 2232.3 L2297.4 2232.3 L2297.4 2226 L2303.7 2226 L2303.7 2236.1 L2310.5 2236.1 L2310.5 2232.8 L2316.8 2232.8 L2316.8 2242.4 L2323.1 2242.4 L2323.1 2229.3 L2329.9 2229.3 L2329.9 2215.9 L2336.2 2215.9 L2336.2 2252.4 L2342.5 2252.4 L2342.5 2236.1 L2348.8 2236.1 L2348.8 2215.9 L2355.1 2215.9 L2355.1 2252.4 L2361.6 2252.4 L2361.6 2242.4 L2367.9 2242.4 L2367.9 2215.9 L2374.7 2215.9 L2374.7 2226 L2381 2226 L2381 2249.4 L2387.3 2249.4 L2387.3 2226 L2393.6 2226 L2393.6 2215.9 L2399.9 2215.9 L2399.9 2226 L2406.7 2226 L2406.7 2249.4 L2413 2249.4 L2413 2239.4 L2419.3 2239.4 L2419.3 2236.1 L2425.6 2236.1 L2425.6 2239.4 L2432.1 2239.4 L2432.1 2236.1 L2438.9 2236.1 L2438.9 2239.4 L2445.2 2239.4 L2445.2 2236.1 L2451.5 2236.1 L2451.5 2222.7 L2457.8 2222.7 L2457.8 2239.4 L2464.1 2239.4 L2464.1 2302.8 L2470.4 2302.8 L2470.4 2296.5 L2476.7 2296.5 L2476.7 2259.5 L2489.8 2259.5 L2489.8 2246.2 L2496.3 2246.2 L2496.3 2259.5 L2513.2 2259.5" fill="none" stroke="#0000FF" stroke-width="1.2" stroke-opacity="0.75"/>
<line x1="182" y1="2149" x2="2515.4" y2="2149" stroke="#104E8B" stroke-width="4.4" stroke-dasharray="17.79 17.79" stroke-dashoffset="1.4"/>
<text x="228.6" y="2184.5" font-size="35.0" text-anchor="start" fill="#104E8B" >Freeze Days: 155 (Avg:157)</text>
<path d="M185.5 2121.5 L200.1 2110.2 L212.7 2111.5 L226.6 2101.4 L245.5 2112.7 L258.1 2108.9 L283.2 2114.5 L290.8 2109.4 L300.9 2111.5 L310.9 2117.7 L331.1 2110.2 L336.1 2106.4 L343.7 2114 L356.2 2107.7 L361.3 2112.7 L367.6 2105.9 L378.9 2111 L394 2105.2 L411.6 2100.1 L426.7 2105.2 L436.8 2103.9 L444.4 2109.4 L457 2102.6 L464.5 2105.9 L477.1 2098.9 L487.2 2101.4 L499.8 2110.2 L508.6 2103.9 L517.4 2107.7 L527.4 2106.4 L537.5 2103.9 L547.6 2103.9 L553.9 2108.9 L560.2 2092.6 L566.5 2103.9 L582.8 2095.1 L590.4 2097.6 L596.7 2093.8 L604.2 2097.6 L615.6 2088.8 L624.4 2085 L633.2 2087.5 L643.3 2083.3 L650.1 2086.3 L662.6 2082.5 L670.1 2083.8 L681.5 2082 L687.8 2077 L699.1 2081.2 L707.9 2087.5 L714.2 2080.7 L719.2 2081.2 L733.1 2090.8 L744.4 2087.5 L758.3 2078.2 L765.8 2084.3 L771.4 2085.8 L778.4 2078.7 L784.7 2077.5 L793.5 2078.7 L803.6 2071.2 L809.9 2071.2 L817.4 2078.7 L826.2 2077.5 L836.3 2073.7 L842.6 2069.2 L855.2 2072.4 L864 2069.9 L877.9 2067.4 L894.2 2058.6 L911.8 2063.6 L918.1 2063.1 L927 2057.3 L934.5 2056.1 L945.8 2059.8 L963.5 2057.3 L971 2048.5 L976 2044 L983.6 2048.5 L994.9 2049.8 L1002.5 2047.3 L1015.1 2048.5 L1032.7 2039.7 L1046.5 2037.2 L1055.4 2039.7 L1073 2037.9 L1079.3 2034.7 L1089.3 2037.2 L1099.4 2041 L1110.7 2037.2 L1118.3 2035.9 L1120.1 2032.1 L1130.1 2025.3 L1136.4 2027.1 L1150.2 2015.8 L1174.1 2012.8 L1188 2017.8 L1200.6 2020.3 L1213.2 2014.5 L1220.7 2017.8 L1240.9 2006.2 L1253.4 2008.2 L1266 1999.4 L1278.6 1993.1 L1284.9 1993.1 L1296.2 1996.9 L1308.8 1990.6 L1315.1 1993.1 L1326.5 1989.3 L1341.6 1990.1 L1347.9 1988.1 L1355.4 1992.6 L1379.3 1991.9 L1386.9 1997.7 L1392.4 1993.6 L1399.5 1997.7 L1405.8 1993.1 L1412.1 1996.9 L1419.6 1992.6 L1425.9 1992.6 L1432.2 1995.6 L1438.5 1993.6 L1444.8 1995.1 L1452.3 1992.6 L1462.4 1991.9 L1475 1998.2 L1482.6 1996.1 L1497.7 2000.2 L1509 1999.4 L1516.5 1995.1 L1525.4 1996.1 L1534.2 2000.2 L1540.5 1998.2 L1546.8 2001.9 L1553.1 1999.4 L1560.6 1997.7 L1573.2 2000.7 L1582 2000.7 L1585.8 1998.7 L1590.1 2000.2 L1602.6 1998.7 L1622.7 2000.7 L1632.8 1998.7 L1642.9 2001.2 L1652.9 2000.7 L1663 2003.2 L1669.3 2000.2 L1676.9 2003.7 L1686.9 2007 L1694.5 2006.2 L1702 2011.2 L1708.3 2009.5 L1720.9 2000.2 L1732.3 2001.2 L1741.1 2007 L1747.4 2007.7 L1756.2 2005.2 L1766.2 2007 L1777.6 2009.5 L1785.1 2006.2 L1799 2017.8 L1805.3 2018.8 L1811.1 2022.8 L1817.9 2015.8 L1827.9 2018.8 L1835.5 2017.8 L1849.3 2024.6 L1856.9 2018.3 L1874.5 2018.8 L1883.3 2025.9 L1888.4 2025.9 L1908.5 2020.3 L1913.5 2020.3 L1921.1 2022.8 L1931.2 2022.1 L1940 2029.6 L1952.6 2033.9 L1965.1 2042.2 L1970.2 2043 L1977.7 2046 L1985.3 2044 L1995.4 2042.2 L2005.4 2044.7 L2020.5 2042.2 L2031.9 2046.5 L2043.2 2049 L2055.8 2049 L2060.1 2051 L2067.6 2058.6 L2075.1 2056.1 L2083.9 2053 L2097.8 2064.1 L2114.1 2068.7 L2124.2 2073.2 L2133 2069.2 L2141.8 2071.2 L2150.6 2076.7 L2159.5 2073.2 L2168.8 2069.9 L2178.3 2075.7 L2189.7 2083.8 L2203.5 2088.3 L2221.1 2084.3 L2236.2 2085 L2246.3 2085.8 L2253.9 2082.5 L2260.2 2083.3 L2272.7 2095.8 L2286.6 2096.9 L2296.7 2097.6 L2305.5 2107.7 L2310.5 2108.4 L2316.8 2112.7 L2328.9 2100.1 L2337 2103.4 L2348.3 2106.4 L2355.8 2103.4 L2369.7 2111 L2387.3 2106.9 L2394.9 2107.7 L2402.4 2112 L2407.4 2111.5 L2419.3 2121.5 L2426.3 2115.2 L2432.6 2119 L2446.5 2111.5 L2452.8 2114 L2470.4 2128.6 L2476.7 2123.5 L2483 2126.6 L2496.8 2116.5 L2503.1 2119 L2513.2 2119" fill="none" stroke="#FF0000" stroke-width="4.4" stroke-linejoin="round"/>
<path d="M185.5 2183.2 L193.8 2187 L205.2 2179.4 L220.3 2184 L230.4 2178.2 L245.5 2182 L263.1 2178.2 L275.7 2179.4 L288.3 2184.5 L300.9 2179.4 L316 2184.5 L336.1 2176.9 L351.2 2183.2 L366.3 2179.4 L381.4 2184.5 L396.5 2176.9 L406.6 2182 L421.7 2174.4 L439.3 2181.4 L451.9 2173.1 L464.5 2180.7 L472.1 2172.4 L482.1 2175.7 L494.7 2176.9 L507.3 2178.2 L517.4 2179.4 L527.4 2183.2 L542.6 2180.7 L552.6 2174.4 L560.2 2184.5 L567.7 2178.2 L582.8 2173.1 L595.4 2168.1 L608 2171.9 L623.1 2165.6 L633.2 2164.3 L650.1 2169.4 L660.1 2164.3 L668.9 2159.8 L675.2 2163.1 L681.5 2161.8 L687.8 2164.3 L695.3 2160.6 L712.9 2167.3 L719.2 2161.3 L725.5 2160.6 L733.1 2166.8 L738.1 2164.3 L745.7 2164.8 L765.8 2157.5 L774.6 2162.3 L780.9 2162.3 L788.5 2158 L798.5 2152.2 L806.1 2151.7 L813.7 2156.8 L822.5 2163.1 L833.8 2156.8 L841.3 2156 L848.9 2153 L861.5 2159.3 L870.3 2151.7 L879.1 2149.2 L891.7 2149.7 L901.8 2146.7 L909.3 2148 L919.4 2144.2 L925.7 2148 L938.3 2139.2 L944.6 2146.2 L952.1 2144.2 L969.8 2139.7 L979.8 2136.1 L987.4 2136.1 L996.2 2137.9 L1002.5 2134.6 L1008.8 2134.6 L1015.1 2131.6 L1020.1 2134.6 L1026.4 2134.6 L1034 2128.6 L1040.8 2124.5 L1047.8 2127.8 L1060.4 2127.1 L1078 2126.6 L1088.1 2129.6 L1098.2 2128.6 L1105.7 2129.6 L1120.1 2126.6 L1130.1 2120.3 L1136.4 2121.5 L1150.2 2119 L1157.8 2115.2 L1170.4 2115.2 L1181.7 2109.4 L1190.5 2114 L1200.6 2117.7 L1208.1 2114 L1215.7 2113.5 L1225.7 2114.5 L1240.9 2108.4 L1248.4 2108.4 L1253.4 2106.4 L1264.8 2111 L1278.6 2100.1 L1284.9 2098.9 L1292.5 2102.6 L1306.3 2095.8 L1313.9 2094.3 L1322.7 2095.8 L1334 2090.8 L1341.6 2090.8 L1355.4 2093.3 L1369.3 2088.8 L1381.8 2086.8 L1394.4 2086.8 L1399.5 2088.8 L1409.5 2085.8 L1422.1 2085 L1434.7 2085.8 L1447.3 2084.3 L1464.9 2085 L1477.5 2083.3 L1490.1 2084.3 L1502.7 2083.3 L1515.3 2085.8 L1527.9 2079.2 L1537.9 2083.8 L1545.5 2082.5 L1554.3 2085 L1560.6 2083.8 L1573.2 2086.3 L1585.8 2088.8 L1590.1 2088.8 L1600.1 2086.8 L1612.7 2085 L1636.6 2085 L1644.1 2089.3 L1655.5 2090.8 L1673.1 2088.8 L1683.2 2091.3 L1695.7 2090.1 L1708.3 2092.6 L1720.9 2090.8 L1727.2 2089.3 L1733.5 2091.8 L1741.1 2091.3 L1751.1 2095.1 L1763.7 2095.8 L1772.5 2098.4 L1783.9 2094.3 L1791.4 2099.4 L1799 2102.6 L1810.3 2103.9 L1817.9 2105.9 L1835.5 2109.4 L1841.8 2105.2 L1854.4 2111 L1861.9 2107.7 L1868.2 2107.7 L1874.5 2105.9 L1882.1 2110.2 L1888.4 2116.5 L1894.6 2116 L1902.2 2111.5 L1907.2 2110.2 L1914.8 2113.5 L1926.1 2116 L1937.4 2121 L1945 2119.5 L1957.6 2121 L1966.4 2129.6 L1975.2 2133.6 L1985.3 2133.6 L1995.4 2132.1 L2001.7 2137.9 L2009.2 2134.1 L2015.5 2132.1 L2021.8 2134.6 L2028.1 2139.2 L2035.6 2136.6 L2043.2 2136.6 L2055.8 2137.9 L2060.1 2139.7 L2071.3 2141.2 L2078.9 2140.4 L2085.2 2137.9 L2097.8 2146.7 L2114.1 2149.2 L2133 2150.5 L2144.3 2147.2 L2150.6 2151.2 L2156.9 2151.7 L2163.2 2154.8 L2175.8 2151.2 L2185.9 2155.5 L2196 2160.6 L2208.5 2158 L2214.8 2159.3 L2221.1 2155.5 L2240 2165.6 L2251.3 2161.3 L2265.2 2160.6 L2271.5 2163.1 L2282.8 2171.4 L2289.1 2171.9 L2296.7 2169.9 L2311.8 2179.4 L2316.8 2178.9 L2329.4 2173.1 L2335.7 2176.4 L2347 2175.7 L2355.8 2181.4 L2368.4 2172.4 L2381 2181.4 L2387.3 2173.9 L2397.4 2176.4 L2415 2187 L2420 2187 L2432.6 2182.5 L2445.2 2187.5 L2451.5 2183.2 L2470.4 2187.5 L2476.7 2183.2 L2495.6 2196.6 L2505.6 2189.5 L2513.2 2185" fill="none" stroke="#0000FF" stroke-width="4.4" stroke-linejoin="round"/>
<path d="M514 2062.4 L521.8 2054.6 L529.6 2062.4 L521.8 2070.2 Z" fill="#FF0000"/>
<path d="M552.4 2055.7 L560.2 2047.9 L568 2055.7 L560.2 2063.5 Z" fill="#FF0000"/>
<path d="M1039.6 2004.5 L1047.4 1996.7 L1055.2 2004.5 L1047.4 2012.3 Z" fill="#FF0000"/>
<path d="M1046 2001.9 L1053.8 1994.1 L1061.6 2001.9 L1053.8 2009.7 Z" fill="#FF0000"/>
<path d="M1437 1961.7 L1444.8 1953.9 L1452.6 1961.7 L1444.8 1969.5 Z" fill="#FF0000"/>
<path d="M2135.8 2021.6 L2143.6 2013.8 L2151.4 2021.6 L2143.6 2029.4 Z" fill="#FF0000"/>
<path d="M2180.7 2042.3 L2188.5 2034.5 L2196.3 2042.3 L2188.5 2050.1 Z" fill="#FF0000"/>
<path d="M340.9 2228.6 L348.7 2220.8 L356.5 2228.6 L348.7 2236.4 Z" fill="#0000FF"/>
<path d="M449.8 2225.9 L457.6 2218.1 L465.4 2225.9 L457.6 2233.7 Z" fill="#0000FF"/>
<path d="M840.9 2189.1 L848.7 2181.3 L856.5 2189.1 L848.7 2196.9 Z" fill="#0000FF"/>
<path d="M847.3 2189.1 L855.1 2181.3 L862.9 2189.1 L855.1 2196.9 Z" fill="#0000FF"/>
<path d="M1578.1 2118.9 L1585.9 2111.1 L1593.7 2118.9 L1585.9 2126.7 Z" fill="#0000FF"/>
<path d="M1917.8 2145.6 L1925.6 2137.8 L1933.4 2145.6 L1925.6 2153.4 Z" fill="#0000FF"/>
<path d="M1924.2 2145.6 L1932 2137.8 L1939.8 2145.6 L1932 2153.4 Z" fill="#0000FF"/>
<path d="M1949.9 2151.7 L1957.7 2143.9 L1965.5 2151.7 L1957.7 2159.5 Z" fill="#0000FF"/>
<path d="M1956.3 2161.7 L1964.1 2153.9 L1971.9 2161.7 L1964.1 2169.5 Z" fill="#0000FF"/>
<path d="M1969.1 2161.7 L1976.9 2153.9 L1984.7 2161.7 L1976.9 2169.5 Z" fill="#0000FF"/>
<path d="M2097.3 2192.1 L2105.1 2184.3 L2112.9 2192.1 L2105.1 2199.9 Z" fill="#0000FF"/>
<path d="M2103.7 2205.8 L2111.5 2198 L2119.3 2205.8 L2111.5 2213.6 Z" fill="#0000FF"/>
<text x="217.8" y="1951.7" font-size="35.97" text-anchor="start" fill="#000" >Daily Min/Max Temps</text>
<text x="2494.3" y="1951.6" font-size="35.6" text-anchor="end" fill="#FF0000" >7</text>
<text x="2474.2" y="2282.2" font-size="35.6" text-anchor="end" fill="#0000FF" >12</text>
</g>
<rect x="184.2" y="1915.2" width="2329.1" height="404.2" fill="none" stroke="#000" stroke-width="4.3" />
<line x1="170.3" y1="2256" x2="182" y2="2256" stroke="#333333" stroke-width="4.4" />
<text x="160.3" y="2269.6" font-size="36.67" text-anchor="end" fill="#4D4D4D" >0</text>
<line x1="170.3" y1="2172.4" x2="182" y2="2172.4" stroke="#333333" stroke-width="4.4" />
<text x="160.3" y="2186" font-size="36.67" text-anchor="end" fill="#4D4D4D" >25</text>
<line x1="170.3" y1="2088.8" x2="182" y2="2088.8" stroke="#333333" stroke-width="4.4" />
<text x="160.3" y="2102.4" font-size="36.67" text-anchor="end" fill="#4D4D4D" >50</text>
<line x1="170.3" y1="2005.2" x2="182" y2="2005.2" stroke="#333333" stroke-width="4.4" />
<text x="160.3" y="2018.8" font-size="36.67" text-anchor="end" fill="#4D4D4D" >75</text>
<line x1="170.3" y1="1921.6" x2="182" y2="1921.6" stroke="#333333" stroke-width="4.4" />
<text x="160.3" y="1935.2" font-size="36.67" text-anchor="end" fill="#4D4D4D" >100</text>
<line x1="183.5" y1="2321.5" x2="183.5" y2="2332.7" stroke="#333333" stroke-width="4.4" />
<text x="182" y="2368.8" font-size="36.67" text-anchor="middle" fill="#4D4D4D" >Jan</text>
<line x1="380.7" y1="2321.5" x2="380.7" y2="2332.7" stroke="#333333" stroke-width="4.4" />
<text x="380.7" y="2368.8" font-size="36.67" text-anchor="middle" fill="#4D4D4D" >Feb</text>
<line x1="560.2" y1="2321.5" x2="560.2" y2="2332.7" stroke="#333333" stroke-width="4.4" />
<text x="560.2" y="2368.8" font-size="36.67" text-anchor="middle" fill="#4D4D4D" >Mar</text>
<line x1="758.9" y1="2321.5" x2="758.9" y2="2332.7" stroke="#333333" stroke-width="4.4" />
<text x="758.9" y="2368.8" font-size="36.67" text-anchor="middle" fill="#4D4D4D" >Apr</text>
<line x1="951.2" y1="2321.5" x2="951.2" y2="2332.7" stroke="#333333" stroke-width="4.4" />
<text x="951.2" y="2368.8" font-size="36.67" text-anchor="middle" fill="#4D4D4D" >May</text>
<line x1="1150" y1="2321.5" x2="1150" y2="2332.7" stroke="#333333" stroke-width="4.4" />
<text x="1150" y="2368.8" font-size="36.67" text-anchor="middle" fill="#4D4D4D" >Jun</text>
<line x1="1342.3" y1="2321.5" x2="1342.3" y2="2332.7" stroke="#333333" stroke-width="4.4" />
<text x="1342.3" y="2368.8" font-size="36.67" text-anchor="middle" fill="#4D4D4D" >Jul</text>
<line x1="1541" y1="2321.5" x2="1541" y2="2332.7" stroke="#333333" stroke-width="4.4" />
<text x="1541" y="2368.8" font-size="36.67" text-anchor="middle" fill="#4D4D4D" >Aug</text>
<line x1="1739.7" y1="2321.5" x2="1739.7" y2="2332.7" stroke="#333333" stroke-width="4.4" />
<text x="1739.7" y="2368.8" font-size="36.67" text-anchor="middle" fill="#4D4D4D" >Sep</text>
<line x1="1932" y1="2321.5" x2="1932" y2="2332.7" stroke="#333333" stroke-width="4.4" />
<text x="1932" y="2368.8" font-size="36.67" text-anchor="middle" fill="#4D4D4D" >Oct</text>
<line x1="2130.8" y1="2321.5" x2="2130.8" y2="2332.7" stroke="#333333" stroke-width="4.4" />
<text x="2130.8" y="2368.8" font-size="36.67" text-anchor="middle" fill="#4D4D4D" >Nov</text>
<line x1="2323.1" y1="2321.5" x2="2323.1" y2="2332.7" stroke="#333333" stroke-width="4.4" />
<text x="2323.1" y="2368.8" font-size="36.67" text-anchor="middle" fill="#4D4D4D" >Dec</text>
<text transform="translate(57.9 2117) rotate(-90)" font-size="45.8" text-anchor="middle">deg F</text>
<rect x="2573.4" y="166.1" width="703.3" height="485.4" fill="none" stroke="#333333" stroke-width="2" />
<g clip-path="url(#cInfo)">
<text x="2606.1" y="235.7" font-size="41.67" text-anchor="start" fill="#000" font-weight="bold" >MORMON MOUNTAIN</text>
<text x="2606.1" y="312.2" font-size="41.67" text-anchor="start" fill="#000" >Elevation (ft): 7500</text>
<text x="2606.1" y="367.8" font-size="41.67" text-anchor="start" fill="#000" >Period of record: 1994-2020</text>
<text x="2606.1" y="423.3" font-size="41.67" text-anchor="start" fill="#000" >Years in record: 27</text>
<text x="2606.1" y="478.8" font-size="41.67" text-anchor="start" fill="#000" >Precip rank: 24 (1-wettest)</text>
<text x="2606.1" y="534.4" font-size="41.67" text-anchor="start" fill="#000" >Temp rank: 14 (1-warmest)</text>
<text x="2606.1" y="590" font-size="41.67" text-anchor="start" fill="#000" >Missing in 2009: 1</text>
<text x="2606.1" y="645.5" font-size="41.67" text-anchor="start" fill="#000" >Total snow (in): 0 (NaN % avg)</text>
</g>
<defs><clipPath id="cMap"><rect x="2778.3" y="697.4" width="287.4" height="152.8"/></clipPath><clipPath id="cInfo"><rect x="2574" y="167" width="702" height="483.5"/></clipPath></defs>
<g clip-path="url(#cMap)">
<rect x="2778.3" y="697.4" width="287.4" height="152.8" fill="#D3D3D3" stroke="none" stroke-width="0" />
<path d="M2774.8 809.1 L2793.9 808.2 L2793.9 811.7 L2874 836.1 L2937 836.1 L2937 827.6 L2973.2 827.6 L2977.5 833.1 L2983.6 836.6 L2997.5 850.2 L3001 852.3 L2774.8 852.3Z" fill="#fff"/>
<line x1="2790.8" y1="801.8" x2="2790.8" y2="852.3" stroke="#EBEBEB" stroke-width="1.2" />
<line x1="2817.8" y1="801.8" x2="2817.8" y2="852.3" stroke="#EBEBEB" stroke-width="1.2" />
<line x1="2844.8" y1="801.8" x2="2844.8" y2="852.3" stroke="#EBEBEB" stroke-width="1.2" />
<line x1="2871.7" y1="801.8" x2="2871.7" y2="852.3" stroke="#EBEBEB" stroke-width="1.2" />
<line x1="2898.3" y1="801.8" x2="2898.3" y2="852.3" stroke="#EBEBEB" stroke-width="1.2" />
<line x1="2925.3" y1="801.8" x2="2925.3" y2="852.3" stroke="#EBEBEB" stroke-width="1.2" />
<line x1="2952.3" y1="801.8" x2="2952.3" y2="852.3" stroke="#EBEBEB" stroke-width="1.2" />
<line x1="2979.3" y1="801.8" x2="2979.3" y2="852.3" stroke="#EBEBEB" stroke-width="1.2" />
<line x1="2774.8" y1="822.2" x2="3001" y2="822.2" stroke="#EBEBEB" stroke-width="1.2" />
<line x1="2774.8" y1="843.6" x2="3001" y2="843.6" stroke="#EBEBEB" stroke-width="1.2" />
<path d="M2793.9 811.7 L2874 836.1 L2937 836.1 L2937 827.6 L2973.2 827.6 L2977.5 833.1 L2983.6 836.6 L2997.5 850.2 L3001 852.3 L3070.6 852.3 L3070.6 695.7 L2774.8 695.7 L2774.8 809.1 L2793.9 808.2Z" fill="#D3D3D3"/>
<path d="M2811.3 695.7 L2811.3 730.5 L2809.6 735.3 L2807 736.6 L2802.6 733.1 L2797.4 732.7 L2795.7 734.8 L2798.3 747.9 L2800 751.3 L2799.2 756.6 L2804.4 767 L2806.1 770.5 L2809.9 773.1 L2804.4 776.6 L2800.6 781.8 L2800.6 787.9 L2796 793.1 L2797.1 798.3 L2801.8 800.1 L2800.9 804.4 L2793.9 808.2 L2793.9 811.7 L2874 836.1 L2937 836.1 L2937 827.6 L2973.2 827.6 L2977.5 833.1 L2983.6 836.6 L2997.5 850.2 L3001 852.3" fill="none" stroke="#BEBEBE" stroke-width="4" stroke-linejoin="round" stroke-linecap="round"/>
<path d="M2811.3 714.5 L3070.6 714.5" fill="none" stroke="#BEBEBE" stroke-width="4" stroke-linejoin="round" stroke-linecap="round"/>
<path d="M2918.4 695.7 L2918.4 836.1" fill="none" stroke="#BEBEBE" stroke-width="4" stroke-linejoin="round" stroke-linecap="round"/>
<path d="M3048 714.5 L3046.6 822.7 L2969.7 822.3 L2969.7 827.6" fill="none" stroke="#BEBEBE" stroke-width="4" stroke-linejoin="round" stroke-linecap="round"/>
<path d="M3048 725.6 L3070.6 725.6" fill="none" stroke="#BEBEBE" stroke-width="4" stroke-linejoin="round" stroke-linecap="round"/>
<path d="M2774.8 740 L2799.2 756.6" fill="none" stroke="#BEBEBE" stroke-width="4" stroke-linejoin="round" stroke-linecap="round"/>
<path d="M2774.8 809.1 L2793.9 808.2" fill="none" stroke="#BEBEBE" stroke-width="4" stroke-linejoin="round" stroke-linecap="round"/>
<circle cx="2865.6" cy="758.8" r="7.5" fill="#FF0000"/>
</g>
<rect x="2778.3" y="697.4" width="287.4" height="152.8" fill="none" stroke="#333333" stroke-width="1.4" />
<rect x="2616" y="888.9" width="153.3" height="255.3" fill="#fff" stroke="none" stroke-width="0" />
<rect x="2622.6" y="1055.7" width="140.1" height="86.5" fill="#1E90FF" stroke="#000" stroke-width="4" />
<line x1="2618" y1="1016.8" x2="2767.3" y2="1016.8" stroke="#FF0000" stroke-width="4.4" />
<rect x="2618.2" y="891" width="149" height="251" fill="none" stroke="#000" stroke-width="4.3" />
<line x1="2604.2" y1="1144.2" x2="2616" y2="1144.2" stroke="#333333" stroke-width="4" />
<text x="2594.6" y="1155" font-size="30" text-anchor="end" fill="#4D4D4D" font-weight="bold" >0</text>
<line x1="2604.2" y1="1097.4" x2="2616" y2="1097.4" stroke="#333333" stroke-width="4" />
<text x="2594.6" y="1108.2" font-size="30" text-anchor="end" fill="#4D4D4D" font-weight="bold" >10</text>
<line x1="2604.2" y1="1050.5" x2="2616" y2="1050.5" stroke="#333333" stroke-width="4" />
<text x="2594.6" y="1061.3" font-size="30" text-anchor="end" fill="#4D4D4D" font-weight="bold" >20</text>
<line x1="2604.2" y1="1003.7" x2="2616" y2="1003.7" stroke="#333333" stroke-width="4" />
<text x="2594.6" y="1014.5" font-size="30" text-anchor="end" fill="#4D4D4D" font-weight="bold" >30</text>
<line x1="2604.2" y1="956.8" x2="2616" y2="956.8" stroke="#333333" stroke-width="4" />
<text x="2594.6" y="967.6" font-size="30" text-anchor="end" fill="#4D4D4D" font-weight="bold" >40</text>
<line x1="2604.2" y1="910" x2="2616" y2="910" stroke="#333333" stroke-width="4" />
<text x="2594.6" y="920.8" font-size="30" text-anchor="end" fill="#4D4D4D" font-weight="bold" >50</text>
<text x="2692.7" y="1192.9" font-size="36.3" text-anchor="middle" fill="#000" >Precip</text>
<text x="2692.7" y="926.4" font-size="35.2" text-anchor="middle" fill="#000" >18.9 in</text>
<rect x="2886.8" y="888.9" width="136.5" height="255.3" fill="#fff" stroke="none" stroke-width="0" />
<rect x="2893.4" y="1059.3" width="123.3" height="82.9" fill="#00FF00" stroke="#000" stroke-width="4" />
<line x1="2888.8" y1="1016.4" x2="3021.3" y2="1016.4" stroke="#FF0000" stroke-width="4.4" />
<rect x="2889" y="891" width="132.2" height="251" fill="none" stroke="#000" stroke-width="4.3" />
<line x1="2874.6" y1="1144.2" x2="2886.8" y2="1144.2" stroke="#333333" stroke-width="4" />
<text x="2866" y="1155" font-size="30" text-anchor="end" fill="#4D4D4D" font-weight="bold" >0</text>
<line x1="2874.6" y1="1073.5" x2="2886.8" y2="1073.5" stroke="#333333" stroke-width="4" />
<text x="2866" y="1084.2" font-size="30" text-anchor="end" fill="#4D4D4D" font-weight="bold" >50</text>
<line x1="2874.6" y1="1002.7" x2="2886.8" y2="1002.7" stroke="#333333" stroke-width="4" />
<text x="2866" y="1013.5" font-size="30" text-anchor="end" fill="#4D4D4D" font-weight="bold" >100</text>
<line x1="2874.6" y1="932" x2="2886.8" y2="932" stroke="#333333" stroke-width="4" />
<text x="2866" y="942.8" font-size="30" text-anchor="end" fill="#4D4D4D" font-weight="bold" >150</text>
<text x="2955.1" y="1192.9" font-size="36.3" text-anchor="middle" fill="#000" >Rain days</text>
<text x="2955.1" y="926.4" font-size="35.2" text-anchor="middle" fill="#000" >60 days</text>
<rect x="3131.7" y="888.9" width="145.3" height="255.3" fill="#fff" stroke="none" stroke-width="0" />
<rect x="3138.3" y="1011.2" width="132.1" height="131" fill="#FFFF00" stroke="#000" stroke-width="4" />
<line x1="3133.7" y1="1017" x2="3275" y2="1017" stroke="#FF0000" stroke-width="4.4" />
<rect x="3133.8" y="891" width="141" height="251" fill="none" stroke="#000" stroke-width="4.3" />
<line x1="3119.7" y1="1144.2" x2="3131.7" y2="1144.2" stroke="#333333" stroke-width="4" />
<text x="3110.4" y="1155" font-size="30" text-anchor="end" fill="#4D4D4D" font-weight="bold" >0.0</text>
<line x1="3119.7" y1="1102" x2="3131.7" y2="1102" stroke="#333333" stroke-width="4" />
<text x="3110.4" y="1112.8" font-size="30" text-anchor="end" fill="#4D4D4D" font-weight="bold" >0.1</text>
<line x1="3119.7" y1="1059.8" x2="3131.7" y2="1059.8" stroke="#333333" stroke-width="4" />
<text x="3110.4" y="1070.6" font-size="30" text-anchor="end" fill="#4D4D4D" font-weight="bold" >0.2</text>
<line x1="3119.7" y1="1017.5" x2="3131.7" y2="1017.5" stroke="#333333" stroke-width="4" />
<text x="3110.4" y="1028.3" font-size="30" text-anchor="end" fill="#4D4D4D" font-weight="bold" >0.3</text>
<line x1="3119.7" y1="975.3" x2="3131.7" y2="975.3" stroke="#333333" stroke-width="4" />
<text x="3110.4" y="986.1" font-size="30" text-anchor="end" fill="#4D4D4D" font-weight="bold" >0.4</text>
<line x1="3119.7" y1="933.1" x2="3131.7" y2="933.1" stroke="#333333" stroke-width="4" />
<text x="3110.4" y="943.9" font-size="30" text-anchor="end" fill="#4D4D4D" font-weight="bold" >0.5</text>
<line x1="3119.7" y1="890.9" x2="3131.7" y2="890.9" stroke="#333333" stroke-width="4" />
<text x="3110.4" y="901.7" font-size="30" text-anchor="end" fill="#4D4D4D" font-weight="bold" >0.6</text>
<text x="3204.3" y="1192.9" font-size="36.3" text-anchor="middle" fill="#000" >Intensity</text>
<text x="3198.8" y="939.8" font-size="35.2" text-anchor="middle" fill="#000" >0.32</text>
<text x="3204.3" y="991.8" font-size="35.2" text-anchor="middle" fill="#000" >in/day</text>
<rect x="2616" y="1878.9" width="153.3" height="439.7" fill="#fff" stroke="none" stroke-width="0" />
<rect x="2622.6" y="2070.6" width="140.1" height="246" fill="#0000FF" stroke="#000" stroke-width="4" />
<line x1="2618" y1="2098.6" x2="2767.3" y2="2098.6" stroke="#FFA500" stroke-width="4.4" />
<rect x="2618.2" y="1881.1" width="149" height="435.4" fill="none" stroke="#000" stroke-width="4.3" />
<line x1="2604.2" y1="2318.6" x2="2616" y2="2318.6" stroke="#333333" stroke-width="4" />
<text x="2594.6" y="2329.4" font-size="30" text-anchor="end" fill="#4D4D4D" font-weight="bold" >30</text>
<line x1="2604.2" y1="2238.6" x2="2616" y2="2238.6" stroke="#333333" stroke-width="4" />
<text x="2594.6" y="2249.4" font-size="30" text-anchor="end" fill="#4D4D4D" font-weight="bold" >32</text>
<line x1="2604.2" y1="2158.6" x2="2616" y2="2158.6" stroke="#333333" stroke-width="4" />
<text x="2594.6" y="2169.4" font-size="30" text-anchor="end" fill="#4D4D4D" font-weight="bold" >34</text>
<line x1="2604.2" y1="2078.6" x2="2616" y2="2078.6" stroke="#333333" stroke-width="4" />
<text x="2594.6" y="2089.4" font-size="30" text-anchor="end" fill="#4D4D4D" font-weight="bold" >36</text>
<line x1="2604.2" y1="1998.6" x2="2616" y2="1998.6" stroke="#333333" stroke-width="4" />
<text x="2594.6" y="2009.4" font-size="30" text-anchor="end" fill="#4D4D4D" font-weight="bold" >38</text>
<line x1="2604.2" y1="1918.6" x2="2616" y2="1918.6" stroke="#333333" stroke-width="4" />
<text x="2594.6" y="1929.4" font-size="30" text-anchor="end" fill="#4D4D4D" font-weight="bold" >40</text>
<text x="2692.7" y="2367.3" font-size="36.3" text-anchor="middle" fill="#000" >T-min</text>
<text x="2692.7" y="1925" font-size="35.2" text-anchor="middle" fill="#000" >36.2 F</text>
<rect x="2870" y="1878.9" width="153.3" height="439.7" fill="#fff" stroke="none" stroke-width="0" />
<rect x="2876.6" y="2086.2" width="140.1" height="230.4" fill="#1E90FF" stroke="#000" stroke-width="4" />
<line x1="2872" y1="2099.4" x2="3021.3" y2="2099.4" stroke="#FFA500" stroke-width="4.4" />
<rect x="2872.2" y="1881.1" width="149" height="435.4" fill="none" stroke="#000" stroke-width="4.3" />
<line x1="2858.2" y1="2246.2" x2="2870" y2="2246.2" stroke="#333333" stroke-width="4" />
<text x="2848.6" y="2257" font-size="30" text-anchor="end" fill="#4D4D4D" font-weight="bold" >44</text>
<line x1="2858.2" y1="2166.2" x2="2870" y2="2166.2" stroke="#333333" stroke-width="4" />
<text x="2848.6" y="2177" font-size="30" text-anchor="end" fill="#4D4D4D" font-weight="bold" >46</text>
<line x1="2858.2" y1="2086.2" x2="2870" y2="2086.2" stroke="#333333" stroke-width="4" />
<text x="2848.6" y="2097" font-size="30" text-anchor="end" fill="#4D4D4D" font-weight="bold" >48</text>
<line x1="2858.2" y1="2006.2" x2="2870" y2="2006.2" stroke="#333333" stroke-width="4" />
<text x="2848.6" y="2017" font-size="30" text-anchor="end" fill="#4D4D4D" font-weight="bold" >50</text>
<line x1="2858.2" y1="1926.2" x2="2870" y2="1926.2" stroke="#333333" stroke-width="4" />
<text x="2848.6" y="1937" font-size="30" text-anchor="end" fill="#4D4D4D" font-weight="bold" >52</text>
<text x="2946.7" y="2367.3" font-size="36.3" text-anchor="middle" fill="#000" >T-mean</text>
<text x="2946.7" y="1925" font-size="35.2" text-anchor="middle" fill="#000" >48 F</text>
<rect x="3124" y="1878.9" width="153" height="439.7" fill="#fff" stroke="none" stroke-width="0" />
<rect x="3130.6" y="2103" width="139.8" height="213.6" fill="#FF0000" stroke="#000" stroke-width="4" />
<line x1="3126" y1="2099" x2="3275" y2="2099" stroke="#FFA500" stroke-width="4.4" />
<rect x="3126.2" y="1881.1" width="148.7" height="435.4" fill="none" stroke="#000" stroke-width="4.3" />
<line x1="3112.2" y1="2255" x2="3124" y2="2255" stroke="#333333" stroke-width="4" />
<text x="3101.6" y="2265.8" font-size="30" text-anchor="end" fill="#4D4D4D" font-weight="bold" >56</text>
<line x1="3112.2" y1="2175" x2="3124" y2="2175" stroke="#333333" stroke-width="4" />
<text x="3101.6" y="2185.8" font-size="30" text-anchor="end" fill="#4D4D4D" font-weight="bold" >58</text>
<line x1="3112.2" y1="2095" x2="3124" y2="2095" stroke="#333333" stroke-width="4" />
<text x="3101.6" y="2105.8" font-size="30" text-anchor="end" fill="#4D4D4D" font-weight="bold" >60</text>
<line x1="3112.2" y1="2015" x2="3124" y2="2015" stroke="#333333" stroke-width="4" />
<text x="3101.6" y="2025.8" font-size="30" text-anchor="end" fill="#4D4D4D" font-weight="bold" >62</text>
<line x1="3112.2" y1="1935" x2="3124" y2="1935" stroke="#333333" stroke-width="4" />
<text x="3101.6" y="1945.8" font-size="30" text-anchor="end" fill="#4D4D4D" font-weight="bold" >64</text>
<text x="3200.5" y="2367.3" font-size="36.3" text-anchor="middle" fill="#000" >T-max</text>
<text x="3200.5" y="1925" font-size="35.2" text-anchor="middle" fill="#000" >59.8 F</text>
<text x="2946.6" y="1272.2" font-size="33.1" text-anchor="middle" fill="#000" >Precip Events (days)</text>
<rect x="2616.6" y="1302.8" width="660.1" height="208.8" fill="#fff" stroke="none" stroke-width="0" />
<line x1="2616.6" y1="1484.5" x2="3276.7" y2="1484.5" stroke="#EBEBEB" stroke-width="2" />
<line x1="2616.6" y1="1447.8" x2="3276.7" y2="1447.8" stroke="#EBEBEB" stroke-width="2" />
<line x1="2616.6" y1="1411" x2="3276.7" y2="1411" stroke="#EBEBEB" stroke-width="2" />
<line x1="2616.6" y1="1374.3" x2="3276.7" y2="1374.3" stroke="#EBEBEB" stroke-width="2" />
<line x1="2616.6" y1="1337.5" x2="3276.7" y2="1337.5" stroke="#EBEBEB" stroke-width="2" />
<line x1="2616.6" y1="1502.9" x2="3276.7" y2="1502.9" stroke="#EBEBEB" stroke-width="4" />
<line x1="2616.6" y1="1466.2" x2="3276.7" y2="1466.2" stroke="#EBEBEB" stroke-width="4" />
<line x1="2616.6" y1="1429.4" x2="3276.7" y2="1429.4" stroke="#EBEBEB" stroke-width="4" />
<line x1="2616.6" y1="1392.7" x2="3276.7" y2="1392.7" stroke="#EBEBEB" stroke-width="4" />
<line x1="2616.6" y1="1355.9" x2="3276.7" y2="1355.9" stroke="#EBEBEB" stroke-width="4" />
<line x1="2616.6" y1="1319.2" x2="3276.7" y2="1319.2" stroke="#EBEBEB" stroke-width="4" />
<line x1="2739.4" y1="1302.8" x2="2739.4" y2="1511.6" stroke="#EBEBEB" stroke-width="4" />
<line x1="2946.4" y1="1302.8" x2="2946.4" y2="1511.6" stroke="#EBEBEB" stroke-width="4" />
<line x1="3153.1" y1="1302.8" x2="3153.1" y2="1511.6" stroke="#EBEBEB" stroke-width="4" />
<rect x="2647.2" y="1311.8" width="185.8" height="191.1" fill="#00BFFF" stroke="#000" stroke-width="4.3" />
<text x="2737.9" y="1351" font-size="34.9" text-anchor="middle" fill="#000" >&lt;0.1</text>
<rect x="2853.2" y="1400" width="186.9" height="102.9" fill="#00B2EE" stroke="#000" stroke-width="4.3" />
<text x="2946.6" y="1438.8" font-size="34.9" text-anchor="middle" fill="#000" >0.1-0.3</text>
<rect x="3059.6" y="1355.9" width="186.9" height="147" fill="#009ACD" stroke="#000" stroke-width="4.3" />
<text x="3151.5" y="1394.3" font-size="34.9" text-anchor="middle" fill="#000" >&gt;0.3</text>
<rect x="2616.6" y="1302.8" width="660.1" height="208.8" fill="none" stroke="#333333" stroke-width="1.6" />
<line x1="2604.4" y1="1502.9" x2="2616.6" y2="1502.9" stroke="#333333" stroke-width="3.6" />
<text x="2594.6" y="1513.7" font-size="30" text-anchor="end" fill="#4D4D4D" font-weight="bold" >0</text>
<line x1="2604.4" y1="1466.2" x2="2616.6" y2="1466.2" stroke="#333333" stroke-width="3.6" />
<text x="2594.6" y="1477" font-size="30" text-anchor="end" fill="#4D4D4D" font-weight="bold" >5</text>
<line x1="2604.4" y1="1429.4" x2="2616.6" y2="1429.4" stroke="#333333" stroke-width="3.6" />
<text x="2594.6" y="1440.2" font-size="30" text-anchor="end" fill="#4D4D4D" font-weight="bold" >10</text>
<line x1="2604.4" y1="1392.7" x2="2616.6" y2="1392.7" stroke="#333333" stroke-width="3.6" />
<text x="2594.6" y="1403.5" font-size="30" text-anchor="end" fill="#4D4D4D" font-weight="bold" >15</text>
<line x1="2604.4" y1="1355.9" x2="2616.6" y2="1355.9" stroke="#333333" stroke-width="3.6" />
<text x="2594.6" y="1366.7" font-size="30" text-anchor="end" fill="#4D4D4D" font-weight="bold" >20</text>
<line x1="2604.4" y1="1319.2" x2="2616.6" y2="1319.2" stroke="#333333" stroke-width="3.6" />
<text x="2594.6" y="1330" font-size="30" text-anchor="end" fill="#4D4D4D" font-weight="bold" >25</text>
<line x1="2739.4" y1="1511.6" x2="2739.4" y2="1522.6" stroke="#333333" stroke-width="3.6" />
<text x="2739.4" y="1554.8" font-size="29.2" text-anchor="middle" fill="#4D4D4D" font-weight="bold" >Light</text>
<line x1="2946.4" y1="1511.6" x2="2946.4" y2="1522.6" stroke="#333333" stroke-width="3.6" />
<text x="2946.4" y="1554.8" font-size="29.2" text-anchor="middle" fill="#4D4D4D" font-weight="bold" >Moderate</text>
<line x1="3153.1" y1="1511.6" x2="3153.1" y2="1522.6" stroke="#333333" stroke-width="3.6" />
<text x="3153.1" y="1554.8" font-size="29.2" text-anchor="middle" fill="#4D4D4D" font-weight="bold" >Heavy</text>
<rect x="2573.4" y="1607.8" width="703.3" height="213" fill="none" stroke="#333333" stroke-width="2" />
<text x="2606.8" y="1657.3" font-size="45.83" text-anchor="start" fill="#A52A2A" font-weight="bold" >Dry Spells</text>
<text x="2606.8" y="1731.4" font-size="45.83" text-anchor="start" fill="#A52A2A" >Avg length: 5 days (avg: 4)</text>
<text x="2606.8" y="1780.8" font-size="45.83" text-anchor="start" fill="#A52A2A" >Max length: 71 days (avg: 50)</text>
<text x="2740.7" y="2416.2" font-size="33.33" text-anchor="start" fill="#000" >Data from http://www.rcc-acis.org/</text>
<text x="2740.7" y="2447.8" font-size="33.33" text-anchor="start" fill="#000" >Plot created: 02-18-2021</text>
<text x="2740.7" y="2479.3" font-size="33.33" text-anchor="start" fill="#000" >The University of Arizona</text>
<text x="2740.7" y="2510.9" font-size="33.33" text-anchor="start" fill="#000" >https://cals.arizona.edu/climate/</text>
<g transform="translate(150 2370) scale(0.22894)">
</g><g transform="translate(165 2380) scale(0.09775)">
<path d="M700 65 L1590 65 Q1655 260 1440 455 L1235 598 L700 598 Z" fill="#7A4300"/>
<path d="M975 680 L1160 680 Q1085 830 1120 990 L900 990 L900 680 Z" fill="#7A4300"/>
<circle cx="712" cy="470" r="398" fill="#93A84A"/>
<path d="M965 690 Q955 850 1105 988" fill="none" stroke="#93A84A" stroke-width="24"/>
<path d="M410 788 Q520 800 620 858 Q720 900 805 872 Q770 850 685 856 Q655 840 700 828 L900 828 Q965 850 1000 900 Q1050 960 1095 988 L700 992 Q520 960 410 788 Z" fill="#7A4300"/>
<path d="M340 308 Q150 330 70 440 Q45 560 200 622 Q380 682 560 682 L605 652 Q420 640 330 592 Q190 520 182 430 Q200 350 340 308 Z" fill="#FDC82F"/>
<path d="M95 500 Q160 600 420 640" fill="none" stroke="#fff" stroke-width="10"/>
<circle cx="690" cy="420" r="245" fill="none" stroke="#E2711D" stroke-width="120"/>
<path d="M600 640 L930 598 L760 705 L640 725 Z" fill="#E2711D"/>
<circle cx="690" cy="420" r="186" fill="#fff"/>
<path d="M690 600 L1245 600 Q1255 500 1160 474 Q1105 462 1085 482 Q1050 380 940 380 Q890 380 868 402 L690 402 Z" fill="#fff"/>
<circle cx="490" cy="785" r="19" fill="#fff"/>
<circle cx="545" cy="747" r="19" fill="#fff"/>
<circle cx="600" cy="709" r="19" fill="#fff"/>
<circle cx="655" cy="671" r="19" fill="#fff"/>
<circle cx="710" cy="633" r="19" fill="#fff"/>
<circle cx="535" cy="820" r="19" fill="#fff"/>
<circle cx="590" cy="782" r="19" fill="#fff"/>
<circle cx="645" cy="744" r="19" fill="#fff"/>
<circle cx="700" cy="706" r="19" fill="#fff"/>
<circle cx="755" cy="668" r="19" fill="#fff"/>
<circle cx="810" cy="630" r="19" fill="#fff"/>
<circle cx="635" cy="817" r="19" fill="#fff"/>
<circle cx="690" cy="779" r="19" fill="#fff"/>
<circle cx="745" cy="741" r="19" fill="#fff"/>
<circle cx="800" cy="703" r="19" fill="#fff"/>
<circle cx="855" cy="665" r="19" fill="#fff"/>
<circle cx="735" cy="814" r="19" fill="#fff"/>
<circle cx="790" cy="776" r="19" fill="#fff"/>
<circle cx="845" cy="738" r="19" fill="#fff"/>
<circle cx="780" cy="849" r="19" fill="#fff"/>
<circle cx="835" cy="811" r="19" fill="#fff"/>
<circle cx="890" cy="773" r="19" fill="#fff"/>
<path d="M920 603 L1480 603 M900 632 L1560 632 M880 661 L1520 661" stroke="#93A84A" stroke-width="13" fill="none"/>
<path d="M1000 603 L1230 603 M990 661 L1200 661" stroke="#B08D6E" stroke-width="13" fill="none"/>
<circle cx="1492" cy="562" r="30" fill="none" stroke="#93A84A" stroke-width="15"/>
<circle cx="1590" cy="592" r="34" fill="none" stroke="#93A84A" stroke-width="15"/>
<circle cx="1552" cy="708" r="34" fill="none" stroke="#93A84A" stroke-width="15"/>
<text x="60" y="1400" font-size="488" font-weight="bold" textLength="1570" lengthAdjust="spacingAndGlyphs" fill="#7A4300" style="font-family:'Liberation Serif',serif">CLIMAS</text>
<text x="60" y="1510" font-size="90" font-weight="bold" textLength="1570" lengthAdjust="spacingAndGlyphs" fill="#8FA84B">Climate Assessment for the Southwest</text>
<text x="1035" y="1592" font-size="54" font-weight="bold" textLength="595" lengthAdjust="spacingAndGlyphs" fill="#E2711D">A NOAA RISA TEAM</text>
</g><g transform="translate(150 2370) scale(0.22894)">
<path d="M885 415 L885 330 Q880 215 990 190 Q1050 175 1095 200 Q1130 80 1250 80 Q1370 85 1390 195 Q1440 165 1500 180 Q1595 205 1590 305 Q1585 400 1490 415 Z" fill="url(#gCloud)" stroke="#6E6E6E" stroke-width="12" stroke-linejoin="round"/>
<text x="977" y="384" font-size="204" font-weight="bold" textLength="478" lengthAdjust="spacingAndGlyphs" fill="#00006E" stroke="#00006E" stroke-width="7" stroke-linejoin="round">CSAP</text>
<line x1="925" y1="435" x2="925" y2="635" stroke="#1E50FF" stroke-width="9"/>
<line x1="968" y1="435" x2="968" y2="635" stroke="#1E50FF" stroke-width="9"/>
<line x1="1012" y1="435" x2="1012" y2="635" stroke="#1E50FF" stroke-width="9"/>
<line x1="1055" y1="435" x2="1055" y2="635" stroke="#1E50FF" stroke-width="9"/>
<line x1="1098" y1="435" x2="1098" y2="560" stroke="#1E50FF" stroke-width="9"/>
<line x1="1137" y1="435" x2="1137" y2="495" stroke="#1E50FF" stroke-width="9"/>
<path d="M885 435 L885 600 Q885 660 945 660 L1595 660" fill="none" stroke="#333" stroke-width="11" stroke-linecap="round"/>
<path d="M1075 652 L1165 492 L1240 612 L1280 545 L1342 652 Z" fill="#6A0050" stroke="#1E7B1E" stroke-width="8" stroke-linejoin="miter"/>
<g stroke="#9A9A9A" stroke-width="9" stroke-linecap="round"><line x1="1238" y1="437" x2="1238" y2="507"/><line x1="1203" y1="472" x2="1273" y2="472"/><line x1="1213" y1="447" x2="1263" y2="497"/><line x1="1263" y1="447" x2="1213" y2="497"/></g>
<path d="M1355 437 A50 50 0 0 0 1455 437" fill="none" stroke="#F4C020" stroke-width="12"/>
<g stroke="#F4C020" stroke-width="7"><line x1="1345" y1="455" x2="1332" y2="462"/><line x1="1365" y1="480" x2="1356" y2="493"/><line x1="1405" y1="492" x2="1405" y2="506"/><line x1="1445" y1="480" x2="1454" y2="493"/><line x1="1465" y1="455" x2="1478" y2="462"/></g>
<path d="M1460 650 L1460 565 M1440 600 L1440 620 L1460 620 M1482 590 L1482 612 L1460 612" fill="none" stroke="#3AA020" stroke-width="13" stroke-linecap="round" stroke-linejoin="round"/>
<text x="862" y="718" font-size="54" font-weight="bold" textLength="773" lengthAdjust="spacingAndGlyphs" fill="#00006E">http://cals.arizona.edu/climate</text>
</g>
<g transform="translate(535 2410) scale(0.05924)">
<path d="M445 160 L1345 160 L1345 530 L1255 530 L1515 1190 L1668 1190 L1668 1560 L985 1560 L985 1318 L810 1318 L810 1560 L125 1560 L125 1190 L280 1190 L540 530 L445 530Z" fill="#00275B"/>
<path d="M572 288 L1220 288 L1220 410 L1090 410 L1430 1305 L1545 1305 L1545 1440 L1105 1440 L1105 1318 L695 1318 L695 1440 L250 1440 L250 1305 L365 1305 L705 410 L572 410Z" fill="#fff"/>
<path d="M900 295 L1245 1190 L1290 1265 L1350 1310 L1130 1310 L1150 1285 L1060 1060 L740 1060 L655 1285 L665 1310 L440 1310 L510 1260 L555 1190Z" fill="#C0203A"/>
<path d="M900 650 L1020 965 L775 965Z" fill="#fff"/>
<circle cx="1810" cy="1500" r="42" fill="none" stroke="#7080A0" stroke-width="14"/>
</g>
<line x1="660.5" y1="2416" x2="660.5" y2="2506" stroke="#0C234B" stroke-width="1.6" />
<text x="681.8" y="2445.4" font-size="17.7" textLength="259" lengthAdjust="spacingAndGlyphs" fill="#0C234B">THE UNIVERSITY OF ARIZONA</text>
<text x="682.4" y="2489.4" font-size="42.5" textLength="428" lengthAdjust="spacingAndGlyphs" fill="#0C234B">Cooperative Extension</text>
</svg></body></html>
